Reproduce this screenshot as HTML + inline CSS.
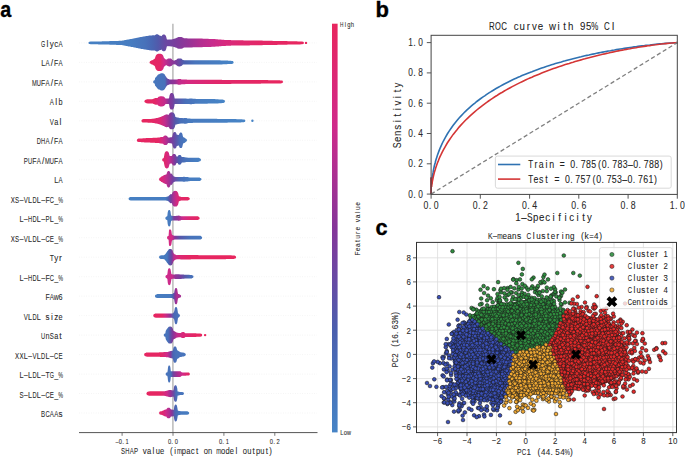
<!DOCTYPE html>
<html><head><meta charset="utf-8"><style>html,body{margin:0;padding:0;background:#fff;} svg{display:block;}</style></head>
<body><svg width="685" height="457" viewBox="0 0 685 457"><defs><linearGradient id="g0" gradientUnits="userSpaceOnUse" x1="88" y1="0" x2="306" y2="0"><stop offset="0.000" stop-color="#4680c3"/><stop offset="0.193" stop-color="#477dc1"/><stop offset="0.261" stop-color="#4872ba"/><stop offset="0.294" stop-color="#4966b3"/><stop offset="0.321" stop-color="#515aab"/><stop offset="0.353" stop-color="#6949a3"/><stop offset="0.399" stop-color="#793d9d"/><stop offset="0.459" stop-color="#943396"/><stop offset="0.514" stop-color="#b22e90"/><stop offset="0.569" stop-color="#c72b8c"/><stop offset="0.628" stop-color="#d7297e"/><stop offset="0.697" stop-color="#de2870"/><stop offset="0.789" stop-color="#e32767"/><stop offset="1.000" stop-color="#e8265e"/></linearGradient><linearGradient id="g1" gradientUnits="userSpaceOnUse" x1="149" y1="0" x2="234" y2="0"><stop offset="0.000" stop-color="#e62662"/><stop offset="0.129" stop-color="#e32767"/><stop offset="0.176" stop-color="#d02a8a"/><stop offset="0.247" stop-color="#9d3194"/><stop offset="0.318" stop-color="#793d9d"/><stop offset="0.412" stop-color="#4a5fae"/><stop offset="0.541" stop-color="#4875bc"/><stop offset="0.776" stop-color="#477dc1"/><stop offset="1.000" stop-color="#4684c6"/></linearGradient><linearGradient id="g2" gradientUnits="userSpaceOnUse" x1="153" y1="0" x2="283" y2="0"><stop offset="0.000" stop-color="#4778be"/><stop offset="0.092" stop-color="#4872ba"/><stop offset="0.108" stop-color="#624ea6"/><stop offset="0.138" stop-color="#853599"/><stop offset="0.169" stop-color="#943396"/><stop offset="0.200" stop-color="#c12c8d"/><stop offset="0.269" stop-color="#d52981"/><stop offset="0.477" stop-color="#e0276c"/><stop offset="1.000" stop-color="#e8265e"/></linearGradient><linearGradient id="g3" gradientUnits="userSpaceOnUse" x1="144" y1="0" x2="225" y2="0"><stop offset="0.000" stop-color="#e8265e"/><stop offset="0.136" stop-color="#e32767"/><stop offset="0.198" stop-color="#d52981"/><stop offset="0.259" stop-color="#c12c8d"/><stop offset="0.309" stop-color="#853599"/><stop offset="0.346" stop-color="#793d9d"/><stop offset="0.383" stop-color="#624ea6"/><stop offset="0.506" stop-color="#486eb8"/><stop offset="0.691" stop-color="#477dc1"/><stop offset="1.000" stop-color="#4684c6"/></linearGradient><linearGradient id="g4" gradientUnits="userSpaceOnUse" x1="141" y1="0" x2="245" y2="0"><stop offset="0.000" stop-color="#e8265e"/><stop offset="0.106" stop-color="#e52663"/><stop offset="0.183" stop-color="#dc2873"/><stop offset="0.231" stop-color="#c12c8d"/><stop offset="0.279" stop-color="#853599"/><stop offset="0.327" stop-color="#5657aa"/><stop offset="0.375" stop-color="#486eb8"/><stop offset="0.471" stop-color="#477abf"/><stop offset="1.000" stop-color="#4684c6"/></linearGradient><linearGradient id="g5" gradientUnits="userSpaceOnUse" x1="136" y1="0" x2="186" y2="0"><stop offset="0.000" stop-color="#e62662"/><stop offset="0.440" stop-color="#e52663"/><stop offset="0.520" stop-color="#d52981"/><stop offset="0.580" stop-color="#c12c8d"/><stop offset="0.680" stop-color="#853599"/><stop offset="0.780" stop-color="#624ea6"/><stop offset="0.880" stop-color="#486eb8"/><stop offset="1.000" stop-color="#477abf"/></linearGradient><linearGradient id="g6" gradientUnits="userSpaceOnUse" x1="162" y1="0" x2="201" y2="0"><stop offset="0.000" stop-color="#e32767"/><stop offset="0.103" stop-color="#dc2873"/><stop offset="0.179" stop-color="#d02a8a"/><stop offset="0.256" stop-color="#a33193"/><stop offset="0.333" stop-color="#793d9d"/><stop offset="0.436" stop-color="#4a5fae"/><stop offset="0.590" stop-color="#4872ba"/><stop offset="0.846" stop-color="#477dc1"/><stop offset="1.000" stop-color="#4680c3"/></linearGradient><linearGradient id="g7" gradientUnits="userSpaceOnUse" x1="159" y1="0" x2="201" y2="0"><stop offset="0.000" stop-color="#e0276c"/><stop offset="0.095" stop-color="#d7297e"/><stop offset="0.167" stop-color="#c12c8d"/><stop offset="0.238" stop-color="#a33193"/><stop offset="0.333" stop-color="#7242a0"/><stop offset="0.500" stop-color="#486eb8"/><stop offset="0.738" stop-color="#477dc1"/><stop offset="1.000" stop-color="#4680c3"/></linearGradient><linearGradient id="g8" gradientUnits="userSpaceOnUse" x1="128" y1="0" x2="190" y2="0"><stop offset="0.000" stop-color="#4680c3"/><stop offset="0.597" stop-color="#477dc1"/><stop offset="0.645" stop-color="#4966b3"/><stop offset="0.694" stop-color="#793d9d"/><stop offset="0.742" stop-color="#b22e90"/><stop offset="0.790" stop-color="#d52981"/><stop offset="0.855" stop-color="#e32767"/><stop offset="1.000" stop-color="#e62662"/></linearGradient><linearGradient id="g9" gradientUnits="userSpaceOnUse" x1="165" y1="0" x2="200" y2="0"><stop offset="0.000" stop-color="#477dc1"/><stop offset="0.171" stop-color="#477abf"/><stop offset="0.257" stop-color="#793d9d"/><stop offset="0.371" stop-color="#943396"/><stop offset="0.514" stop-color="#d02a8a"/><stop offset="0.714" stop-color="#de2870"/><stop offset="1.000" stop-color="#e62662"/></linearGradient><linearGradient id="g10" gradientUnits="userSpaceOnUse" x1="167" y1="0" x2="202" y2="0"><stop offset="0.000" stop-color="#d52981"/><stop offset="0.143" stop-color="#d32a85"/><stop offset="0.229" stop-color="#853599"/><stop offset="0.371" stop-color="#5657aa"/><stop offset="0.657" stop-color="#4872ba"/><stop offset="1.000" stop-color="#4778be"/></linearGradient><linearGradient id="g11" gradientUnits="userSpaceOnUse" x1="159" y1="0" x2="236" y2="0"><stop offset="0.000" stop-color="#477dc1"/><stop offset="0.104" stop-color="#477abf"/><stop offset="0.130" stop-color="#4a5fae"/><stop offset="0.169" stop-color="#793d9d"/><stop offset="0.195" stop-color="#c12c8d"/><stop offset="0.273" stop-color="#dc2873"/><stop offset="0.403" stop-color="#e52663"/><stop offset="1.000" stop-color="#e8265e"/></linearGradient><linearGradient id="g12" gradientUnits="userSpaceOnUse" x1="165" y1="0" x2="193" y2="0"><stop offset="0.000" stop-color="#d02a8a"/><stop offset="0.250" stop-color="#ca2b8b"/><stop offset="0.357" stop-color="#943396"/><stop offset="0.536" stop-color="#793d9d"/><stop offset="0.714" stop-color="#5657aa"/><stop offset="0.893" stop-color="#486eb8"/><stop offset="1.000" stop-color="#4872ba"/></linearGradient><linearGradient id="g13" gradientUnits="userSpaceOnUse" x1="155" y1="0" x2="181" y2="0"><stop offset="0.000" stop-color="#477dc1"/><stop offset="0.577" stop-color="#477abf"/><stop offset="0.692" stop-color="#4a5fae"/><stop offset="0.769" stop-color="#853599"/><stop offset="0.846" stop-color="#b22e90"/><stop offset="1.000" stop-color="#a33193"/></linearGradient><linearGradient id="g14" gradientUnits="userSpaceOnUse" x1="153" y1="0" x2="178" y2="0"><stop offset="0.000" stop-color="#e62662"/><stop offset="0.360" stop-color="#e52663"/><stop offset="0.480" stop-color="#d52981"/><stop offset="0.680" stop-color="#943396"/><stop offset="0.840" stop-color="#4969b5"/><stop offset="1.000" stop-color="#4871ba"/></linearGradient><linearGradient id="g15" gradientUnits="userSpaceOnUse" x1="163" y1="0" x2="205" y2="0"><stop offset="0.000" stop-color="#4875bc"/><stop offset="0.119" stop-color="#4872ba"/><stop offset="0.167" stop-color="#5657aa"/><stop offset="0.238" stop-color="#853599"/><stop offset="0.333" stop-color="#c12c8d"/><stop offset="0.476" stop-color="#da2878"/><stop offset="0.762" stop-color="#e52663"/><stop offset="1.000" stop-color="#e8265e"/></linearGradient><linearGradient id="g16" gradientUnits="userSpaceOnUse" x1="144" y1="0" x2="186" y2="0"><stop offset="0.000" stop-color="#e62662"/><stop offset="0.381" stop-color="#e52663"/><stop offset="0.452" stop-color="#de2870"/><stop offset="0.548" stop-color="#d02a8a"/><stop offset="0.619" stop-color="#943396"/><stop offset="0.690" stop-color="#4966b3"/><stop offset="0.762" stop-color="#4872ba"/><stop offset="1.000" stop-color="#4875bc"/></linearGradient><linearGradient id="g17" gradientUnits="userSpaceOnUse" x1="165" y1="0" x2="190" y2="0"><stop offset="0.000" stop-color="#4875bc"/><stop offset="0.240" stop-color="#4872ba"/><stop offset="0.320" stop-color="#6d46a1"/><stop offset="0.480" stop-color="#a33193"/><stop offset="0.680" stop-color="#d02a8a"/><stop offset="0.880" stop-color="#e0276c"/><stop offset="1.000" stop-color="#e52663"/></linearGradient><linearGradient id="g18" gradientUnits="userSpaceOnUse" x1="146" y1="0" x2="181" y2="0"><stop offset="0.000" stop-color="#e62662"/><stop offset="0.400" stop-color="#e52663"/><stop offset="0.486" stop-color="#de2870"/><stop offset="0.600" stop-color="#d02a8a"/><stop offset="0.714" stop-color="#943396"/><stop offset="0.800" stop-color="#624ea6"/><stop offset="0.857" stop-color="#486eb8"/><stop offset="1.000" stop-color="#4875bc"/></linearGradient><linearGradient id="g19" gradientUnits="userSpaceOnUse" x1="159" y1="0" x2="189" y2="0"><stop offset="0.000" stop-color="#e32767"/><stop offset="0.133" stop-color="#de2870"/><stop offset="0.233" stop-color="#d02a8a"/><stop offset="0.333" stop-color="#b22e90"/><stop offset="0.433" stop-color="#853599"/><stop offset="0.533" stop-color="#4966b3"/><stop offset="0.700" stop-color="#4778be"/><stop offset="1.000" stop-color="#477dc1"/></linearGradient><linearGradient id="cb" x1="0" y1="0" x2="0" y2="1"><stop offset="0.0" stop-color="#e8265e"/><stop offset="0.125" stop-color="#dc2874"/><stop offset="0.25" stop-color="#d02a8a"/><stop offset="0.375" stop-color="#aa3092"/><stop offset="0.5" stop-color="#853599"/><stop offset="0.625" stop-color="#684aa4"/><stop offset="0.75" stop-color="#4a5fae"/><stop offset="0.875" stop-color="#4872ba"/><stop offset="1.0" stop-color="#4684c6"/></linearGradient></defs><rect width="685" height="457" fill="#fff"/><text transform="translate(0.3,16.8) scale(0.88,1)" font-size="22.4" font-family="Liberation Sans, sans-serif" font-weight="bold" fill="#000" stroke="#000" stroke-width="0.35">a</text>
<text transform="translate(375.6,17.4) scale(1.0,1)" font-size="22" font-family="Liberation Sans, sans-serif" font-weight="bold" fill="#000" stroke="#000" stroke-width="0.35">b</text>
<text transform="translate(375.5,235.0) scale(1.0,1)" font-size="21.6" font-family="Liberation Sans, sans-serif" font-weight="bold" fill="#000" stroke="#000" stroke-width="0.35">c</text>
<line x1="79" y1="42.9" x2="317" y2="42.9" stroke="#ebebeb" stroke-width="0.6" stroke-dasharray="0.8,1.6"/>
<line x1="79" y1="62.4" x2="317" y2="62.4" stroke="#ebebeb" stroke-width="0.6" stroke-dasharray="0.8,1.6"/>
<line x1="79" y1="81.9" x2="317" y2="81.9" stroke="#ebebeb" stroke-width="0.6" stroke-dasharray="0.8,1.6"/>
<line x1="79" y1="101.3" x2="317" y2="101.3" stroke="#ebebeb" stroke-width="0.6" stroke-dasharray="0.8,1.6"/>
<line x1="79" y1="120.8" x2="317" y2="120.8" stroke="#ebebeb" stroke-width="0.6" stroke-dasharray="0.8,1.6"/>
<line x1="79" y1="140.3" x2="317" y2="140.3" stroke="#ebebeb" stroke-width="0.6" stroke-dasharray="0.8,1.6"/>
<line x1="79" y1="159.8" x2="317" y2="159.8" stroke="#ebebeb" stroke-width="0.6" stroke-dasharray="0.8,1.6"/>
<line x1="79" y1="179.3" x2="317" y2="179.3" stroke="#ebebeb" stroke-width="0.6" stroke-dasharray="0.8,1.6"/>
<line x1="79" y1="198.7" x2="317" y2="198.7" stroke="#ebebeb" stroke-width="0.6" stroke-dasharray="0.8,1.6"/>
<line x1="79" y1="218.2" x2="317" y2="218.2" stroke="#ebebeb" stroke-width="0.6" stroke-dasharray="0.8,1.6"/>
<line x1="79" y1="237.7" x2="317" y2="237.7" stroke="#ebebeb" stroke-width="0.6" stroke-dasharray="0.8,1.6"/>
<line x1="79" y1="257.2" x2="317" y2="257.2" stroke="#ebebeb" stroke-width="0.6" stroke-dasharray="0.8,1.6"/>
<line x1="79" y1="276.7" x2="317" y2="276.7" stroke="#ebebeb" stroke-width="0.6" stroke-dasharray="0.8,1.6"/>
<line x1="79" y1="296.1" x2="317" y2="296.1" stroke="#ebebeb" stroke-width="0.6" stroke-dasharray="0.8,1.6"/>
<line x1="79" y1="315.6" x2="317" y2="315.6" stroke="#ebebeb" stroke-width="0.6" stroke-dasharray="0.8,1.6"/>
<line x1="79" y1="335.1" x2="317" y2="335.1" stroke="#ebebeb" stroke-width="0.6" stroke-dasharray="0.8,1.6"/>
<line x1="79" y1="354.6" x2="317" y2="354.6" stroke="#ebebeb" stroke-width="0.6" stroke-dasharray="0.8,1.6"/>
<line x1="79" y1="374.1" x2="317" y2="374.1" stroke="#ebebeb" stroke-width="0.6" stroke-dasharray="0.8,1.6"/>
<line x1="79" y1="393.5" x2="317" y2="393.5" stroke="#ebebeb" stroke-width="0.6" stroke-dasharray="0.8,1.6"/>
<line x1="79" y1="413.0" x2="317" y2="413.0" stroke="#ebebeb" stroke-width="0.6" stroke-dasharray="0.8,1.6"/>
<line x1="172.9" y1="23.8" x2="172.9" y2="432.6" stroke="#b4b4b4" stroke-width="1.4"/>
<path d="M88.4,42.9 L88.8,42.0 L89.2,41.8 L89.6,41.7 L90.0,41.7 L90.4,41.6 L90.8,41.6 L91.2,41.6 L91.6,41.6 L92.0,41.6 L92.4,41.6 L92.8,41.6 L93.2,41.6 L93.6,41.6 L94.0,41.6 L94.4,41.5 L94.8,41.5 L95.2,41.5 L95.6,41.5 L96.0,41.5 L96.4,41.5 L96.8,41.5 L97.2,41.5 L97.6,41.5 L98.0,41.5 L98.4,41.4 L98.8,41.4 L99.2,41.4 L99.6,41.4 L100.0,41.4 L100.4,41.4 L100.8,41.4 L101.2,41.4 L101.6,41.4 L102.0,41.3 L102.4,41.3 L102.8,41.3 L103.2,41.3 L103.6,41.3 L104.0,41.3 L104.4,41.3 L104.8,41.3 L105.2,41.3 L105.6,41.3 L106.0,41.2 L106.4,41.2 L106.8,41.2 L107.2,41.2 L107.6,41.2 L108.0,41.2 L108.4,41.2 L108.8,41.2 L109.2,41.2 L109.6,41.1 L110.0,41.1 L110.4,41.1 L110.8,41.1 L111.2,41.1 L111.6,41.1 L112.0,41.1 L112.4,41.1 L112.8,41.1 L113.2,41.0 L113.6,41.0 L114.0,41.0 L114.4,41.0 L114.8,41.0 L115.2,41.0 L115.6,41.0 L116.0,41.0 L116.4,40.9 L116.8,40.9 L117.2,40.9 L117.6,40.9 L118.0,40.9 L118.4,40.9 L118.8,40.8 L119.2,40.8 L119.6,40.8 L120.0,40.8 L120.4,40.8 L120.8,40.8 L121.2,40.7 L121.6,40.7 L122.0,40.7 L122.4,40.6 L122.8,40.5 L123.2,40.5 L123.6,40.4 L124.0,40.3 L124.4,40.2 L124.8,40.1 L125.2,40.1 L125.6,40.0 L126.0,39.9 L126.4,39.8 L126.8,39.7 L127.2,39.7 L127.6,39.6 L128.0,39.5 L128.4,39.4 L128.8,39.4 L129.2,39.3 L129.6,39.2 L130.0,39.2 L130.4,39.1 L130.8,39.0 L131.2,38.9 L131.6,38.9 L132.0,38.8 L132.4,38.7 L132.8,38.7 L133.2,38.6 L133.6,38.5 L134.0,38.4 L134.4,38.3 L134.8,38.2 L135.2,38.2 L135.6,38.1 L136.0,38.0 L136.4,37.9 L136.8,37.8 L137.2,37.7 L137.6,37.7 L138.0,37.6 L138.4,37.5 L138.8,37.4 L139.2,37.3 L139.6,37.3 L140.0,37.2 L140.4,37.1 L140.8,37.0 L141.2,36.9 L141.6,36.9 L142.0,36.8 L142.4,36.7 L142.8,36.7 L143.2,36.6 L143.6,36.5 L144.0,36.5 L144.4,36.4 L144.8,36.3 L145.2,36.3 L145.6,36.2 L146.0,36.1 L146.4,36.1 L146.8,36.0 L147.2,36.0 L147.6,35.9 L148.0,35.8 L148.4,35.8 L148.8,35.7 L149.2,35.6 L149.6,35.6 L150.0,35.5 L150.4,35.5 L150.8,35.4 L151.2,35.4 L151.6,35.4 L152.0,35.4 L152.4,35.3 L152.8,35.3 L153.2,35.3 L153.6,35.3 L154.0,35.3 L154.4,35.3 L154.8,35.4 L155.2,35.0 L155.6,34.7 L156.0,34.5 L156.4,34.3 L156.8,34.3 L157.2,34.3 L157.6,34.3 L158.0,34.5 L158.4,34.7 L158.8,35.0 L159.2,35.5 L159.6,35.5 L160.0,35.5 L160.4,35.7 L160.8,35.9 L161.2,36.1 L161.6,36.2 L162.0,35.4 L162.4,35.0 L162.8,34.7 L163.2,34.5 L163.6,34.5 L164.0,34.5 L164.4,34.5 L164.8,34.7 L165.2,35.0 L165.6,35.4 L166.0,36.2 L166.4,37.5 L166.8,39.2 L167.2,39.5 L167.6,39.6 L168.0,39.7 L168.4,39.6 L168.8,39.6 L169.2,39.6 L169.6,39.5 L170.0,39.5 L170.4,39.5 L170.8,39.4 L171.2,39.4 L171.6,39.4 L172.0,39.3 L172.4,39.3 L172.8,39.2 L173.2,39.1 L173.6,38.9 L174.0,38.8 L174.4,38.7 L174.8,38.5 L175.2,38.4 L175.6,38.2 L176.0,38.2 L176.4,38.1 L176.8,37.8 L177.2,37.5 L177.6,37.4 L178.0,37.2 L178.4,37.1 L178.8,37.1 L179.2,37.0 L179.6,37.0 L180.0,37.0 L180.4,37.0 L180.8,37.0 L181.2,37.1 L181.6,37.1 L182.0,37.2 L182.4,37.4 L182.8,37.5 L183.2,37.8 L183.6,38.1 L184.0,38.3 L184.4,38.3 L184.8,38.3 L185.2,38.3 L185.6,38.3 L186.0,38.3 L186.4,38.3 L186.8,38.3 L187.2,38.3 L187.6,38.4 L188.0,38.4 L188.4,38.4 L188.8,38.4 L189.2,38.4 L189.6,38.4 L190.0,38.4 L190.4,38.4 L190.8,38.4 L191.2,38.4 L191.6,38.4 L192.0,38.4 L192.4,38.4 L192.8,38.5 L193.2,38.5 L193.6,38.5 L194.0,38.5 L194.4,38.5 L194.8,38.5 L195.2,38.5 L195.6,38.5 L196.0,38.5 L196.4,38.5 L196.8,38.5 L197.2,38.5 L197.6,38.6 L198.0,38.6 L198.4,38.6 L198.8,38.6 L199.2,38.6 L199.6,38.6 L200.0,38.6 L200.4,38.6 L200.8,38.6 L201.2,38.6 L201.6,38.6 L202.0,38.6 L202.4,38.6 L202.8,38.7 L203.2,38.7 L203.6,38.7 L204.0,38.7 L204.4,38.7 L204.8,38.7 L205.2,38.7 L205.6,38.7 L206.0,38.7 L206.4,38.8 L206.8,38.8 L207.2,38.8 L207.6,38.8 L208.0,38.8 L208.4,38.8 L208.8,38.9 L209.2,38.9 L209.6,38.9 L210.0,38.9 L210.4,38.9 L210.8,38.9 L211.2,38.9 L211.6,39.0 L212.0,39.0 L212.4,39.0 L212.8,39.0 L213.2,39.0 L213.6,39.0 L214.0,39.1 L214.4,39.1 L214.8,39.1 L215.2,39.1 L215.6,39.2 L216.0,39.2 L216.4,39.2 L216.8,39.3 L217.2,39.3 L217.6,39.3 L218.0,39.4 L218.4,39.4 L218.8,39.4 L219.2,39.5 L219.6,39.5 L220.0,39.5 L220.4,39.6 L220.8,39.6 L221.2,39.6 L221.6,39.7 L222.0,39.7 L222.4,39.7 L222.8,39.8 L223.2,39.8 L223.6,39.8 L224.0,39.8 L224.4,39.9 L224.8,39.9 L225.2,39.9 L225.6,39.9 L226.0,40.0 L226.4,40.0 L226.8,40.0 L227.2,40.0 L227.6,40.1 L228.0,40.1 L228.4,40.1 L228.8,40.1 L229.2,40.1 L229.6,40.1 L230.0,40.1 L230.4,40.1 L230.8,40.1 L231.2,40.2 L231.6,40.2 L232.0,40.2 L232.4,40.2 L232.8,40.2 L233.2,40.2 L233.6,40.2 L234.0,40.2 L234.4,40.2 L234.8,40.2 L235.2,40.2 L235.6,40.2 L236.0,40.2 L236.4,40.2 L236.8,40.2 L237.2,40.3 L237.6,40.3 L238.0,40.3 L238.4,40.3 L238.8,40.3 L239.2,40.3 L239.6,40.3 L240.0,40.3 L240.4,40.3 L240.8,40.3 L241.2,40.3 L241.6,40.3 L242.0,40.3 L242.4,40.3 L242.8,40.3 L243.2,40.3 L243.6,40.4 L244.0,40.4 L244.4,40.4 L244.8,40.4 L245.2,40.4 L245.6,40.4 L246.0,40.4 L246.4,40.4 L246.8,40.4 L247.2,40.4 L247.6,40.4 L248.0,40.4 L248.4,40.4 L248.8,40.4 L249.2,40.4 L249.6,40.4 L250.0,40.5 L250.4,40.5 L250.8,40.5 L251.2,40.5 L251.6,40.5 L252.0,40.5 L252.4,40.5 L252.8,40.5 L253.2,40.5 L253.6,40.5 L254.0,40.5 L254.4,40.5 L254.8,40.5 L255.2,40.5 L255.6,40.5 L256.0,40.5 L256.4,40.5 L256.8,40.6 L257.2,40.6 L257.6,40.6 L258.0,40.6 L258.4,40.6 L258.8,40.6 L259.2,40.6 L259.6,40.6 L260.0,40.6 L260.4,40.6 L260.8,40.6 L261.2,40.6 L261.6,40.6 L262.0,40.6 L262.4,40.6 L262.8,40.7 L263.2,40.7 L263.6,40.7 L264.0,40.7 L264.4,40.7 L264.8,40.7 L265.2,40.7 L265.6,40.7 L266.0,40.7 L266.4,40.7 L266.8,40.7 L267.2,40.7 L267.6,40.8 L268.0,40.8 L268.4,40.8 L268.8,40.8 L269.2,40.8 L269.6,40.8 L270.0,40.8 L270.4,40.8 L270.8,40.8 L271.2,40.8 L271.6,40.8 L272.0,40.8 L272.4,40.8 L272.8,40.9 L273.2,40.9 L273.6,40.9 L274.0,40.9 L274.4,40.9 L274.8,40.9 L275.2,40.9 L275.6,40.9 L276.0,40.9 L276.4,40.9 L276.8,40.9 L277.2,40.9 L277.6,41.0 L278.0,41.0 L278.4,41.0 L278.8,41.0 L279.2,41.0 L279.6,41.0 L280.0,41.0 L280.4,41.0 L280.8,41.0 L281.2,41.0 L281.6,41.0 L282.0,41.0 L282.4,41.0 L282.8,41.1 L283.2,41.1 L283.6,41.1 L284.0,41.1 L284.4,41.1 L284.8,41.1 L285.2,41.1 L285.6,41.1 L286.0,41.1 L286.4,41.1 L286.8,41.1 L287.2,41.1 L287.6,41.2 L288.0,41.2 L288.4,41.2 L288.8,41.2 L289.2,41.2 L289.6,41.2 L290.0,41.2 L290.4,41.2 L290.8,41.2 L291.2,41.2 L291.6,41.2 L292.0,41.2 L292.4,41.2 L292.8,41.3 L293.2,41.3 L293.6,41.3 L294.0,41.3 L294.4,41.3 L294.8,41.3 L295.2,41.3 L295.6,41.3 L296.0,41.3 L296.4,41.3 L296.8,41.3 L297.2,41.3 L297.6,41.4 L298.0,41.4 L298.4,41.4 L298.8,41.4 L299.2,41.4 L299.6,41.4 L300.0,41.4 L300.4,41.4 L300.8,41.5 L301.2,41.5 L301.6,41.5 L302.0,41.6 L302.4,41.6 L302.8,41.7 L303.2,41.8 L303.6,42.0 L304.0,42.9 L304.0,42.9 L303.6,43.8 L303.2,44.0 L302.8,44.1 L302.4,44.2 L302.0,44.2 L301.6,44.3 L301.2,44.3 L300.8,44.3 L300.4,44.4 L300.0,44.4 L299.6,44.4 L299.2,44.4 L298.8,44.4 L298.4,44.4 L298.0,44.4 L297.6,44.4 L297.2,44.5 L296.8,44.5 L296.4,44.5 L296.0,44.5 L295.6,44.5 L295.2,44.5 L294.8,44.5 L294.4,44.5 L294.0,44.5 L293.6,44.5 L293.2,44.5 L292.8,44.5 L292.4,44.6 L292.0,44.6 L291.6,44.6 L291.2,44.6 L290.8,44.6 L290.4,44.6 L290.0,44.6 L289.6,44.6 L289.2,44.6 L288.8,44.6 L288.4,44.6 L288.0,44.6 L287.6,44.6 L287.2,44.7 L286.8,44.7 L286.4,44.7 L286.0,44.7 L285.6,44.7 L285.2,44.7 L284.8,44.7 L284.4,44.7 L284.0,44.7 L283.6,44.7 L283.2,44.7 L282.8,44.7 L282.4,44.8 L282.0,44.8 L281.6,44.8 L281.2,44.8 L280.8,44.8 L280.4,44.8 L280.0,44.8 L279.6,44.8 L279.2,44.8 L278.8,44.8 L278.4,44.8 L278.0,44.8 L277.6,44.8 L277.2,44.9 L276.8,44.9 L276.4,44.9 L276.0,44.9 L275.6,44.9 L275.2,44.9 L274.8,44.9 L274.4,44.9 L274.0,44.9 L273.6,44.9 L273.2,44.9 L272.8,44.9 L272.4,45.0 L272.0,45.0 L271.6,45.0 L271.2,45.0 L270.8,45.0 L270.4,45.0 L270.0,45.0 L269.6,45.0 L269.2,45.0 L268.8,45.0 L268.4,45.0 L268.0,45.0 L267.6,45.0 L267.2,45.1 L266.8,45.1 L266.4,45.1 L266.0,45.1 L265.6,45.1 L265.2,45.1 L264.8,45.1 L264.4,45.1 L264.0,45.1 L263.6,45.1 L263.2,45.1 L262.8,45.1 L262.4,45.2 L262.0,45.2 L261.6,45.2 L261.2,45.2 L260.8,45.2 L260.4,45.2 L260.0,45.2 L259.6,45.2 L259.2,45.2 L258.8,45.2 L258.4,45.2 L258.0,45.2 L257.6,45.2 L257.2,45.2 L256.8,45.2 L256.4,45.3 L256.0,45.3 L255.6,45.3 L255.2,45.3 L254.8,45.3 L254.4,45.3 L254.0,45.3 L253.6,45.3 L253.2,45.3 L252.8,45.3 L252.4,45.3 L252.0,45.3 L251.6,45.3 L251.2,45.3 L250.8,45.3 L250.4,45.3 L250.0,45.3 L249.6,45.4 L249.2,45.4 L248.8,45.4 L248.4,45.4 L248.0,45.4 L247.6,45.4 L247.2,45.4 L246.8,45.4 L246.4,45.4 L246.0,45.4 L245.6,45.4 L245.2,45.4 L244.8,45.4 L244.4,45.4 L244.0,45.4 L243.6,45.4 L243.2,45.5 L242.8,45.5 L242.4,45.5 L242.0,45.5 L241.6,45.5 L241.2,45.5 L240.8,45.5 L240.4,45.5 L240.0,45.5 L239.6,45.5 L239.2,45.5 L238.8,45.5 L238.4,45.5 L238.0,45.5 L237.6,45.5 L237.2,45.5 L236.8,45.6 L236.4,45.6 L236.0,45.6 L235.6,45.6 L235.2,45.6 L234.8,45.6 L234.4,45.6 L234.0,45.6 L233.6,45.6 L233.2,45.6 L232.8,45.6 L232.4,45.6 L232.0,45.6 L231.6,45.6 L231.2,45.6 L230.8,45.7 L230.4,45.7 L230.0,45.7 L229.6,45.7 L229.2,45.7 L228.8,45.7 L228.4,45.7 L228.0,45.7 L227.6,45.7 L227.2,45.8 L226.8,45.8 L226.4,45.8 L226.0,45.8 L225.6,45.9 L225.2,45.9 L224.8,45.9 L224.4,45.9 L224.0,46.0 L223.6,46.0 L223.2,46.0 L222.8,46.0 L222.4,46.1 L222.0,46.1 L221.6,46.1 L221.2,46.2 L220.8,46.2 L220.4,46.2 L220.0,46.3 L219.6,46.3 L219.2,46.3 L218.8,46.4 L218.4,46.4 L218.0,46.4 L217.6,46.5 L217.2,46.5 L216.8,46.5 L216.4,46.6 L216.0,46.6 L215.6,46.6 L215.2,46.7 L214.8,46.7 L214.4,46.7 L214.0,46.7 L213.6,46.8 L213.2,46.8 L212.8,46.8 L212.4,46.8 L212.0,46.8 L211.6,46.8 L211.2,46.9 L210.8,46.9 L210.4,46.9 L210.0,46.9 L209.6,46.9 L209.2,46.9 L208.8,46.9 L208.4,47.0 L208.0,47.0 L207.6,47.0 L207.2,47.0 L206.8,47.0 L206.4,47.0 L206.0,47.1 L205.6,47.1 L205.2,47.1 L204.8,47.1 L204.4,47.1 L204.0,47.1 L203.6,47.1 L203.2,47.1 L202.8,47.1 L202.4,47.2 L202.0,47.2 L201.6,47.2 L201.2,47.2 L200.8,47.2 L200.4,47.2 L200.0,47.2 L199.6,47.2 L199.2,47.2 L198.8,47.2 L198.4,47.2 L198.0,47.2 L197.6,47.2 L197.2,47.3 L196.8,47.3 L196.4,47.3 L196.0,47.3 L195.6,47.3 L195.2,47.3 L194.8,47.3 L194.4,47.3 L194.0,47.3 L193.6,47.3 L193.2,47.3 L192.8,47.3 L192.4,47.4 L192.0,47.4 L191.6,47.4 L191.2,47.4 L190.8,47.4 L190.4,47.4 L190.0,47.4 L189.6,47.4 L189.2,47.4 L188.8,47.4 L188.4,47.4 L188.0,47.4 L187.6,47.4 L187.2,47.5 L186.8,47.5 L186.4,47.5 L186.0,47.5 L185.6,47.5 L185.2,47.5 L184.8,47.5 L184.4,47.5 L184.0,47.5 L183.6,47.7 L183.2,48.0 L182.8,48.3 L182.4,48.4 L182.0,48.6 L181.6,48.7 L181.2,48.7 L180.8,48.8 L180.4,48.8 L180.0,48.8 L179.6,48.8 L179.2,48.8 L178.8,48.7 L178.4,48.7 L178.0,48.6 L177.6,48.4 L177.2,48.3 L176.8,48.0 L176.4,47.7 L176.0,47.6 L175.6,47.6 L175.2,47.4 L174.8,47.3 L174.4,47.1 L174.0,47.0 L173.6,46.9 L173.2,46.7 L172.8,46.6 L172.4,46.5 L172.0,46.5 L171.6,46.4 L171.2,46.4 L170.8,46.4 L170.4,46.3 L170.0,46.3 L169.6,46.3 L169.2,46.2 L168.8,46.2 L168.4,46.2 L168.0,46.1 L167.6,46.2 L167.2,46.3 L166.8,46.6 L166.4,48.3 L166.0,49.6 L165.6,50.4 L165.2,50.8 L164.8,51.1 L164.4,51.3 L164.0,51.3 L163.6,51.3 L163.2,51.3 L162.8,51.1 L162.4,50.8 L162.0,50.4 L161.6,49.6 L161.2,49.7 L160.8,49.9 L160.4,50.1 L160.0,50.3 L159.6,50.3 L159.2,50.3 L158.8,50.8 L158.4,51.1 L158.0,51.3 L157.6,51.5 L157.2,51.5 L156.8,51.5 L156.4,51.5 L156.0,51.3 L155.6,51.1 L155.2,50.8 L154.8,50.4 L154.4,50.5 L154.0,50.5 L153.6,50.5 L153.2,50.5 L152.8,50.5 L152.4,50.5 L152.0,50.4 L151.6,50.4 L151.2,50.4 L150.8,50.4 L150.4,50.3 L150.0,50.3 L149.6,50.2 L149.2,50.2 L148.8,50.1 L148.4,50.0 L148.0,50.0 L147.6,49.9 L147.2,49.8 L146.8,49.8 L146.4,49.7 L146.0,49.7 L145.6,49.6 L145.2,49.5 L144.8,49.5 L144.4,49.4 L144.0,49.3 L143.6,49.3 L143.2,49.2 L142.8,49.1 L142.4,49.1 L142.0,49.0 L141.6,48.9 L141.2,48.9 L140.8,48.8 L140.4,48.7 L140.0,48.6 L139.6,48.5 L139.2,48.5 L138.8,48.4 L138.4,48.3 L138.0,48.2 L137.6,48.1 L137.2,48.1 L136.8,48.0 L136.4,47.9 L136.0,47.8 L135.6,47.7 L135.2,47.6 L134.8,47.6 L134.4,47.5 L134.0,47.4 L133.6,47.3 L133.2,47.2 L132.8,47.1 L132.4,47.1 L132.0,47.0 L131.6,46.9 L131.2,46.9 L130.8,46.8 L130.4,46.7 L130.0,46.6 L129.6,46.6 L129.2,46.5 L128.8,46.4 L128.4,46.4 L128.0,46.3 L127.6,46.2 L127.2,46.1 L126.8,46.1 L126.4,46.0 L126.0,45.9 L125.6,45.8 L125.2,45.7 L124.8,45.7 L124.4,45.6 L124.0,45.5 L123.6,45.4 L123.2,45.3 L122.8,45.3 L122.4,45.2 L122.0,45.1 L121.6,45.1 L121.2,45.1 L120.8,45.0 L120.4,45.0 L120.0,45.0 L119.6,45.0 L119.2,45.0 L118.8,45.0 L118.4,44.9 L118.0,44.9 L117.6,44.9 L117.2,44.9 L116.8,44.9 L116.4,44.9 L116.0,44.8 L115.6,44.8 L115.2,44.8 L114.8,44.8 L114.4,44.8 L114.0,44.8 L113.6,44.8 L113.2,44.8 L112.8,44.7 L112.4,44.7 L112.0,44.7 L111.6,44.7 L111.2,44.7 L110.8,44.7 L110.4,44.7 L110.0,44.7 L109.6,44.7 L109.2,44.6 L108.8,44.6 L108.4,44.6 L108.0,44.6 L107.6,44.6 L107.2,44.6 L106.8,44.6 L106.4,44.6 L106.0,44.6 L105.6,44.5 L105.2,44.5 L104.8,44.5 L104.4,44.5 L104.0,44.5 L103.6,44.5 L103.2,44.5 L102.8,44.5 L102.4,44.5 L102.0,44.5 L101.6,44.4 L101.2,44.4 L100.8,44.4 L100.4,44.4 L100.0,44.4 L99.6,44.4 L99.2,44.4 L98.8,44.4 L98.4,44.4 L98.0,44.3 L97.6,44.3 L97.2,44.3 L96.8,44.3 L96.4,44.3 L96.0,44.3 L95.6,44.3 L95.2,44.3 L94.8,44.3 L94.4,44.3 L94.0,44.2 L93.6,44.2 L93.2,44.2 L92.8,44.2 L92.4,44.2 L92.0,44.2 L91.6,44.2 L91.2,44.2 L90.8,44.2 L90.4,44.2 L90.0,44.1 L89.6,44.1 L89.2,44.0 L88.8,43.8 L88.4,42.9Z" fill="url(#g0)"/>
<circle cx="306" cy="42.9" r="1.2" fill="#e8265e"/>
<path d="M149.5,62.4 L149.9,61.4 L150.3,61.1 L150.7,61.0 L151.1,60.6 L151.5,60.4 L151.9,60.3 L152.3,60.2 L152.7,60.0 L153.1,59.8 L153.5,59.5 L153.9,59.2 L154.3,58.9 L154.7,58.7 L155.1,57.7 L155.5,56.4 L155.9,55.6 L156.3,55.0 L156.7,54.6 L157.1,54.3 L157.5,54.0 L157.9,53.9 L158.3,53.8 L158.7,53.7 L159.1,53.7 L159.5,53.7 L159.9,53.7 L160.3,53.7 L160.7,53.8 L161.1,53.9 L161.5,54.0 L161.9,54.3 L162.3,54.6 L162.7,55.0 L163.1,55.6 L163.5,56.4 L163.9,57.7 L164.3,58.2 L164.7,58.5 L165.1,58.9 L165.5,59.2 L165.9,59.4 L166.3,59.5 L166.7,59.6 L167.1,59.3 L167.5,58.9 L167.9,58.6 L168.3,58.5 L168.7,58.4 L169.1,58.4 L169.5,58.4 L169.9,58.4 L170.3,58.4 L170.7,58.5 L171.1,58.6 L171.5,58.9 L171.9,59.3 L172.3,59.9 L172.7,60.1 L173.1,60.2 L173.5,60.4 L173.9,60.5 L174.3,60.5 L174.7,60.4 L175.1,60.2 L175.5,60.1 L175.9,60.0 L176.3,59.9 L176.7,59.3 L177.1,59.0 L177.5,58.7 L177.9,58.6 L178.3,58.5 L178.7,58.4 L179.1,58.4 L179.5,58.4 L179.9,58.4 L180.3,58.4 L180.7,58.5 L181.1,58.6 L181.5,58.8 L181.9,59.1 L182.3,59.6 L182.7,60.1 L183.1,60.1 L183.5,60.1 L183.9,60.2 L184.3,60.2 L184.7,60.2 L185.1,60.2 L185.5,60.2 L185.9,60.2 L186.3,60.2 L186.7,60.2 L187.1,60.2 L187.5,60.2 L187.9,60.2 L188.3,60.2 L188.7,60.2 L189.1,60.2 L189.5,60.2 L189.9,60.2 L190.3,60.2 L190.7,60.2 L191.1,60.2 L191.5,60.2 L191.9,60.2 L192.3,60.2 L192.7,60.2 L193.1,60.2 L193.5,60.2 L193.9,60.2 L194.3,60.2 L194.7,60.2 L195.1,60.2 L195.5,60.2 L195.9,60.2 L196.3,60.2 L196.7,60.2 L197.1,60.2 L197.5,60.2 L197.9,60.2 L198.3,60.2 L198.7,60.2 L199.1,60.2 L199.5,60.2 L199.9,60.2 L200.3,60.2 L200.7,60.2 L201.1,60.2 L201.5,60.2 L201.9,60.2 L202.3,60.2 L202.7,60.2 L203.1,60.2 L203.5,60.2 L203.9,60.2 L204.3,60.2 L204.7,60.2 L205.1,60.2 L205.5,60.2 L205.9,60.2 L206.3,60.2 L206.7,60.2 L207.1,60.2 L207.5,60.2 L207.9,60.2 L208.3,60.2 L208.7,60.2 L209.1,60.2 L209.5,60.2 L209.9,60.2 L210.3,60.2 L210.7,60.2 L211.1,60.2 L211.5,60.2 L211.9,60.2 L212.3,60.2 L212.7,60.2 L213.1,60.2 L213.5,60.2 L213.9,60.2 L214.3,60.2 L214.7,60.2 L215.1,60.2 L215.5,60.2 L215.9,60.2 L216.3,60.2 L216.7,60.2 L217.1,60.2 L217.5,60.3 L217.9,60.3 L218.3,60.3 L218.7,60.3 L219.1,60.3 L219.5,60.3 L219.9,60.3 L220.3,60.3 L220.7,60.4 L221.1,60.4 L221.5,60.4 L221.9,60.4 L222.3,60.4 L222.7,60.4 L223.1,60.4 L223.5,60.4 L223.9,60.4 L224.3,60.5 L224.7,60.5 L225.1,60.5 L225.5,60.5 L225.9,60.5 L226.3,60.6 L226.7,60.6 L227.1,60.6 L227.5,60.6 L227.9,60.6 L228.3,60.7 L228.7,60.7 L229.1,60.7 L229.5,60.7 L229.9,60.8 L230.3,60.8 L230.7,60.8 L231.1,60.8 L231.5,60.9 L231.9,60.9 L232.3,61.0 L232.7,61.1 L233.1,61.3 L233.5,61.9 L233.6,62.4 L233.6,62.4 L233.5,62.9 L233.1,63.5 L232.7,63.7 L232.3,63.8 L231.9,63.9 L231.5,63.9 L231.1,63.9 L230.7,63.9 L230.3,64.0 L229.9,64.0 L229.5,64.0 L229.1,64.0 L228.7,64.1 L228.3,64.1 L227.9,64.1 L227.5,64.1 L227.1,64.2 L226.7,64.2 L226.3,64.2 L225.9,64.2 L225.5,64.3 L225.1,64.3 L224.7,64.3 L224.3,64.3 L223.9,64.3 L223.5,64.3 L223.1,64.3 L222.7,64.3 L222.3,64.4 L221.9,64.4 L221.5,64.4 L221.1,64.4 L220.7,64.4 L220.3,64.4 L219.9,64.4 L219.5,64.4 L219.1,64.5 L218.7,64.5 L218.3,64.5 L217.9,64.5 L217.5,64.5 L217.1,64.5 L216.7,64.5 L216.3,64.5 L215.9,64.6 L215.5,64.6 L215.1,64.6 L214.7,64.6 L214.3,64.6 L213.9,64.6 L213.5,64.6 L213.1,64.6 L212.7,64.6 L212.3,64.6 L211.9,64.6 L211.5,64.6 L211.1,64.6 L210.7,64.6 L210.3,64.6 L209.9,64.6 L209.5,64.6 L209.1,64.6 L208.7,64.6 L208.3,64.6 L207.9,64.6 L207.5,64.6 L207.1,64.6 L206.7,64.6 L206.3,64.6 L205.9,64.6 L205.5,64.6 L205.1,64.6 L204.7,64.6 L204.3,64.6 L203.9,64.6 L203.5,64.6 L203.1,64.6 L202.7,64.6 L202.3,64.6 L201.9,64.6 L201.5,64.6 L201.1,64.6 L200.7,64.6 L200.3,64.6 L199.9,64.6 L199.5,64.6 L199.1,64.6 L198.7,64.6 L198.3,64.6 L197.9,64.6 L197.5,64.6 L197.1,64.6 L196.7,64.6 L196.3,64.6 L195.9,64.6 L195.5,64.6 L195.1,64.6 L194.7,64.6 L194.3,64.6 L193.9,64.6 L193.5,64.6 L193.1,64.6 L192.7,64.6 L192.3,64.6 L191.9,64.6 L191.5,64.6 L191.1,64.6 L190.7,64.6 L190.3,64.6 L189.9,64.6 L189.5,64.6 L189.1,64.6 L188.7,64.6 L188.3,64.6 L187.9,64.6 L187.5,64.6 L187.1,64.6 L186.7,64.6 L186.3,64.6 L185.9,64.6 L185.5,64.6 L185.1,64.6 L184.7,64.6 L184.3,64.6 L183.9,64.6 L183.5,64.6 L183.1,64.6 L182.7,64.7 L182.3,65.2 L181.9,65.6 L181.5,65.9 L181.1,66.1 L180.7,66.3 L180.3,66.3 L179.9,66.4 L179.5,66.4 L179.1,66.4 L178.7,66.4 L178.3,66.3 L177.9,66.2 L177.5,66.0 L177.1,65.8 L176.7,65.4 L176.3,64.9 L175.9,64.8 L175.5,64.6 L175.1,64.5 L174.7,64.4 L174.3,64.3 L173.9,64.3 L173.5,64.4 L173.1,64.5 L172.7,64.7 L172.3,64.9 L171.9,65.5 L171.5,65.9 L171.1,66.1 L170.7,66.3 L170.3,66.3 L169.9,66.4 L169.5,66.4 L169.1,66.4 L168.7,66.3 L168.3,66.3 L167.9,66.1 L167.5,65.9 L167.1,65.5 L166.7,65.2 L166.3,65.2 L165.9,65.3 L165.5,65.6 L165.1,65.9 L164.7,66.2 L164.3,66.5 L163.9,67.1 L163.5,68.4 L163.1,69.2 L162.7,69.8 L162.3,70.2 L161.9,70.5 L161.5,70.7 L161.1,70.9 L160.7,71.0 L160.3,71.0 L159.9,71.1 L159.5,71.1 L159.1,71.1 L158.7,71.0 L158.3,71.0 L157.9,70.9 L157.5,70.7 L157.1,70.5 L156.7,70.2 L156.3,69.8 L155.9,69.2 L155.5,68.4 L155.1,67.1 L154.7,66.1 L154.3,65.8 L153.9,65.5 L153.5,65.3 L153.1,65.0 L152.7,64.7 L152.3,64.6 L151.9,64.4 L151.5,64.3 L151.1,64.2 L150.7,63.8 L150.3,63.6 L149.9,63.4 L149.5,62.4Z" fill="url(#g1)"/>
<path d="M153.1,81.9 L153.5,80.8 L153.9,80.4 L154.3,80.2 L154.7,80.2 L155.1,78.1 L155.5,77.6 L155.9,77.2 L156.3,76.7 L156.7,76.2 L157.1,75.8 L157.5,75.3 L157.9,74.8 L158.3,74.5 L158.7,74.3 L159.1,74.3 L159.5,74.1 L159.9,73.8 L160.3,73.5 L160.7,73.4 L161.1,73.3 L161.5,73.3 L161.9,73.3 L162.3,73.3 L162.7,73.3 L163.1,73.4 L163.5,73.5 L163.9,73.8 L164.3,74.1 L164.7,74.6 L165.1,75.2 L165.5,75.9 L165.9,76.5 L166.3,77.1 L166.7,77.8 L167.1,78.2 L167.5,78.5 L167.9,78.7 L168.3,78.9 L168.7,79.0 L169.1,79.2 L169.5,79.4 L169.9,79.5 L170.3,79.5 L170.7,79.6 L171.1,79.6 L171.5,79.6 L171.9,79.6 L172.3,79.6 L172.7,79.6 L173.1,79.6 L173.5,79.6 L173.9,79.6 L174.3,79.6 L174.7,79.6 L175.1,79.6 L175.5,79.6 L175.9,79.6 L176.3,79.6 L176.7,79.5 L177.1,79.5 L177.5,79.3 L177.9,79.2 L178.3,79.0 L178.7,79.0 L179.1,79.0 L179.5,79.0 L179.9,79.0 L180.3,79.0 L180.7,79.1 L181.1,79.2 L181.5,79.5 L181.9,79.5 L182.3,79.5 L182.7,79.5 L183.1,79.5 L183.5,79.5 L183.9,79.5 L184.3,79.5 L184.7,79.5 L185.1,79.6 L185.5,79.6 L185.9,79.6 L186.3,79.6 L186.7,79.6 L187.1,79.7 L187.5,79.7 L187.9,79.7 L188.3,79.7 L188.7,79.7 L189.1,79.8 L189.5,79.8 L189.9,79.8 L190.3,79.8 L190.7,79.8 L191.1,79.8 L191.5,79.8 L191.9,79.8 L192.3,79.8 L192.7,79.8 L193.1,79.8 L193.5,79.8 L193.9,79.8 L194.3,79.8 L194.7,79.8 L195.1,79.8 L195.5,79.8 L195.9,79.8 L196.3,79.8 L196.7,79.8 L197.1,79.8 L197.5,79.8 L197.9,79.8 L198.3,79.8 L198.7,79.8 L199.1,79.8 L199.5,79.8 L199.9,79.8 L200.3,79.8 L200.7,79.8 L201.1,79.8 L201.5,79.8 L201.9,79.8 L202.3,79.8 L202.7,79.8 L203.1,79.8 L203.5,79.8 L203.9,79.8 L204.3,79.8 L204.7,79.8 L205.1,79.8 L205.5,79.8 L205.9,79.8 L206.3,79.8 L206.7,79.8 L207.1,79.8 L207.5,79.8 L207.9,79.8 L208.3,79.8 L208.7,79.8 L209.1,79.8 L209.5,79.8 L209.9,79.8 L210.3,79.8 L210.7,79.8 L211.1,79.8 L211.5,79.8 L211.9,79.8 L212.3,79.8 L212.7,79.8 L213.1,79.8 L213.5,79.8 L213.9,79.8 L214.3,79.8 L214.7,79.8 L215.1,79.8 L215.5,79.8 L215.9,79.8 L216.3,79.8 L216.7,79.8 L217.1,79.8 L217.5,79.8 L217.9,79.8 L218.3,79.8 L218.7,79.8 L219.1,79.8 L219.5,79.8 L219.9,79.8 L220.3,79.8 L220.7,79.8 L221.1,79.8 L221.5,79.8 L221.9,79.8 L222.3,79.9 L222.7,79.9 L223.1,79.9 L223.5,79.9 L223.9,79.9 L224.3,79.9 L224.7,79.9 L225.1,79.9 L225.5,79.9 L225.9,79.9 L226.3,79.9 L226.7,79.9 L227.1,79.9 L227.5,79.9 L227.9,79.9 L228.3,79.9 L228.7,79.9 L229.1,79.9 L229.5,79.9 L229.9,79.9 L230.3,79.9 L230.7,79.9 L231.1,79.9 L231.5,79.9 L231.9,79.9 L232.3,79.9 L232.7,79.9 L233.1,79.9 L233.5,79.9 L233.9,79.9 L234.3,79.9 L234.7,79.9 L235.1,79.9 L235.5,79.9 L235.9,79.9 L236.3,79.9 L236.7,79.9 L237.1,79.9 L237.5,79.9 L237.9,79.9 L238.3,79.9 L238.7,79.9 L239.1,79.9 L239.5,79.9 L239.9,79.9 L240.3,79.9 L240.7,79.9 L241.1,79.9 L241.5,79.9 L241.9,79.9 L242.3,79.9 L242.7,79.9 L243.1,79.9 L243.5,80.0 L243.9,80.0 L244.3,80.0 L244.7,80.0 L245.1,80.0 L245.5,80.0 L245.9,80.0 L246.3,80.0 L246.7,80.0 L247.1,80.0 L247.5,80.0 L247.9,80.0 L248.3,80.0 L248.7,80.0 L249.1,80.0 L249.5,80.0 L249.9,80.0 L250.3,80.0 L250.7,80.0 L251.1,80.0 L251.5,80.0 L251.9,80.0 L252.3,80.0 L252.7,80.0 L253.1,80.0 L253.5,80.0 L253.9,80.0 L254.3,80.0 L254.7,80.0 L255.1,80.0 L255.5,80.0 L255.9,80.0 L256.3,80.0 L256.7,80.0 L257.1,80.0 L257.5,80.0 L257.9,80.0 L258.3,80.0 L258.7,80.1 L259.1,80.1 L259.5,80.1 L259.9,80.1 L260.3,80.1 L260.7,80.1 L261.1,80.1 L261.5,80.1 L261.9,80.1 L262.3,80.1 L262.7,80.1 L263.1,80.1 L263.5,80.1 L263.9,80.1 L264.3,80.1 L264.7,80.1 L265.1,80.1 L265.5,80.1 L265.9,80.1 L266.3,80.1 L266.7,80.1 L267.1,80.1 L267.5,80.1 L267.9,80.1 L268.3,80.2 L268.7,80.2 L269.1,80.2 L269.5,80.2 L269.9,80.2 L270.3,80.2 L270.7,80.2 L271.1,80.2 L271.5,80.2 L271.9,80.2 L272.3,80.2 L272.7,80.2 L273.1,80.2 L273.5,80.2 L273.9,80.2 L274.3,80.2 L274.7,80.2 L275.1,80.2 L275.5,80.2 L275.9,80.2 L276.3,80.2 L276.7,80.2 L277.1,80.3 L277.5,80.3 L277.9,80.3 L278.3,80.3 L278.7,80.3 L279.1,80.3 L279.5,80.3 L279.9,80.3 L280.3,80.4 L280.7,80.4 L281.1,80.4 L281.5,80.4 L281.9,80.5 L282.3,80.6 L282.7,81.0 L283.0,81.9 L283.0,81.9 L282.7,82.7 L282.3,83.1 L281.9,83.2 L281.5,83.3 L281.1,83.3 L280.7,83.4 L280.3,83.4 L279.9,83.4 L279.5,83.4 L279.1,83.4 L278.7,83.4 L278.3,83.4 L277.9,83.5 L277.5,83.5 L277.1,83.5 L276.7,83.5 L276.3,83.5 L275.9,83.5 L275.5,83.5 L275.1,83.5 L274.7,83.5 L274.3,83.5 L273.9,83.5 L273.5,83.5 L273.1,83.5 L272.7,83.5 L272.3,83.5 L271.9,83.5 L271.5,83.5 L271.1,83.5 L270.7,83.5 L270.3,83.5 L269.9,83.5 L269.5,83.6 L269.1,83.6 L268.7,83.6 L268.3,83.6 L267.9,83.6 L267.5,83.6 L267.1,83.6 L266.7,83.6 L266.3,83.6 L265.9,83.6 L265.5,83.6 L265.1,83.6 L264.7,83.6 L264.3,83.6 L263.9,83.6 L263.5,83.6 L263.1,83.6 L262.7,83.6 L262.3,83.6 L261.9,83.6 L261.5,83.6 L261.1,83.6 L260.7,83.7 L260.3,83.7 L259.9,83.7 L259.5,83.7 L259.1,83.7 L258.7,83.7 L258.3,83.7 L257.9,83.7 L257.5,83.7 L257.1,83.7 L256.7,83.7 L256.3,83.7 L255.9,83.7 L255.5,83.7 L255.1,83.7 L254.7,83.7 L254.3,83.7 L253.9,83.7 L253.5,83.7 L253.1,83.7 L252.7,83.7 L252.3,83.7 L251.9,83.7 L251.5,83.7 L251.1,83.7 L250.7,83.7 L250.3,83.7 L249.9,83.7 L249.5,83.7 L249.1,83.7 L248.7,83.7 L248.3,83.7 L247.9,83.7 L247.5,83.7 L247.1,83.7 L246.7,83.7 L246.3,83.8 L245.9,83.8 L245.5,83.8 L245.1,83.8 L244.7,83.8 L244.3,83.8 L243.9,83.8 L243.5,83.8 L243.1,83.8 L242.7,83.8 L242.3,83.8 L241.9,83.8 L241.5,83.8 L241.1,83.8 L240.7,83.8 L240.3,83.8 L239.9,83.8 L239.5,83.8 L239.1,83.8 L238.7,83.8 L238.3,83.8 L237.9,83.8 L237.5,83.8 L237.1,83.8 L236.7,83.8 L236.3,83.8 L235.9,83.8 L235.5,83.8 L235.1,83.8 L234.7,83.8 L234.3,83.8 L233.9,83.8 L233.5,83.8 L233.1,83.8 L232.7,83.8 L232.3,83.8 L231.9,83.8 L231.5,83.8 L231.1,83.9 L230.7,83.9 L230.3,83.9 L229.9,83.9 L229.5,83.9 L229.1,83.9 L228.7,83.9 L228.3,83.9 L227.9,83.9 L227.5,83.9 L227.1,83.9 L226.7,83.9 L226.3,83.9 L225.9,83.9 L225.5,83.9 L225.1,83.9 L224.7,83.9 L224.3,83.9 L223.9,83.9 L223.5,83.9 L223.1,83.9 L222.7,83.9 L222.3,83.9 L221.9,83.9 L221.5,83.9 L221.1,83.9 L220.7,83.9 L220.3,83.9 L219.9,83.9 L219.5,83.9 L219.1,83.9 L218.7,83.9 L218.3,83.9 L217.9,83.9 L217.5,83.9 L217.1,83.9 L216.7,83.9 L216.3,83.9 L215.9,83.9 L215.5,83.9 L215.1,83.9 L214.7,83.9 L214.3,83.9 L213.9,83.9 L213.5,83.9 L213.1,83.9 L212.7,83.9 L212.3,83.9 L211.9,83.9 L211.5,83.9 L211.1,83.9 L210.7,83.9 L210.3,83.9 L209.9,83.9 L209.5,83.9 L209.1,83.9 L208.7,83.9 L208.3,83.9 L207.9,83.9 L207.5,83.9 L207.1,83.9 L206.7,83.9 L206.3,83.9 L205.9,83.9 L205.5,83.9 L205.1,83.9 L204.7,83.9 L204.3,83.9 L203.9,83.9 L203.5,83.9 L203.1,83.9 L202.7,83.9 L202.3,83.9 L201.9,83.9 L201.5,83.9 L201.1,83.9 L200.7,83.9 L200.3,83.9 L199.9,83.9 L199.5,83.9 L199.1,83.9 L198.7,83.9 L198.3,83.9 L197.9,83.9 L197.5,83.9 L197.1,83.9 L196.7,83.9 L196.3,83.9 L195.9,83.9 L195.5,83.9 L195.1,83.9 L194.7,83.9 L194.3,83.9 L193.9,83.9 L193.5,83.9 L193.1,83.9 L192.7,83.9 L192.3,83.9 L191.9,83.9 L191.5,83.9 L191.1,83.9 L190.7,83.9 L190.3,83.9 L189.9,83.9 L189.5,83.9 L189.1,84.0 L188.7,84.0 L188.3,84.0 L187.9,84.0 L187.5,84.0 L187.1,84.1 L186.7,84.1 L186.3,84.1 L185.9,84.1 L185.5,84.1 L185.1,84.2 L184.7,84.2 L184.3,84.2 L183.9,84.2 L183.5,84.2 L183.1,84.2 L182.7,84.3 L182.3,84.2 L181.9,84.2 L181.5,84.2 L181.1,84.5 L180.7,84.6 L180.3,84.7 L179.9,84.7 L179.5,84.8 L179.1,84.8 L178.7,84.7 L178.3,84.7 L177.9,84.6 L177.5,84.4 L177.1,84.2 L176.7,84.2 L176.3,84.2 L175.9,84.2 L175.5,84.2 L175.1,84.2 L174.7,84.2 L174.3,84.2 L173.9,84.2 L173.5,84.2 L173.1,84.2 L172.7,84.2 L172.3,84.2 L171.9,84.2 L171.5,84.2 L171.1,84.2 L170.7,84.2 L170.3,84.2 L169.9,84.2 L169.5,84.4 L169.1,84.5 L168.7,84.7 L168.3,84.9 L167.9,85.0 L167.5,85.2 L167.1,85.5 L166.7,86.0 L166.3,86.6 L165.9,87.2 L165.5,87.8 L165.1,88.5 L164.7,89.2 L164.3,89.6 L163.9,90.0 L163.5,90.2 L163.1,90.3 L162.7,90.4 L162.3,90.5 L161.9,90.5 L161.5,90.5 L161.1,90.4 L160.7,90.3 L160.3,90.2 L159.9,90.0 L159.5,89.6 L159.1,89.4 L158.7,89.4 L158.3,89.2 L157.9,88.9 L157.5,88.4 L157.1,87.9 L156.7,87.5 L156.3,87.0 L155.9,86.5 L155.5,86.1 L155.1,85.7 L154.7,83.6 L154.3,83.5 L153.9,83.3 L153.5,83.0 L153.1,81.9Z" fill="url(#g2)"/>
<path d="M144.3,101.3 L144.7,100.4 L145.1,100.1 L145.5,100.0 L145.9,99.5 L146.3,99.4 L146.7,99.4 L147.1,99.3 L147.5,99.3 L147.9,99.3 L148.3,99.3 L148.7,99.3 L149.1,99.3 L149.5,99.3 L149.9,99.3 L150.3,99.3 L150.7,99.3 L151.1,99.3 L151.5,99.3 L151.9,99.3 L152.3,99.2 L152.7,99.1 L153.1,99.0 L153.5,98.8 L153.9,98.6 L154.3,98.4 L154.7,98.3 L155.1,98.1 L155.5,98.0 L155.9,98.0 L156.3,98.0 L156.7,98.0 L157.1,98.0 L157.5,97.9 L157.9,97.4 L158.3,97.1 L158.7,96.8 L159.1,96.6 L159.5,96.5 L159.9,96.4 L160.3,96.3 L160.7,96.3 L161.1,96.3 L161.5,96.3 L161.9,96.3 L162.3,96.3 L162.7,96.4 L163.1,96.5 L163.5,96.6 L163.9,96.8 L164.3,97.1 L164.7,97.4 L165.1,97.9 L165.5,98.5 L165.9,98.5 L166.3,98.5 L166.7,98.5 L167.1,98.5 L167.5,98.5 L167.9,98.5 L168.3,98.5 L168.7,98.5 L169.1,98.0 L169.5,95.5 L169.9,94.4 L170.3,93.7 L170.7,93.3 L171.1,93.1 L171.5,93.0 L171.9,93.0 L172.3,93.1 L172.7,93.2 L173.1,93.5 L173.5,94.0 L173.9,94.9 L174.3,96.4 L174.7,98.5 L175.1,98.5 L175.5,98.5 L175.9,98.5 L176.3,98.5 L176.7,98.5 L177.1,98.5 L177.5,98.5 L177.9,98.5 L178.3,98.5 L178.7,98.5 L179.1,98.5 L179.5,98.5 L179.9,98.5 L180.3,98.5 L180.7,98.5 L181.1,98.5 L181.5,98.5 L181.9,98.5 L182.3,98.6 L182.7,98.6 L183.1,98.6 L183.5,98.6 L183.9,98.6 L184.3,98.6 L184.7,98.6 L185.1,98.6 L185.5,98.6 L185.9,98.6 L186.3,98.6 L186.7,98.7 L187.1,98.7 L187.5,98.7 L187.9,98.7 L188.3,98.7 L188.7,98.7 L189.1,98.7 L189.5,98.6 L189.9,98.5 L190.3,98.5 L190.7,98.4 L191.1,98.4 L191.5,98.5 L191.9,98.5 L192.3,98.6 L192.7,98.7 L193.1,98.8 L193.5,98.8 L193.9,98.8 L194.3,98.8 L194.7,98.8 L195.1,98.8 L195.5,98.8 L195.9,98.9 L196.3,98.9 L196.7,98.9 L197.1,98.9 L197.5,98.9 L197.9,98.9 L198.3,98.9 L198.7,98.9 L199.1,98.9 L199.5,98.9 L199.9,98.9 L200.3,98.9 L200.7,98.9 L201.1,98.9 L201.5,98.9 L201.9,98.9 L202.3,98.9 L202.7,99.0 L203.1,99.0 L203.5,99.0 L203.9,99.0 L204.3,99.0 L204.7,99.0 L205.1,99.0 L205.5,99.0 L205.9,99.0 L206.3,99.0 L206.7,99.0 L207.1,99.0 L207.5,99.0 L207.9,99.0 L208.3,99.0 L208.7,99.0 L209.1,99.1 L209.5,99.1 L209.9,99.1 L210.3,99.1 L210.7,99.1 L211.1,99.1 L211.5,99.1 L211.9,99.1 L212.3,99.1 L212.7,99.1 L213.1,99.1 L213.5,99.1 L213.9,99.1 L214.3,99.1 L214.7,99.1 L215.1,99.1 L215.5,99.2 L215.9,99.2 L216.3,99.2 L216.7,99.2 L217.1,99.3 L217.5,99.3 L217.9,99.3 L218.3,99.3 L218.7,99.4 L219.1,99.4 L219.5,99.4 L219.9,99.4 L220.3,99.4 L220.7,99.5 L221.1,99.5 L221.5,99.5 L221.9,99.5 L222.3,99.6 L222.7,99.6 L223.1,99.7 L223.5,99.7 L223.9,100.0 L224.3,100.1 L224.7,100.5 L225.0,101.3 L225.0,101.3 L224.7,102.2 L224.3,102.6 L223.9,102.7 L223.5,102.9 L223.1,103.0 L222.7,103.0 L222.3,103.1 L221.9,103.1 L221.5,103.2 L221.1,103.2 L220.7,103.2 L220.3,103.2 L219.9,103.3 L219.5,103.3 L219.1,103.3 L218.7,103.3 L218.3,103.4 L217.9,103.4 L217.5,103.4 L217.1,103.4 L216.7,103.4 L216.3,103.5 L215.9,103.5 L215.5,103.5 L215.1,103.5 L214.7,103.5 L214.3,103.6 L213.9,103.6 L213.5,103.6 L213.1,103.6 L212.7,103.6 L212.3,103.6 L211.9,103.6 L211.5,103.6 L211.1,103.6 L210.7,103.6 L210.3,103.6 L209.9,103.6 L209.5,103.6 L209.1,103.6 L208.7,103.6 L208.3,103.6 L207.9,103.6 L207.5,103.7 L207.1,103.7 L206.7,103.7 L206.3,103.7 L205.9,103.7 L205.5,103.7 L205.1,103.7 L204.7,103.7 L204.3,103.7 L203.9,103.7 L203.5,103.7 L203.1,103.7 L202.7,103.7 L202.3,103.7 L201.9,103.7 L201.5,103.7 L201.1,103.7 L200.7,103.8 L200.3,103.8 L199.9,103.8 L199.5,103.8 L199.1,103.8 L198.7,103.8 L198.3,103.8 L197.9,103.8 L197.5,103.8 L197.1,103.8 L196.7,103.8 L196.3,103.8 L195.9,103.8 L195.5,103.8 L195.1,103.8 L194.7,103.8 L194.3,103.9 L193.9,103.9 L193.5,103.9 L193.1,103.9 L192.7,104.0 L192.3,104.1 L191.9,104.2 L191.5,104.2 L191.1,104.2 L190.7,104.2 L190.3,104.2 L189.9,104.2 L189.5,104.0 L189.1,104.0 L188.7,104.0 L188.3,104.0 L187.9,104.0 L187.5,104.0 L187.1,104.0 L186.7,104.0 L186.3,104.0 L185.9,104.0 L185.5,104.1 L185.1,104.1 L184.7,104.1 L184.3,104.1 L183.9,104.1 L183.5,104.1 L183.1,104.1 L182.7,104.1 L182.3,104.1 L181.9,104.1 L181.5,104.1 L181.1,104.1 L180.7,104.1 L180.3,104.1 L179.9,104.1 L179.5,104.1 L179.1,104.1 L178.7,104.1 L178.3,104.1 L177.9,104.1 L177.5,104.1 L177.1,104.1 L176.7,104.1 L176.3,104.1 L175.9,104.1 L175.5,104.1 L175.1,104.1 L174.7,104.1 L174.3,106.2 L173.9,107.8 L173.5,108.7 L173.1,109.2 L172.7,109.5 L172.3,109.6 L171.9,109.6 L171.5,109.6 L171.1,109.6 L170.7,109.4 L170.3,109.0 L169.9,108.3 L169.5,107.2 L169.1,104.6 L168.7,104.1 L168.3,104.1 L167.9,104.1 L167.5,104.1 L167.1,104.1 L166.7,104.1 L166.3,104.1 L165.9,104.1 L165.5,104.1 L165.1,104.7 L164.7,105.3 L164.3,105.6 L163.9,105.9 L163.5,106.1 L163.1,106.2 L162.7,106.3 L162.3,106.4 L161.9,106.4 L161.5,106.4 L161.1,106.4 L160.7,106.4 L160.3,106.4 L159.9,106.3 L159.5,106.2 L159.1,106.1 L158.7,105.9 L158.3,105.6 L157.9,105.3 L157.5,104.7 L157.1,104.6 L156.7,104.7 L156.3,104.7 L155.9,104.7 L155.5,104.7 L155.1,104.6 L154.7,104.4 L154.3,104.2 L153.9,104.1 L153.5,103.9 L153.1,103.7 L152.7,103.6 L152.3,103.5 L151.9,103.4 L151.5,103.4 L151.1,103.4 L150.7,103.4 L150.3,103.4 L149.9,103.4 L149.5,103.4 L149.1,103.4 L148.7,103.4 L148.3,103.4 L147.9,103.4 L147.5,103.4 L147.1,103.3 L146.7,103.3 L146.3,103.2 L145.9,103.1 L145.5,102.7 L145.1,102.6 L144.7,102.3 L144.3,101.3Z" fill="url(#g3)"/>
<path d="M141.4,120.8 L141.8,119.8 L142.2,119.4 L142.6,119.3 L143.0,119.2 L143.4,119.1 L143.8,119.1 L144.2,119.1 L144.6,119.1 L145.0,119.1 L145.4,119.1 L145.8,119.1 L146.2,119.0 L146.6,119.0 L147.0,119.0 L147.4,119.0 L147.8,119.0 L148.2,119.0 L148.6,119.0 L149.0,118.9 L149.4,118.9 L149.8,118.9 L150.2,118.9 L150.6,118.9 L151.0,118.9 L151.4,118.9 L151.8,118.8 L152.2,118.8 L152.6,118.8 L153.0,118.7 L153.4,118.7 L153.8,118.6 L154.2,118.5 L154.6,118.4 L155.0,118.4 L155.4,118.3 L155.8,118.2 L156.2,118.1 L156.6,118.1 L157.0,118.0 L157.4,117.9 L157.8,117.8 L158.2,117.7 L158.6,117.6 L159.0,117.5 L159.4,117.3 L159.8,117.2 L160.2,117.0 L160.6,116.9 L161.0,116.7 L161.4,116.5 L161.8,116.4 L162.2,116.2 L162.6,116.1 L163.0,115.9 L163.4,115.7 L163.8,115.5 L164.2,115.3 L164.6,115.1 L165.0,114.9 L165.4,114.8 L165.8,114.6 L166.2,114.4 L166.6,114.3 L167.0,114.4 L167.4,114.5 L167.8,114.6 L168.2,114.7 L168.6,114.9 L169.0,114.1 L169.4,113.4 L169.8,113.0 L170.2,112.7 L170.6,112.5 L171.0,112.4 L171.4,112.3 L171.8,112.3 L172.2,112.3 L172.6,112.4 L173.0,112.5 L173.4,112.7 L173.8,113.0 L174.2,113.4 L174.6,114.1 L175.0,115.1 L175.4,116.9 L175.8,117.1 L176.2,117.2 L176.6,117.3 L177.0,117.4 L177.4,117.5 L177.8,117.6 L178.2,117.6 L178.6,117.7 L179.0,117.8 L179.4,117.9 L179.8,117.9 L180.2,118.0 L180.6,118.0 L181.0,118.0 L181.4,118.1 L181.8,118.1 L182.2,118.1 L182.6,118.1 L183.0,118.2 L183.4,118.2 L183.8,118.1 L184.2,118.0 L184.6,117.9 L185.0,117.9 L185.4,117.9 L185.8,117.9 L186.2,118.0 L186.6,118.1 L187.0,118.2 L187.4,118.4 L187.8,118.5 L188.2,118.5 L188.6,118.5 L189.0,118.6 L189.4,118.6 L189.8,118.6 L190.2,118.6 L190.6,118.7 L191.0,118.7 L191.4,118.7 L191.8,118.7 L192.2,118.7 L192.6,118.8 L193.0,118.8 L193.4,118.8 L193.8,118.8 L194.2,118.8 L194.6,118.8 L195.0,118.8 L195.4,118.8 L195.8,118.8 L196.2,118.8 L196.6,118.8 L197.0,118.8 L197.4,118.8 L197.8,118.8 L198.2,118.8 L198.6,118.8 L199.0,118.8 L199.4,118.8 L199.8,118.8 L200.2,118.8 L200.6,118.8 L201.0,118.8 L201.4,118.8 L201.8,118.8 L202.2,118.8 L202.6,118.8 L203.0,118.8 L203.4,118.8 L203.8,118.8 L204.2,118.8 L204.6,118.8 L205.0,118.8 L205.4,118.8 L205.8,118.8 L206.2,118.8 L206.6,118.8 L207.0,118.8 L207.4,118.8 L207.8,118.8 L208.2,118.8 L208.6,118.8 L209.0,118.8 L209.4,118.8 L209.8,118.8 L210.2,118.8 L210.6,118.8 L211.0,118.8 L211.4,118.8 L211.8,118.8 L212.2,118.8 L212.6,118.8 L213.0,118.8 L213.4,118.8 L213.8,118.8 L214.2,118.8 L214.6,118.8 L215.0,118.8 L215.4,118.8 L215.8,118.8 L216.2,118.8 L216.6,118.8 L217.0,118.8 L217.4,118.9 L217.8,118.9 L218.2,118.9 L218.6,118.9 L219.0,118.9 L219.4,118.9 L219.8,118.9 L220.2,118.9 L220.6,118.9 L221.0,118.9 L221.4,118.9 L221.8,118.9 L222.2,118.9 L222.6,118.9 L223.0,118.9 L223.4,118.9 L223.8,118.9 L224.2,118.9 L224.6,118.9 L225.0,119.0 L225.4,119.0 L225.8,119.0 L226.2,119.0 L226.6,119.0 L227.0,119.0 L227.4,119.0 L227.8,119.0 L228.2,119.0 L228.6,119.0 L229.0,119.0 L229.4,119.0 L229.8,119.0 L230.2,119.0 L230.6,119.0 L231.0,119.0 L231.4,119.0 L231.8,119.1 L232.2,119.1 L232.6,119.1 L233.0,119.1 L233.4,119.1 L233.8,119.1 L234.2,119.1 L234.6,119.1 L235.0,119.1 L235.4,119.1 L235.8,119.1 L236.2,119.1 L236.6,119.2 L237.0,119.2 L237.4,119.2 L237.8,119.2 L238.2,119.2 L238.6,119.2 L239.0,119.2 L239.4,119.2 L239.8,119.2 L240.2,119.2 L240.6,119.3 L241.0,119.3 L241.4,119.3 L241.8,119.3 L242.2,119.3 L242.6,119.4 L243.0,119.4 L243.4,119.4 L243.8,119.4 L244.2,119.5 L244.6,119.6 L245.0,119.9 L245.4,120.8 L245.4,120.8 L245.0,121.8 L244.6,122.0 L244.2,122.1 L243.8,122.2 L243.4,122.2 L243.0,122.3 L242.6,122.3 L242.2,122.3 L241.8,122.3 L241.4,122.3 L241.0,122.4 L240.6,122.4 L240.2,122.4 L239.8,122.4 L239.4,122.4 L239.0,122.4 L238.6,122.4 L238.2,122.5 L237.8,122.5 L237.4,122.5 L237.0,122.5 L236.6,122.5 L236.2,122.5 L235.8,122.5 L235.4,122.5 L235.0,122.5 L234.6,122.5 L234.2,122.5 L233.8,122.5 L233.4,122.6 L233.0,122.6 L232.6,122.6 L232.2,122.6 L231.8,122.6 L231.4,122.6 L231.0,122.6 L230.6,122.6 L230.2,122.6 L229.8,122.6 L229.4,122.6 L229.0,122.6 L228.6,122.6 L228.2,122.6 L227.8,122.6 L227.4,122.7 L227.0,122.7 L226.6,122.7 L226.2,122.7 L225.8,122.7 L225.4,122.7 L225.0,122.7 L224.6,122.7 L224.2,122.7 L223.8,122.7 L223.4,122.7 L223.0,122.7 L222.6,122.7 L222.2,122.7 L221.8,122.7 L221.4,122.7 L221.0,122.7 L220.6,122.7 L220.2,122.8 L219.8,122.8 L219.4,122.8 L219.0,122.8 L218.6,122.8 L218.2,122.8 L217.8,122.8 L217.4,122.8 L217.0,122.8 L216.6,122.8 L216.2,122.8 L215.8,122.8 L215.4,122.8 L215.0,122.8 L214.6,122.8 L214.2,122.8 L213.8,122.8 L213.4,122.8 L213.0,122.8 L212.6,122.8 L212.2,122.8 L211.8,122.8 L211.4,122.8 L211.0,122.8 L210.6,122.8 L210.2,122.8 L209.8,122.8 L209.4,122.8 L209.0,122.8 L208.6,122.8 L208.2,122.8 L207.8,122.8 L207.4,122.8 L207.0,122.8 L206.6,122.8 L206.2,122.8 L205.8,122.8 L205.4,122.8 L205.0,122.8 L204.6,122.8 L204.2,122.8 L203.8,122.8 L203.4,122.8 L203.0,122.8 L202.6,122.8 L202.2,122.8 L201.8,122.8 L201.4,122.8 L201.0,122.8 L200.6,122.8 L200.2,122.8 L199.8,122.8 L199.4,122.8 L199.0,122.8 L198.6,122.8 L198.2,122.8 L197.8,122.8 L197.4,122.8 L197.0,122.8 L196.6,122.8 L196.2,122.8 L195.8,122.8 L195.4,122.8 L195.0,122.8 L194.6,122.8 L194.2,122.8 L193.8,122.8 L193.4,122.8 L193.0,122.8 L192.6,122.9 L192.2,122.9 L191.8,122.9 L191.4,122.9 L191.0,123.0 L190.6,123.0 L190.2,123.0 L189.8,123.0 L189.4,123.1 L189.0,123.1 L188.6,123.1 L188.2,123.1 L187.8,123.2 L187.4,123.2 L187.0,123.4 L186.6,123.6 L186.2,123.7 L185.8,123.7 L185.4,123.7 L185.0,123.7 L184.6,123.7 L184.2,123.7 L183.8,123.6 L183.4,123.5 L183.0,123.5 L182.6,123.5 L182.2,123.5 L181.8,123.6 L181.4,123.6 L181.0,123.6 L180.6,123.6 L180.2,123.7 L179.8,123.7 L179.4,123.7 L179.0,123.8 L178.6,123.9 L178.2,124.0 L177.8,124.1 L177.4,124.2 L177.0,124.3 L176.6,124.4 L176.2,124.5 L175.8,124.6 L175.4,124.7 L175.0,126.6 L174.6,127.6 L174.2,128.2 L173.8,128.7 L173.4,129.0 L173.0,129.2 L172.6,129.3 L172.2,129.3 L171.8,129.3 L171.4,129.3 L171.0,129.3 L170.6,129.2 L170.2,129.0 L169.8,128.7 L169.4,128.2 L169.0,127.6 L168.6,126.8 L168.2,126.9 L167.8,127.0 L167.4,127.1 L167.0,127.3 L166.6,127.3 L166.2,127.2 L165.8,127.1 L165.4,126.9 L165.0,126.7 L164.6,126.5 L164.2,126.3 L163.8,126.1 L163.4,125.9 L163.0,125.7 L162.6,125.6 L162.2,125.4 L161.8,125.3 L161.4,125.1 L161.0,124.9 L160.6,124.8 L160.2,124.6 L159.8,124.5 L159.4,124.3 L159.0,124.2 L158.6,124.0 L158.2,123.9 L157.8,123.8 L157.4,123.7 L157.0,123.7 L156.6,123.6 L156.2,123.5 L155.8,123.4 L155.4,123.4 L155.0,123.3 L154.6,123.2 L154.2,123.1 L153.8,123.1 L153.4,123.0 L153.0,122.9 L152.6,122.9 L152.2,122.8 L151.8,122.8 L151.4,122.8 L151.0,122.8 L150.6,122.8 L150.2,122.7 L149.8,122.7 L149.4,122.7 L149.0,122.7 L148.6,122.7 L148.2,122.7 L147.8,122.7 L147.4,122.6 L147.0,122.6 L146.6,122.6 L146.2,122.6 L145.8,122.6 L145.4,122.6 L145.0,122.5 L144.6,122.5 L144.2,122.5 L143.8,122.5 L143.4,122.5 L143.0,122.5 L142.6,122.4 L142.2,122.2 L141.8,121.9 L141.4,120.8Z" fill="url(#g4)"/>
<circle cx="252.4" cy="120.8" r="1.2" fill="#4684c6"/>
<path d="M136.8,140.3 L137.2,139.2 L137.6,138.9 L138.0,138.8 L138.4,138.6 L138.8,138.6 L139.2,138.6 L139.6,138.5 L140.0,138.5 L140.4,138.5 L140.8,138.5 L141.2,138.4 L141.6,138.4 L142.0,138.4 L142.4,138.4 L142.8,138.3 L143.2,138.3 L143.6,138.3 L144.0,138.3 L144.4,138.2 L144.8,138.2 L145.2,138.2 L145.6,138.2 L146.0,138.1 L146.4,138.1 L146.8,138.1 L147.2,138.1 L147.6,138.1 L148.0,138.0 L148.4,138.0 L148.8,138.0 L149.2,138.0 L149.6,138.0 L150.0,138.0 L150.4,137.9 L150.8,137.9 L151.2,137.9 L151.6,137.9 L152.0,137.9 L152.4,137.9 L152.8,137.8 L153.2,137.8 L153.6,137.8 L154.0,137.8 L154.4,137.8 L154.8,137.8 L155.2,137.7 L155.6,137.7 L156.0,137.7 L156.4,137.7 L156.8,137.7 L157.2,137.7 L157.6,137.6 L158.0,137.6 L158.4,137.6 L158.8,137.5 L159.2,137.4 L159.6,137.4 L160.0,137.3 L160.4,137.2 L160.8,137.1 L161.2,137.0 L161.6,137.0 L162.0,136.9 L162.4,136.9 L162.8,137.0 L163.2,136.8 L163.6,136.2 L164.0,135.9 L164.4,135.7 L164.8,135.6 L165.2,135.6 L165.6,135.6 L166.0,135.6 L166.4,135.7 L166.8,135.9 L167.2,136.2 L167.6,136.8 L168.0,137.4 L168.4,137.5 L168.8,137.5 L169.2,137.5 L169.6,137.4 L170.0,137.4 L170.4,137.3 L170.8,137.3 L171.2,137.2 L171.6,137.2 L172.0,137.1 L172.4,135.9 L172.8,134.0 L173.2,133.0 L173.6,132.5 L174.0,132.2 L174.4,132.1 L174.8,132.1 L175.2,132.1 L175.6,132.3 L176.0,132.7 L176.4,133.4 L176.8,134.7 L177.2,134.8 L177.6,134.7 L178.0,134.8 L178.4,135.0 L178.8,135.1 L179.2,134.0 L179.6,133.2 L180.0,132.7 L180.4,132.5 L180.8,132.5 L181.2,132.5 L181.6,132.7 L182.0,133.2 L182.4,134.0 L182.8,135.9 L183.2,137.1 L183.6,137.3 L184.0,137.5 L184.4,137.7 L184.8,137.8 L185.2,138.0 L185.6,138.7 L186.0,138.8 L186.4,139.1 L186.8,139.5 L187.0,140.3 L187.0,140.3 L186.8,141.1 L186.4,141.5 L186.0,141.8 L185.6,141.9 L185.2,142.6 L184.8,142.8 L184.4,142.9 L184.0,143.1 L183.6,143.3 L183.2,143.5 L182.8,144.7 L182.4,146.6 L182.0,147.4 L181.6,147.9 L181.2,148.1 L180.8,148.1 L180.4,148.1 L180.0,147.9 L179.6,147.4 L179.2,146.6 L178.8,145.5 L178.4,145.6 L178.0,145.8 L177.6,145.9 L177.2,145.8 L176.8,145.9 L176.4,147.2 L176.0,147.9 L175.6,148.3 L175.2,148.5 L174.8,148.5 L174.4,148.5 L174.0,148.4 L173.6,148.1 L173.2,147.6 L172.8,146.6 L172.4,144.7 L172.0,143.5 L171.6,143.4 L171.2,143.4 L170.8,143.3 L170.4,143.3 L170.0,143.2 L169.6,143.2 L169.2,143.1 L168.8,143.1 L168.4,143.1 L168.0,143.2 L167.6,143.8 L167.2,144.4 L166.8,144.7 L166.4,144.9 L166.0,145.0 L165.6,145.0 L165.2,145.0 L164.8,145.0 L164.4,144.9 L164.0,144.7 L163.6,144.4 L163.2,143.8 L162.8,143.6 L162.4,143.7 L162.0,143.7 L161.6,143.6 L161.2,143.6 L160.8,143.5 L160.4,143.4 L160.0,143.3 L159.6,143.2 L159.2,143.2 L158.8,143.1 L158.4,143.0 L158.0,143.0 L157.6,143.0 L157.2,142.9 L156.8,142.9 L156.4,142.9 L156.0,142.9 L155.6,142.9 L155.2,142.9 L154.8,142.8 L154.4,142.8 L154.0,142.8 L153.6,142.8 L153.2,142.8 L152.8,142.8 L152.4,142.7 L152.0,142.7 L151.6,142.7 L151.2,142.7 L150.8,142.7 L150.4,142.7 L150.0,142.6 L149.6,142.6 L149.2,142.6 L148.8,142.6 L148.4,142.6 L148.0,142.6 L147.6,142.5 L147.2,142.5 L146.8,142.5 L146.4,142.5 L146.0,142.5 L145.6,142.4 L145.2,142.4 L144.8,142.4 L144.4,142.4 L144.0,142.3 L143.6,142.3 L143.2,142.3 L142.8,142.3 L142.4,142.2 L142.0,142.2 L141.6,142.2 L141.2,142.2 L140.8,142.1 L140.4,142.1 L140.0,142.1 L139.6,142.1 L139.2,142.0 L138.8,142.0 L138.4,142.0 L138.0,141.8 L137.6,141.7 L137.2,141.4 L136.8,140.3Z" fill="url(#g5)"/>
<path d="M162.1,159.8 L162.5,158.7 L162.9,158.3 L163.3,158.2 L163.7,158.1 L164.1,155.9 L164.5,153.7 L164.9,152.6 L165.3,151.9 L165.7,151.5 L166.1,151.3 L166.5,151.2 L166.9,151.2 L167.3,151.2 L167.7,151.4 L168.1,151.7 L168.5,152.2 L168.9,153.1 L169.3,154.7 L169.7,155.9 L170.1,155.9 L170.5,155.9 L170.9,156.0 L171.3,156.0 L171.7,156.0 L172.1,155.5 L172.5,154.8 L172.9,154.3 L173.3,154.1 L173.7,154.0 L174.1,154.0 L174.5,154.0 L174.9,154.1 L175.3,154.3 L175.7,154.8 L176.1,155.5 L176.5,156.4 L176.9,156.5 L177.3,156.5 L177.7,156.5 L178.1,155.7 L178.5,155.2 L178.9,155.0 L179.3,154.9 L179.7,154.9 L180.1,154.9 L180.5,155.1 L180.9,155.4 L181.3,156.1 L181.7,156.9 L182.1,156.9 L182.5,157.0 L182.9,157.0 L183.3,157.0 L183.7,157.1 L184.1,157.1 L184.5,157.2 L184.9,157.2 L185.3,157.3 L185.7,157.4 L186.1,157.4 L186.5,157.5 L186.9,157.6 L187.3,157.6 L187.7,157.7 L188.1,157.7 L188.5,157.7 L188.9,157.7 L189.3,157.7 L189.7,157.7 L190.1,157.7 L190.5,157.7 L190.9,157.7 L191.3,157.7 L191.7,157.7 L192.1,157.7 L192.5,157.7 L192.9,157.7 L193.3,157.7 L193.7,157.7 L194.1,157.7 L194.5,157.7 L194.9,157.7 L195.3,157.7 L195.7,157.7 L196.1,157.7 L196.5,157.7 L196.9,157.7 L197.3,157.7 L197.7,157.7 L198.1,157.7 L198.5,157.8 L198.9,157.8 L199.3,157.9 L199.7,158.3 L200.1,158.4 L200.5,158.7 L200.9,159.2 L201.0,159.8 L201.0,159.8 L200.9,160.3 L200.5,160.9 L200.1,161.2 L199.7,161.3 L199.3,161.6 L198.9,161.7 L198.5,161.8 L198.1,161.9 L197.7,161.9 L197.3,161.9 L196.9,161.9 L196.5,161.9 L196.1,161.9 L195.7,161.9 L195.3,161.9 L194.9,161.9 L194.5,161.9 L194.1,161.9 L193.7,161.9 L193.3,161.9 L192.9,161.9 L192.5,161.9 L192.1,161.9 L191.7,161.9 L191.3,161.9 L190.9,161.9 L190.5,161.9 L190.1,161.9 L189.7,161.9 L189.3,161.9 L188.9,161.9 L188.5,161.9 L188.1,161.9 L187.7,161.9 L187.3,161.9 L186.9,162.0 L186.5,162.1 L186.1,162.1 L185.7,162.2 L185.3,162.3 L184.9,162.3 L184.5,162.4 L184.1,162.5 L183.7,162.5 L183.3,162.5 L182.9,162.6 L182.5,162.6 L182.1,162.6 L181.7,162.7 L181.3,163.5 L180.9,164.2 L180.5,164.5 L180.1,164.6 L179.7,164.7 L179.3,164.7 L178.9,164.6 L178.5,164.4 L178.1,163.9 L177.7,163.0 L177.3,163.1 L176.9,163.1 L176.5,163.1 L176.1,164.0 L175.7,164.8 L175.3,165.2 L174.9,165.5 L174.5,165.6 L174.1,165.6 L173.7,165.6 L173.3,165.5 L172.9,165.2 L172.5,164.8 L172.1,164.0 L171.7,163.5 L171.3,163.6 L170.9,163.6 L170.5,163.6 L170.1,163.7 L169.7,163.7 L169.3,164.9 L168.9,166.5 L168.5,167.4 L168.1,167.9 L167.7,168.2 L167.3,168.3 L166.9,168.4 L166.5,168.4 L166.1,168.3 L165.7,168.1 L165.3,167.7 L164.9,167.0 L164.5,165.8 L164.1,163.7 L163.7,161.5 L163.3,161.4 L162.9,161.2 L162.5,160.9 L162.1,159.8Z" fill="url(#g6)"/>
<path d="M159.0,179.3 L159.4,178.2 L159.8,177.8 L160.2,177.6 L160.6,177.6 L161.0,176.8 L161.4,176.6 L161.8,176.5 L162.2,176.3 L162.6,176.0 L163.0,175.8 L163.4,175.6 L163.8,175.3 L164.2,175.1 L164.6,174.9 L165.0,174.8 L165.4,174.7 L165.8,174.6 L166.2,174.5 L166.6,174.1 L167.0,172.5 L167.4,171.7 L167.8,171.3 L168.2,171.1 L168.6,171.1 L169.0,171.1 L169.4,171.3 L169.8,171.7 L170.2,172.5 L170.6,173.8 L171.0,173.7 L171.4,173.6 L171.8,173.8 L172.2,174.2 L172.6,174.9 L173.0,175.6 L173.4,176.1 L173.8,176.5 L174.2,176.6 L174.6,176.7 L175.0,176.8 L175.4,176.9 L175.8,177.0 L176.2,177.0 L176.6,177.1 L177.0,177.1 L177.4,177.1 L177.8,177.1 L178.2,177.1 L178.6,177.1 L179.0,177.1 L179.4,177.1 L179.8,177.1 L180.2,177.1 L180.6,177.1 L181.0,177.1 L181.4,177.1 L181.8,177.1 L182.2,177.1 L182.6,177.0 L183.0,176.9 L183.4,176.8 L183.8,176.8 L184.2,176.8 L184.6,176.8 L185.0,176.9 L185.4,177.0 L185.8,177.1 L186.2,177.1 L186.6,177.1 L187.0,177.1 L187.4,177.1 L187.8,177.1 L188.2,177.2 L188.6,177.2 L189.0,177.3 L189.4,177.4 L189.8,177.4 L190.2,177.4 L190.6,177.5 L191.0,177.5 L191.4,177.5 L191.8,177.5 L192.2,177.5 L192.6,177.5 L193.0,177.5 L193.4,177.5 L193.8,177.5 L194.2,177.5 L194.6,177.5 L195.0,177.5 L195.4,177.5 L195.8,177.5 L196.2,177.5 L196.6,177.5 L197.0,177.5 L197.4,177.5 L197.8,177.5 L198.2,177.5 L198.6,177.5 L199.0,177.5 L199.4,177.5 L199.8,177.5 L200.2,177.9 L200.6,178.0 L201.0,178.2 L201.4,178.7 L201.5,179.3 L201.5,179.3 L201.4,179.8 L201.0,180.3 L200.6,180.6 L200.2,180.7 L199.8,181.1 L199.4,181.1 L199.0,181.1 L198.6,181.1 L198.2,181.1 L197.8,181.1 L197.4,181.1 L197.0,181.1 L196.6,181.1 L196.2,181.1 L195.8,181.1 L195.4,181.1 L195.0,181.1 L194.6,181.1 L194.2,181.1 L193.8,181.1 L193.4,181.1 L193.0,181.1 L192.6,181.1 L192.2,181.1 L191.8,181.1 L191.4,181.1 L191.0,181.1 L190.6,181.1 L190.2,181.1 L189.8,181.1 L189.4,181.2 L189.0,181.2 L188.6,181.3 L188.2,181.3 L187.8,181.4 L187.4,181.4 L187.0,181.5 L186.6,181.5 L186.2,181.5 L185.8,181.5 L185.4,181.5 L185.0,181.7 L184.6,181.7 L184.2,181.8 L183.8,181.8 L183.4,181.7 L183.0,181.7 L182.6,181.5 L182.2,181.5 L181.8,181.5 L181.4,181.5 L181.0,181.5 L180.6,181.5 L180.2,181.5 L179.8,181.5 L179.4,181.5 L179.0,181.5 L178.6,181.5 L178.2,181.5 L177.8,181.5 L177.4,181.5 L177.0,181.5 L176.6,181.5 L176.2,181.5 L175.8,181.5 L175.4,181.6 L175.0,181.7 L174.6,181.8 L174.2,181.9 L173.8,182.0 L173.4,182.4 L173.0,182.9 L172.6,183.6 L172.2,184.3 L171.8,184.7 L171.4,184.9 L171.0,184.8 L170.6,184.8 L170.2,186.0 L169.8,186.8 L169.4,187.3 L169.0,187.4 L168.6,187.5 L168.2,187.4 L167.8,187.3 L167.4,186.8 L167.0,186.0 L166.6,184.5 L166.2,184.0 L165.8,183.9 L165.4,183.9 L165.0,183.8 L164.6,183.6 L164.2,183.4 L163.8,183.2 L163.4,182.9 L163.0,182.7 L162.6,182.5 L162.2,182.2 L161.8,182.0 L161.4,181.9 L161.0,181.7 L160.6,181.0 L160.2,180.9 L159.8,180.7 L159.4,180.4 L159.0,179.3Z" fill="url(#g7)"/>
<path d="M128.5,198.7 L128.9,197.7 L129.3,197.4 L129.7,197.3 L130.1,197.1 L130.5,197.1 L130.9,197.1 L131.3,197.1 L131.7,197.1 L132.1,197.0 L132.5,197.0 L132.9,197.0 L133.3,197.0 L133.7,197.0 L134.1,197.0 L134.5,197.0 L134.9,197.0 L135.3,197.0 L135.7,197.0 L136.1,197.0 L136.5,197.0 L136.9,197.0 L137.3,197.0 L137.7,197.0 L138.1,197.0 L138.5,197.0 L138.9,197.0 L139.3,197.0 L139.7,197.0 L140.1,197.0 L140.5,197.0 L140.9,197.0 L141.3,197.0 L141.7,197.0 L142.1,197.0 L142.5,197.0 L142.9,197.0 L143.3,197.0 L143.7,197.0 L144.1,197.0 L144.5,197.0 L144.9,197.0 L145.3,197.0 L145.7,197.0 L146.1,197.0 L146.5,197.0 L146.9,197.0 L147.3,197.0 L147.7,197.0 L148.1,197.0 L148.5,197.0 L148.9,197.0 L149.3,197.0 L149.7,197.0 L150.1,197.0 L150.5,197.0 L150.9,197.0 L151.3,197.0 L151.7,197.0 L152.1,197.0 L152.5,197.0 L152.9,197.0 L153.3,197.0 L153.7,197.0 L154.1,197.0 L154.5,197.0 L154.9,197.0 L155.3,197.0 L155.7,197.0 L156.1,197.0 L156.5,197.0 L156.9,197.0 L157.3,197.0 L157.7,197.0 L158.1,197.0 L158.5,197.0 L158.9,197.0 L159.3,197.0 L159.7,197.0 L160.1,197.0 L160.5,197.0 L160.9,197.0 L161.3,197.0 L161.7,197.0 L162.1,197.0 L162.5,197.0 L162.9,196.9 L163.3,196.9 L163.7,196.9 L164.1,196.9 L164.5,196.9 L164.9,196.9 L165.3,196.9 L165.7,196.9 L166.1,196.9 L166.5,196.8 L166.9,196.7 L167.3,196.6 L167.7,196.5 L168.1,196.4 L168.5,196.1 L168.9,195.7 L169.3,195.3 L169.7,194.9 L170.1,194.5 L170.5,194.2 L170.9,194.1 L171.3,194.2 L171.7,194.3 L172.1,193.6 L172.5,192.6 L172.9,191.9 L173.3,191.5 L173.7,191.2 L174.1,191.0 L174.5,190.9 L174.9,190.8 L175.3,190.8 L175.7,190.9 L176.1,190.9 L176.5,191.1 L176.9,191.3 L177.3,191.7 L177.7,192.2 L178.1,193.0 L178.5,194.5 L178.9,196.2 L179.3,196.3 L179.7,196.4 L180.1,196.5 L180.5,196.7 L180.9,196.8 L181.3,196.9 L181.7,196.9 L182.1,196.9 L182.5,196.9 L182.9,196.9 L183.3,196.9 L183.7,196.9 L184.1,196.9 L184.5,196.9 L184.9,196.9 L185.3,196.9 L185.7,196.9 L186.1,196.9 L186.5,196.9 L186.9,196.9 L187.3,196.9 L187.7,196.9 L188.1,196.9 L188.5,197.3 L188.9,197.4 L189.3,197.7 L189.7,198.2 L189.8,198.7 L189.8,198.7 L189.7,199.3 L189.3,199.8 L188.9,200.0 L188.5,200.1 L188.1,200.5 L187.7,200.5 L187.3,200.5 L186.9,200.5 L186.5,200.5 L186.1,200.5 L185.7,200.5 L185.3,200.5 L184.9,200.5 L184.5,200.5 L184.1,200.5 L183.7,200.5 L183.3,200.5 L182.9,200.5 L182.5,200.5 L182.1,200.5 L181.7,200.5 L181.3,200.6 L180.9,200.6 L180.5,200.8 L180.1,200.9 L179.7,201.1 L179.3,201.2 L178.9,201.3 L178.5,203.0 L178.1,204.5 L177.7,205.3 L177.3,205.8 L176.9,206.2 L176.5,206.4 L176.1,206.6 L175.7,206.6 L175.3,206.6 L174.9,206.6 L174.5,206.6 L174.1,206.5 L173.7,206.3 L173.3,206.0 L172.9,205.6 L172.5,204.9 L172.1,203.8 L171.7,203.1 L171.3,203.2 L170.9,203.3 L170.5,203.3 L170.1,203.0 L169.7,202.6 L169.3,202.2 L168.9,201.8 L168.5,201.4 L168.1,201.1 L167.7,200.9 L167.3,200.8 L166.9,200.8 L166.5,200.7 L166.1,200.6 L165.7,200.6 L165.3,200.5 L164.9,200.5 L164.5,200.5 L164.1,200.5 L163.7,200.5 L163.3,200.5 L162.9,200.5 L162.5,200.5 L162.1,200.5 L161.7,200.5 L161.3,200.5 L160.9,200.5 L160.5,200.5 L160.1,200.5 L159.7,200.5 L159.3,200.5 L158.9,200.5 L158.5,200.5 L158.1,200.5 L157.7,200.5 L157.3,200.5 L156.9,200.5 L156.5,200.5 L156.1,200.5 L155.7,200.5 L155.3,200.5 L154.9,200.5 L154.5,200.5 L154.1,200.5 L153.7,200.5 L153.3,200.5 L152.9,200.5 L152.5,200.5 L152.1,200.5 L151.7,200.5 L151.3,200.5 L150.9,200.5 L150.5,200.5 L150.1,200.5 L149.7,200.5 L149.3,200.5 L148.9,200.5 L148.5,200.5 L148.1,200.5 L147.7,200.5 L147.3,200.5 L146.9,200.5 L146.5,200.5 L146.1,200.5 L145.7,200.5 L145.3,200.5 L144.9,200.5 L144.5,200.5 L144.1,200.5 L143.7,200.5 L143.3,200.5 L142.9,200.5 L142.5,200.5 L142.1,200.5 L141.7,200.5 L141.3,200.5 L140.9,200.5 L140.5,200.5 L140.1,200.5 L139.7,200.5 L139.3,200.5 L138.9,200.5 L138.5,200.5 L138.1,200.5 L137.7,200.5 L137.3,200.5 L136.9,200.5 L136.5,200.5 L136.1,200.5 L135.7,200.5 L135.3,200.4 L134.9,200.4 L134.5,200.4 L134.1,200.4 L133.7,200.4 L133.3,200.4 L132.9,200.4 L132.5,200.4 L132.1,200.4 L131.7,200.4 L131.3,200.4 L130.9,200.4 L130.5,200.4 L130.1,200.3 L129.7,200.2 L129.3,200.1 L128.9,199.8 L128.5,198.7Z" fill="url(#g8)"/>
<path d="M165.3,218.2 L165.7,217.1 L166.1,216.8 L166.5,216.6 L166.9,216.5 L167.3,216.1 L167.7,212.6 L168.1,211.0 L168.5,210.3 L168.9,210.0 L169.3,210.0 L169.7,210.1 L170.1,210.6 L170.5,211.6 L170.9,214.4 L171.3,215.7 L171.7,215.7 L172.1,215.8 L172.5,215.9 L172.9,216.0 L173.3,216.0 L173.7,216.0 L174.1,216.0 L174.5,215.9 L174.9,215.9 L175.3,215.9 L175.7,215.9 L176.1,215.9 L176.5,215.8 L176.9,215.8 L177.3,215.8 L177.7,215.8 L178.1,215.7 L178.5,215.6 L178.9,215.6 L179.3,215.7 L179.7,215.8 L180.1,215.9 L180.5,216.1 L180.9,216.2 L181.3,216.3 L181.7,216.3 L182.1,216.3 L182.5,216.3 L182.9,216.3 L183.3,216.3 L183.7,216.3 L184.1,216.3 L184.5,216.3 L184.9,216.3 L185.3,216.3 L185.7,216.3 L186.1,216.3 L186.5,216.3 L186.9,216.3 L187.3,216.3 L187.7,216.3 L188.1,216.3 L188.5,216.3 L188.9,216.3 L189.3,216.3 L189.7,216.3 L190.1,216.3 L190.5,216.3 L190.9,216.3 L191.3,216.3 L191.7,216.3 L192.1,216.3 L192.5,216.3 L192.9,216.3 L193.3,216.3 L193.7,216.3 L194.1,216.3 L194.5,216.3 L194.9,216.3 L195.3,216.3 L195.7,216.3 L196.1,216.3 L196.5,216.3 L196.9,216.3 L197.3,216.3 L197.7,216.3 L198.1,216.3 L198.5,216.8 L198.9,217.0 L199.3,217.2 L199.7,218.2 L199.7,218.2 L199.3,219.2 L198.9,219.5 L198.5,219.6 L198.1,220.1 L197.7,220.1 L197.3,220.1 L196.9,220.1 L196.5,220.1 L196.1,220.1 L195.7,220.1 L195.3,220.1 L194.9,220.1 L194.5,220.1 L194.1,220.1 L193.7,220.1 L193.3,220.1 L192.9,220.1 L192.5,220.1 L192.1,220.1 L191.7,220.1 L191.3,220.1 L190.9,220.1 L190.5,220.1 L190.1,220.1 L189.7,220.1 L189.3,220.1 L188.9,220.1 L188.5,220.1 L188.1,220.1 L187.7,220.1 L187.3,220.1 L186.9,220.1 L186.5,220.1 L186.1,220.1 L185.7,220.1 L185.3,220.1 L184.9,220.1 L184.5,220.1 L184.1,220.1 L183.7,220.1 L183.3,220.1 L182.9,220.1 L182.5,220.1 L182.1,220.1 L181.7,220.1 L181.3,220.1 L180.9,220.2 L180.5,220.4 L180.1,220.5 L179.7,220.6 L179.3,220.7 L178.9,220.8 L178.5,220.8 L178.1,220.7 L177.7,220.6 L177.3,220.6 L176.9,220.6 L176.5,220.6 L176.1,220.6 L175.7,220.6 L175.3,220.5 L174.9,220.5 L174.5,220.5 L174.1,220.5 L173.7,220.5 L173.3,220.4 L172.9,220.5 L172.5,220.5 L172.1,220.6 L171.7,220.7 L171.3,220.8 L170.9,222.0 L170.5,224.8 L170.1,225.9 L169.7,226.3 L169.3,226.4 L168.9,226.4 L168.5,226.1 L168.1,225.5 L167.7,223.9 L167.3,220.3 L166.9,219.9 L166.5,219.8 L166.1,219.7 L165.7,219.3 L165.3,218.2Z" fill="url(#g9)"/>
<path d="M167.0,237.7 L167.4,236.5 L167.8,236.1 L168.2,235.9 L168.6,235.7 L169.0,230.0 L169.4,229.6 L169.8,229.4 L170.2,229.4 L170.6,229.6 L171.0,230.0 L171.4,231.1 L171.8,233.9 L172.2,235.1 L172.6,235.1 L173.0,235.3 L173.4,235.4 L173.8,235.6 L174.2,235.7 L174.6,235.8 L175.0,235.8 L175.4,235.8 L175.8,235.8 L176.2,235.8 L176.6,235.8 L177.0,235.8 L177.4,235.8 L177.8,235.8 L178.2,235.8 L178.6,235.8 L179.0,235.8 L179.4,235.8 L179.8,235.8 L180.2,235.8 L180.6,235.8 L181.0,235.8 L181.4,235.8 L181.8,235.8 L182.2,235.8 L182.6,235.8 L183.0,235.8 L183.4,235.8 L183.8,235.8 L184.2,235.8 L184.6,235.8 L185.0,235.8 L185.4,235.8 L185.8,235.8 L186.2,235.8 L186.6,235.8 L187.0,235.8 L187.4,235.8 L187.8,235.8 L188.2,235.8 L188.6,235.8 L189.0,235.8 L189.4,235.8 L189.8,235.8 L190.2,235.8 L190.6,235.8 L191.0,235.8 L191.4,235.8 L191.8,235.8 L192.2,235.8 L192.6,235.8 L193.0,235.8 L193.4,235.8 L193.8,235.8 L194.2,235.8 L194.6,235.8 L195.0,235.8 L195.4,235.8 L195.8,235.8 L196.2,235.8 L196.6,235.8 L197.0,235.8 L197.4,235.8 L197.8,235.8 L198.2,235.8 L198.6,235.8 L199.0,235.8 L199.4,235.8 L199.8,235.8 L200.2,235.8 L200.6,235.8 L201.0,236.2 L201.4,236.4 L201.8,236.7 L202.2,237.7 L202.2,237.7 L201.8,238.7 L201.4,239.0 L201.0,239.2 L200.6,239.6 L200.2,239.6 L199.8,239.6 L199.4,239.6 L199.0,239.6 L198.6,239.6 L198.2,239.6 L197.8,239.6 L197.4,239.6 L197.0,239.6 L196.6,239.6 L196.2,239.6 L195.8,239.6 L195.4,239.6 L195.0,239.6 L194.6,239.6 L194.2,239.6 L193.8,239.6 L193.4,239.6 L193.0,239.6 L192.6,239.6 L192.2,239.6 L191.8,239.6 L191.4,239.6 L191.0,239.6 L190.6,239.6 L190.2,239.6 L189.8,239.6 L189.4,239.6 L189.0,239.6 L188.6,239.6 L188.2,239.6 L187.8,239.6 L187.4,239.6 L187.0,239.6 L186.6,239.6 L186.2,239.6 L185.8,239.6 L185.4,239.6 L185.0,239.6 L184.6,239.6 L184.2,239.6 L183.8,239.6 L183.4,239.6 L183.0,239.6 L182.6,239.6 L182.2,239.6 L181.8,239.6 L181.4,239.6 L181.0,239.6 L180.6,239.6 L180.2,239.6 L179.8,239.6 L179.4,239.6 L179.0,239.6 L178.6,239.6 L178.2,239.6 L177.8,239.6 L177.4,239.6 L177.0,239.6 L176.6,239.6 L176.2,239.6 L175.8,239.6 L175.4,239.6 L175.0,239.6 L174.6,239.6 L174.2,239.7 L173.8,239.8 L173.4,240.0 L173.0,240.1 L172.6,240.3 L172.2,240.3 L171.8,241.5 L171.4,244.3 L171.0,245.4 L170.6,245.8 L170.2,246.0 L169.8,246.0 L169.4,245.8 L169.0,245.4 L168.6,239.7 L168.2,239.5 L167.8,239.3 L167.4,238.9 L167.0,237.7Z" fill="url(#g10)"/>
<path d="M159.0,257.2 L159.4,256.1 L159.8,255.7 L160.2,255.6 L160.6,255.5 L161.0,255.4 L161.4,255.3 L161.8,255.3 L162.2,255.3 L162.6,255.3 L163.0,255.3 L163.4,255.2 L163.8,255.2 L164.2,255.1 L164.6,254.8 L165.0,254.4 L165.4,253.9 L165.8,253.4 L166.2,252.9 L166.6,252.3 L167.0,251.7 L167.4,251.1 L167.8,250.7 L168.2,250.2 L168.6,249.6 L169.0,249.3 L169.4,249.1 L169.8,249.0 L170.2,249.0 L170.6,249.0 L171.0,249.0 L171.4,249.2 L171.8,249.4 L172.2,249.9 L172.6,250.5 L173.0,251.7 L173.4,253.0 L173.8,253.4 L174.2,253.8 L174.6,254.2 L175.0,254.4 L175.4,254.6 L175.8,254.8 L176.2,255.0 L176.6,255.1 L177.0,255.2 L177.4,255.1 L177.8,255.1 L178.2,255.1 L178.6,255.1 L179.0,255.1 L179.4,255.1 L179.8,255.0 L180.2,255.0 L180.6,255.0 L181.0,255.0 L181.4,255.0 L181.8,255.0 L182.2,254.9 L182.6,254.9 L183.0,254.9 L183.4,254.9 L183.8,254.9 L184.2,254.9 L184.6,254.9 L185.0,254.9 L185.4,254.9 L185.8,254.9 L186.2,254.9 L186.6,254.9 L187.0,254.9 L187.4,255.0 L187.8,255.0 L188.2,255.0 L188.6,255.0 L189.0,255.0 L189.4,255.0 L189.8,255.0 L190.2,255.0 L190.6,255.0 L191.0,255.0 L191.4,255.0 L191.8,255.0 L192.2,255.0 L192.6,255.0 L193.0,255.1 L193.4,255.1 L193.8,255.1 L194.2,255.1 L194.6,255.1 L195.0,255.1 L195.4,255.1 L195.8,255.1 L196.2,255.1 L196.6,255.1 L197.0,255.1 L197.4,255.1 L197.8,255.1 L198.2,255.1 L198.6,255.2 L199.0,255.2 L199.4,255.2 L199.8,255.2 L200.2,255.2 L200.6,255.2 L201.0,255.2 L201.4,255.2 L201.8,255.2 L202.2,255.2 L202.6,255.2 L203.0,255.2 L203.4,255.2 L203.8,255.2 L204.2,255.2 L204.6,255.2 L205.0,255.2 L205.4,255.2 L205.8,255.2 L206.2,255.2 L206.6,255.2 L207.0,255.2 L207.4,255.2 L207.8,255.2 L208.2,255.2 L208.6,255.2 L209.0,255.2 L209.4,255.2 L209.8,255.2 L210.2,255.2 L210.6,255.2 L211.0,255.2 L211.4,255.2 L211.8,255.2 L212.2,255.2 L212.6,255.2 L213.0,255.2 L213.4,255.2 L213.8,255.2 L214.2,255.2 L214.6,255.2 L215.0,255.2 L215.4,255.2 L215.8,255.2 L216.2,255.2 L216.6,255.2 L217.0,255.2 L217.4,255.2 L217.8,255.2 L218.2,255.2 L218.6,255.2 L219.0,255.2 L219.4,255.2 L219.8,255.2 L220.2,255.2 L220.6,255.2 L221.0,255.2 L221.4,255.2 L221.8,255.2 L222.2,255.2 L222.6,255.2 L223.0,255.2 L223.4,255.2 L223.8,255.2 L224.2,255.2 L224.6,255.2 L225.0,255.2 L225.4,255.2 L225.8,255.2 L226.2,255.2 L226.6,255.2 L227.0,255.2 L227.4,255.2 L227.8,255.3 L228.2,255.3 L228.6,255.3 L229.0,255.3 L229.4,255.3 L229.8,255.3 L230.2,255.3 L230.6,255.3 L231.0,255.3 L231.4,255.3 L231.8,255.4 L232.2,255.4 L232.6,255.4 L233.0,255.4 L233.4,255.4 L233.8,255.5 L234.2,255.5 L234.6,255.6 L235.0,255.8 L235.4,255.9 L235.8,256.2 L236.2,257.2 L236.2,257.2 L235.8,258.2 L235.4,258.4 L235.0,258.6 L234.6,258.8 L234.2,258.8 L233.8,258.9 L233.4,258.9 L233.0,259.0 L232.6,259.0 L232.2,259.0 L231.8,259.0 L231.4,259.0 L231.0,259.0 L230.6,259.0 L230.2,259.0 L229.8,259.1 L229.4,259.1 L229.0,259.1 L228.6,259.1 L228.2,259.1 L227.8,259.1 L227.4,259.1 L227.0,259.1 L226.6,259.1 L226.2,259.1 L225.8,259.2 L225.4,259.2 L225.0,259.2 L224.6,259.2 L224.2,259.2 L223.8,259.2 L223.4,259.2 L223.0,259.2 L222.6,259.2 L222.2,259.2 L221.8,259.2 L221.4,259.2 L221.0,259.2 L220.6,259.2 L220.2,259.2 L219.8,259.2 L219.4,259.2 L219.0,259.2 L218.6,259.2 L218.2,259.2 L217.8,259.2 L217.4,259.2 L217.0,259.2 L216.6,259.2 L216.2,259.2 L215.8,259.2 L215.4,259.2 L215.0,259.2 L214.6,259.2 L214.2,259.2 L213.8,259.2 L213.4,259.2 L213.0,259.2 L212.6,259.2 L212.2,259.2 L211.8,259.2 L211.4,259.2 L211.0,259.2 L210.6,259.2 L210.2,259.2 L209.8,259.2 L209.4,259.2 L209.0,259.2 L208.6,259.2 L208.2,259.2 L207.8,259.2 L207.4,259.2 L207.0,259.2 L206.6,259.2 L206.2,259.2 L205.8,259.2 L205.4,259.2 L205.0,259.2 L204.6,259.2 L204.2,259.2 L203.8,259.2 L203.4,259.2 L203.0,259.2 L202.6,259.2 L202.2,259.2 L201.8,259.2 L201.4,259.2 L201.0,259.2 L200.6,259.2 L200.2,259.2 L199.8,259.2 L199.4,259.2 L199.0,259.2 L198.6,259.2 L198.2,259.2 L197.8,259.2 L197.4,259.2 L197.0,259.2 L196.6,259.2 L196.2,259.2 L195.8,259.3 L195.4,259.3 L195.0,259.3 L194.6,259.3 L194.2,259.3 L193.8,259.3 L193.4,259.3 L193.0,259.3 L192.6,259.3 L192.2,259.3 L191.8,259.3 L191.4,259.3 L191.0,259.3 L190.6,259.4 L190.2,259.4 L189.8,259.4 L189.4,259.4 L189.0,259.4 L188.6,259.4 L188.2,259.4 L187.8,259.4 L187.4,259.4 L187.0,259.4 L186.6,259.4 L186.2,259.4 L185.8,259.4 L185.4,259.4 L185.0,259.5 L184.6,259.5 L184.2,259.5 L183.8,259.5 L183.4,259.5 L183.0,259.5 L182.6,259.4 L182.2,259.4 L181.8,259.4 L181.4,259.4 L181.0,259.4 L180.6,259.4 L180.2,259.3 L179.8,259.3 L179.4,259.3 L179.0,259.3 L178.6,259.3 L178.2,259.3 L177.8,259.2 L177.4,259.2 L177.0,259.2 L176.6,259.2 L176.2,259.4 L175.8,259.5 L175.4,259.8 L175.0,260.0 L174.6,260.2 L174.2,260.5 L173.8,261.0 L173.4,261.4 L173.0,262.7 L172.6,263.8 L172.2,264.5 L171.8,264.9 L171.4,265.2 L171.0,265.3 L170.6,265.4 L170.2,265.4 L169.8,265.4 L169.4,265.3 L169.0,265.1 L168.6,264.7 L168.2,264.2 L167.8,263.6 L167.4,263.3 L167.0,262.7 L166.6,262.1 L166.2,261.5 L165.8,261.0 L165.4,260.5 L165.0,260.0 L164.6,259.6 L164.2,259.3 L163.8,259.2 L163.4,259.1 L163.0,259.1 L162.6,259.1 L162.2,259.1 L161.8,259.0 L161.4,259.0 L161.0,259.0 L160.6,258.9 L160.2,258.8 L159.8,258.6 L159.4,258.3 L159.0,257.2Z" fill="url(#g11)"/>
<path d="M165.4,276.7 L165.8,275.6 L166.2,275.2 L166.6,275.0 L167.0,275.0 L167.4,274.0 L167.8,270.4 L168.2,269.0 L168.6,268.4 L169.0,268.2 L169.4,268.2 L169.8,268.3 L170.2,268.7 L170.6,269.6 L171.0,271.7 L171.4,274.1 L171.8,274.2 L172.2,274.3 L172.6,274.5 L173.0,274.6 L173.4,274.6 L173.8,274.6 L174.2,274.5 L174.6,274.5 L175.0,274.4 L175.4,274.3 L175.8,274.3 L176.2,274.3 L176.6,274.3 L177.0,274.3 L177.4,274.3 L177.8,274.3 L178.2,274.3 L178.6,274.3 L179.0,274.3 L179.4,274.3 L179.8,274.4 L180.2,274.4 L180.6,274.4 L181.0,274.4 L181.4,274.5 L181.8,274.5 L182.2,274.5 L182.6,274.5 L183.0,274.6 L183.4,274.6 L183.8,274.6 L184.2,274.7 L184.6,274.7 L185.0,274.7 L185.4,274.7 L185.8,274.7 L186.2,274.7 L186.6,274.8 L187.0,274.8 L187.4,274.8 L187.8,274.8 L188.2,274.8 L188.6,274.8 L189.0,274.8 L189.4,274.8 L189.8,274.9 L190.2,274.9 L190.6,274.9 L191.0,274.9 L191.4,274.9 L191.8,274.9 L192.2,275.3 L192.6,275.4 L193.0,275.6 L193.4,276.1 L193.5,276.7 L193.5,276.7 L193.4,277.2 L193.0,277.7 L192.6,278.0 L192.2,278.1 L191.8,278.4 L191.4,278.4 L191.0,278.4 L190.6,278.4 L190.2,278.4 L189.8,278.5 L189.4,278.5 L189.0,278.5 L188.6,278.5 L188.2,278.5 L187.8,278.5 L187.4,278.5 L187.0,278.5 L186.6,278.6 L186.2,278.6 L185.8,278.6 L185.4,278.6 L185.0,278.6 L184.6,278.6 L184.2,278.7 L183.8,278.7 L183.4,278.7 L183.0,278.7 L182.6,278.8 L182.2,278.8 L181.8,278.8 L181.4,278.9 L181.0,278.9 L180.6,278.9 L180.2,278.9 L179.8,279.0 L179.4,279.0 L179.0,279.0 L178.6,279.0 L178.2,279.0 L177.8,279.0 L177.4,279.0 L177.0,279.0 L176.6,279.0 L176.2,279.0 L175.8,279.0 L175.4,279.0 L175.0,278.9 L174.6,278.8 L174.2,278.8 L173.8,278.7 L173.4,278.7 L173.0,278.7 L172.6,278.8 L172.2,279.0 L171.8,279.1 L171.4,279.2 L171.0,281.7 L170.6,283.8 L170.2,284.7 L169.8,285.1 L169.4,285.2 L169.0,285.1 L168.6,284.9 L168.2,284.3 L167.8,283.0 L167.4,279.3 L167.0,278.4 L166.6,278.3 L166.2,278.1 L165.8,277.8 L165.4,276.7Z" fill="url(#g12)"/>
<path d="M154.9,296.1 L155.3,295.0 L155.7,294.7 L156.1,294.5 L156.5,294.4 L156.9,294.2 L157.3,294.1 L157.7,294.1 L158.1,294.1 L158.5,294.1 L158.9,294.1 L159.3,294.1 L159.7,294.1 L160.1,294.1 L160.5,294.1 L160.9,294.1 L161.3,294.1 L161.7,294.1 L162.1,294.1 L162.5,294.1 L162.9,294.1 L163.3,294.1 L163.7,294.1 L164.1,294.1 L164.5,294.1 L164.9,294.1 L165.3,294.1 L165.7,294.1 L166.1,294.1 L166.5,294.1 L166.9,294.1 L167.3,294.1 L167.7,294.1 L168.1,294.1 L168.5,294.1 L168.9,294.1 L169.3,294.1 L169.7,294.1 L170.1,294.1 L170.5,294.1 L170.9,294.1 L171.3,294.1 L171.7,294.1 L172.1,294.1 L172.5,293.9 L172.9,293.6 L173.3,293.3 L173.7,293.1 L174.1,293.1 L174.5,290.5 L174.9,288.9 L175.3,288.2 L175.7,288.0 L176.1,287.9 L176.5,288.1 L176.9,288.5 L177.3,289.5 L177.7,292.3 L178.1,294.0 L178.5,294.0 L178.9,294.1 L179.3,294.2 L179.7,294.6 L180.1,294.7 L180.5,294.9 L180.9,295.2 L181.2,296.1 L181.2,296.1 L180.9,297.0 L180.5,297.4 L180.1,297.6 L179.7,297.6 L179.3,298.1 L178.9,298.1 L178.5,298.2 L178.1,298.3 L177.7,300.0 L177.3,302.7 L176.9,303.8 L176.5,304.2 L176.1,304.3 L175.7,304.3 L175.3,304.1 L174.9,303.4 L174.5,301.8 L174.1,299.2 L173.7,299.2 L173.3,299.0 L172.9,298.6 L172.5,298.3 L172.1,298.2 L171.7,298.1 L171.3,298.1 L170.9,298.1 L170.5,298.1 L170.1,298.1 L169.7,298.1 L169.3,298.1 L168.9,298.1 L168.5,298.1 L168.1,298.1 L167.7,298.1 L167.3,298.1 L166.9,298.1 L166.5,298.1 L166.1,298.1 L165.7,298.1 L165.3,298.1 L164.9,298.1 L164.5,298.1 L164.1,298.1 L163.7,298.1 L163.3,298.1 L162.9,298.1 L162.5,298.1 L162.1,298.1 L161.7,298.1 L161.3,298.1 L160.9,298.1 L160.5,298.1 L160.1,298.1 L159.7,298.1 L159.3,298.1 L158.9,298.1 L158.5,298.1 L158.1,298.1 L157.7,298.1 L157.3,298.1 L156.9,298.1 L156.5,297.8 L156.1,297.8 L155.7,297.6 L155.3,297.2 L154.9,296.1Z" fill="url(#g13)"/>
<path d="M153.2,315.6 L153.6,314.5 L154.0,314.1 L154.4,313.9 L154.8,313.8 L155.2,313.6 L155.6,313.5 L156.0,313.5 L156.4,313.5 L156.8,313.4 L157.2,313.4 L157.6,313.4 L158.0,313.4 L158.4,313.4 L158.8,313.4 L159.2,313.4 L159.6,313.4 L160.0,313.4 L160.4,313.4 L160.8,313.4 L161.2,313.4 L161.6,313.4 L162.0,313.4 L162.4,313.4 L162.8,313.4 L163.2,313.4 L163.6,313.4 L164.0,313.4 L164.4,313.4 L164.8,313.4 L165.2,313.4 L165.6,313.4 L166.0,313.4 L166.4,313.4 L166.8,313.4 L167.2,313.4 L167.6,313.4 L168.0,313.4 L168.4,313.4 L168.8,313.4 L169.2,313.4 L169.6,313.4 L170.0,313.4 L170.4,313.4 L170.8,313.4 L171.2,313.4 L171.6,313.4 L172.0,313.4 L172.4,313.4 L172.8,313.3 L173.2,313.0 L173.6,312.6 L174.0,312.1 L174.4,310.5 L174.8,308.3 L175.2,307.4 L175.6,307.1 L176.0,307.0 L176.4,307.1 L176.8,307.4 L177.2,308.3 L177.6,310.5 L178.0,313.2 L178.4,313.3 L178.8,314.2 L179.2,314.3 L179.6,314.6 L180.0,315.6 L180.0,315.6 L179.6,316.6 L179.2,316.9 L178.8,317.1 L178.4,317.9 L178.0,318.1 L177.6,320.8 L177.2,322.9 L176.8,323.8 L176.4,324.2 L176.0,324.2 L175.6,324.2 L175.2,323.8 L174.8,322.9 L174.4,320.8 L174.0,319.1 L173.6,318.7 L173.2,318.2 L172.8,317.9 L172.4,317.8 L172.0,317.8 L171.6,317.8 L171.2,317.8 L170.8,317.8 L170.4,317.8 L170.0,317.8 L169.6,317.8 L169.2,317.8 L168.8,317.8 L168.4,317.8 L168.0,317.8 L167.6,317.8 L167.2,317.8 L166.8,317.8 L166.4,317.8 L166.0,317.8 L165.6,317.8 L165.2,317.8 L164.8,317.8 L164.4,317.8 L164.0,317.8 L163.6,317.8 L163.2,317.8 L162.8,317.8 L162.4,317.8 L162.0,317.8 L161.6,317.8 L161.2,317.8 L160.8,317.8 L160.4,317.8 L160.0,317.8 L159.6,317.8 L159.2,317.8 L158.8,317.8 L158.4,317.8 L158.0,317.8 L157.6,317.8 L157.2,317.8 L156.8,317.8 L156.4,317.8 L156.0,317.7 L155.6,317.7 L155.2,317.6 L154.8,317.4 L154.4,317.3 L154.0,317.1 L153.6,316.8 L153.2,315.6Z" fill="url(#g14)"/>
<path d="M163.7,335.1 L164.1,334.0 L164.5,333.7 L164.9,333.5 L165.3,333.4 L165.7,331.1 L166.1,330.3 L166.5,329.6 L166.9,328.9 L167.3,328.5 L167.7,328.0 L168.1,327.4 L168.5,327.0 L168.9,326.8 L169.3,326.7 L169.7,326.6 L170.1,326.6 L170.5,326.6 L170.9,326.7 L171.3,326.8 L171.7,327.0 L172.1,327.4 L172.5,328.0 L172.9,328.9 L173.3,330.5 L173.7,330.9 L174.1,331.1 L174.5,331.3 L174.9,331.5 L175.3,331.7 L175.7,332.0 L176.1,332.2 L176.5,332.4 L176.9,332.6 L177.3,332.8 L177.7,332.8 L178.1,332.8 L178.5,332.9 L178.9,332.9 L179.3,332.9 L179.7,332.9 L180.1,332.9 L180.5,333.0 L180.9,333.0 L181.3,332.6 L181.7,332.3 L182.1,332.2 L182.5,332.1 L182.9,332.1 L183.3,332.1 L183.7,332.1 L184.1,332.2 L184.5,332.4 L184.9,332.8 L185.3,333.2 L185.7,333.2 L186.1,333.2 L186.5,333.2 L186.9,333.2 L187.3,333.2 L187.7,333.2 L188.1,333.2 L188.5,333.2 L188.9,333.2 L189.3,333.2 L189.7,333.3 L190.1,333.3 L190.5,333.3 L190.9,333.3 L191.3,333.3 L191.7,333.3 L192.1,333.3 L192.5,333.3 L192.9,333.3 L193.3,333.3 L193.7,333.3 L194.1,333.3 L194.5,333.3 L194.9,333.3 L195.3,333.3 L195.7,333.3 L196.1,333.3 L196.5,333.4 L196.9,333.4 L197.3,333.4 L197.7,333.4 L198.1,333.4 L198.5,333.4 L198.9,333.4 L199.3,333.4 L199.7,333.4 L200.1,333.4 L200.5,333.5 L200.9,333.7 L201.3,333.8 L201.7,334.0 L202.1,334.6 L202.2,335.1 L202.2,335.1 L202.1,335.6 L201.7,336.2 L201.3,336.4 L200.9,336.5 L200.5,336.7 L200.1,336.8 L199.7,336.8 L199.3,336.8 L198.9,336.8 L198.5,336.8 L198.1,336.8 L197.7,336.8 L197.3,336.8 L196.9,336.8 L196.5,336.8 L196.1,336.9 L195.7,336.9 L195.3,336.9 L194.9,336.9 L194.5,336.9 L194.1,336.9 L193.7,336.9 L193.3,336.9 L192.9,336.9 L192.5,336.9 L192.1,336.9 L191.7,336.9 L191.3,336.9 L190.9,336.9 L190.5,336.9 L190.1,336.9 L189.7,336.9 L189.3,337.0 L188.9,337.0 L188.5,337.0 L188.1,337.0 L187.7,337.0 L187.3,337.0 L186.9,337.0 L186.5,337.0 L186.1,337.0 L185.7,337.0 L185.3,337.0 L184.9,337.4 L184.5,337.8 L184.1,338.0 L183.7,338.1 L183.3,338.1 L182.9,338.1 L182.5,338.1 L182.1,338.0 L181.7,337.9 L181.3,337.6 L180.9,337.2 L180.5,337.2 L180.1,337.3 L179.7,337.3 L179.3,337.3 L178.9,337.3 L178.5,337.3 L178.1,337.4 L177.7,337.4 L177.3,337.4 L176.9,337.6 L176.5,337.8 L176.1,338.0 L175.7,338.2 L175.3,338.5 L174.9,338.7 L174.5,338.9 L174.1,339.1 L173.7,339.3 L173.3,339.7 L172.9,341.3 L172.5,342.2 L172.1,342.8 L171.7,343.2 L171.3,343.4 L170.9,343.5 L170.5,343.6 L170.1,343.6 L169.7,343.6 L169.3,343.5 L168.9,343.4 L168.5,343.2 L168.1,342.8 L167.7,342.2 L167.3,341.7 L166.9,341.3 L166.5,340.6 L166.1,339.9 L165.7,339.1 L165.3,336.8 L164.9,336.7 L164.5,336.5 L164.1,336.2 L163.7,335.1Z" fill="url(#g15)"/>
<circle cx="205.1" cy="335.1" r="1.2" fill="#e8265e"/>
<path d="M144.1,354.6 L144.5,353.5 L144.9,353.1 L145.3,353.0 L145.7,352.9 L146.1,352.6 L146.5,352.5 L146.9,352.5 L147.3,352.5 L147.7,352.5 L148.1,352.5 L148.5,352.5 L148.9,352.5 L149.3,352.5 L149.7,352.5 L150.1,352.5 L150.5,352.4 L150.9,352.4 L151.3,352.4 L151.7,352.4 L152.1,352.4 L152.5,352.4 L152.9,352.4 L153.3,352.4 L153.7,352.4 L154.1,352.4 L154.5,352.4 L154.9,352.4 L155.3,352.4 L155.7,352.4 L156.1,352.4 L156.5,352.4 L156.9,352.4 L157.3,352.4 L157.7,352.4 L158.1,352.4 L158.5,352.4 L158.9,352.4 L159.3,352.3 L159.7,352.3 L160.1,352.3 L160.5,352.3 L160.9,352.3 L161.3,352.2 L161.7,352.2 L162.1,352.2 L162.5,352.2 L162.9,352.2 L163.3,352.2 L163.7,352.1 L164.1,352.1 L164.5,352.1 L164.9,352.1 L165.3,352.1 L165.7,352.0 L166.1,352.0 L166.5,352.0 L166.9,352.0 L167.3,351.9 L167.7,351.9 L168.1,351.8 L168.5,351.7 L168.9,351.6 L169.3,351.5 L169.7,351.3 L170.1,351.2 L170.5,351.1 L170.9,351.0 L171.3,350.9 L171.7,350.8 L172.1,350.8 L172.5,350.8 L172.9,350.7 L173.3,348.4 L173.7,347.3 L174.1,346.7 L174.5,346.4 L174.9,346.4 L175.3,346.4 L175.7,346.5 L176.1,346.9 L176.5,347.7 L176.9,349.3 L177.3,350.3 L177.7,350.4 L178.1,350.7 L178.5,351.0 L178.9,351.3 L179.3,351.6 L179.7,351.8 L180.1,352.0 L180.5,352.2 L180.9,352.2 L181.3,352.3 L181.7,352.4 L182.1,352.4 L182.5,352.5 L182.9,352.6 L183.3,352.6 L183.7,352.7 L184.1,352.8 L184.5,353.1 L184.9,353.2 L185.3,353.5 L185.7,354.0 L185.8,354.6 L185.8,354.6 L185.7,355.1 L185.3,355.7 L184.9,356.0 L184.5,356.1 L184.1,356.4 L183.7,356.4 L183.3,356.5 L182.9,356.6 L182.5,356.6 L182.1,356.7 L181.7,356.8 L181.3,356.9 L180.9,356.9 L180.5,357.0 L180.1,357.1 L179.7,357.3 L179.3,357.6 L178.9,357.9 L178.5,358.2 L178.1,358.5 L177.7,358.7 L177.3,358.8 L176.9,359.9 L176.5,361.4 L176.1,362.2 L175.7,362.6 L175.3,362.8 L174.9,362.8 L174.5,362.7 L174.1,362.5 L173.7,361.9 L173.3,360.8 L172.9,358.4 L172.5,358.4 L172.1,358.4 L171.7,358.3 L171.3,358.3 L170.9,358.2 L170.5,358.1 L170.1,357.9 L169.7,357.8 L169.3,357.7 L168.9,357.6 L168.5,357.4 L168.1,357.3 L167.7,357.3 L167.3,357.2 L166.9,357.2 L166.5,357.2 L166.1,357.2 L165.7,357.1 L165.3,357.1 L164.9,357.1 L164.5,357.1 L164.1,357.0 L163.7,357.0 L163.3,357.0 L162.9,357.0 L162.5,357.0 L162.1,356.9 L161.7,356.9 L161.3,356.9 L160.9,356.9 L160.5,356.9 L160.1,356.9 L159.7,356.8 L159.3,356.8 L158.9,356.8 L158.5,356.8 L158.1,356.8 L157.7,356.8 L157.3,356.8 L156.9,356.8 L156.5,356.8 L156.1,356.8 L155.7,356.8 L155.3,356.8 L154.9,356.8 L154.5,356.7 L154.1,356.7 L153.7,356.7 L153.3,356.7 L152.9,356.7 L152.5,356.7 L152.1,356.7 L151.7,356.7 L151.3,356.7 L150.9,356.7 L150.5,356.7 L150.1,356.7 L149.7,356.7 L149.3,356.7 L148.9,356.7 L148.5,356.7 L148.1,356.7 L147.7,356.7 L147.3,356.7 L146.9,356.7 L146.5,356.6 L146.1,356.6 L145.7,356.3 L145.3,356.2 L144.9,356.0 L144.5,355.7 L144.1,354.6Z" fill="url(#g16)"/>
<path d="M165.6,374.1 L166.0,373.0 L166.4,372.6 L166.8,372.4 L167.2,372.4 L167.6,371.2 L168.0,367.4 L168.4,366.1 L168.8,365.6 L169.2,365.6 L169.6,365.6 L170.0,366.1 L170.4,367.4 L170.8,371.2 L171.2,371.2 L171.6,371.2 L172.0,371.2 L172.4,371.2 L172.8,371.2 L173.2,371.2 L173.6,371.2 L174.0,371.2 L174.4,371.2 L174.8,371.2 L175.2,371.2 L175.6,371.2 L176.0,371.2 L176.4,371.2 L176.8,371.2 L177.2,371.2 L177.6,371.2 L178.0,371.2 L178.4,371.2 L178.8,371.2 L179.2,371.2 L179.6,371.2 L180.0,371.2 L180.4,371.3 L180.8,371.5 L181.2,371.9 L181.6,372.2 L182.0,372.3 L182.4,372.4 L182.8,372.4 L183.2,372.4 L183.6,372.4 L184.0,372.4 L184.4,372.4 L184.8,372.4 L185.2,372.4 L185.6,372.5 L186.0,372.5 L186.4,372.5 L186.8,372.5 L187.2,372.5 L187.6,372.5 L188.0,372.5 L188.4,372.6 L188.8,372.6 L189.2,372.8 L189.6,373.2 L189.9,374.1 L189.9,374.1 L189.6,375.0 L189.2,375.3 L188.8,375.5 L188.4,375.6 L188.0,375.6 L187.6,375.6 L187.2,375.6 L186.8,375.6 L186.4,375.6 L186.0,375.7 L185.6,375.7 L185.2,375.7 L184.8,375.7 L184.4,375.7 L184.0,375.7 L183.6,375.7 L183.2,375.7 L182.8,375.7 L182.4,375.7 L182.0,375.8 L181.6,376.0 L181.2,376.3 L180.8,376.6 L180.4,376.9 L180.0,377.0 L179.6,377.0 L179.2,377.0 L178.8,377.0 L178.4,377.0 L178.0,377.0 L177.6,377.0 L177.2,377.0 L176.8,377.0 L176.4,377.0 L176.0,377.0 L175.6,377.0 L175.2,377.0 L174.8,377.0 L174.4,377.0 L174.0,377.0 L173.6,377.0 L173.2,377.0 L172.8,377.0 L172.4,377.0 L172.0,377.0 L171.6,377.0 L171.2,377.0 L170.8,377.0 L170.4,380.7 L170.0,382.0 L169.6,382.5 L169.2,382.6 L168.8,382.5 L168.4,382.0 L168.0,380.7 L167.6,377.0 L167.2,375.8 L166.8,375.7 L166.4,375.5 L166.0,375.2 L165.6,374.1Z" fill="url(#g17)"/>
<path d="M146.4,393.5 L146.8,392.4 L147.2,392.0 L147.6,391.8 L148.0,391.8 L148.4,391.4 L148.8,391.4 L149.2,391.4 L149.6,391.3 L150.0,391.3 L150.4,391.3 L150.8,391.3 L151.2,391.3 L151.6,391.3 L152.0,391.3 L152.4,391.3 L152.8,391.3 L153.2,391.3 L153.6,391.3 L154.0,391.3 L154.4,391.3 L154.8,391.3 L155.2,391.3 L155.6,391.3 L156.0,391.3 L156.4,391.3 L156.8,391.3 L157.2,391.3 L157.6,391.3 L158.0,391.3 L158.4,391.3 L158.8,391.3 L159.2,391.3 L159.6,391.3 L160.0,391.3 L160.4,391.3 L160.8,391.3 L161.2,391.3 L161.6,391.3 L162.0,391.3 L162.4,391.3 L162.8,391.3 L163.2,391.3 L163.6,391.3 L164.0,391.3 L164.4,391.3 L164.8,391.2 L165.2,391.1 L165.6,391.0 L166.0,390.9 L166.4,390.8 L166.8,390.7 L167.2,390.6 L167.6,390.5 L168.0,390.4 L168.4,390.3 L168.8,390.1 L169.2,390.0 L169.6,389.9 L170.0,389.9 L170.4,389.9 L170.8,390.0 L171.2,390.1 L171.6,390.2 L172.0,390.2 L172.4,390.3 L172.8,390.4 L173.2,390.5 L173.6,389.8 L174.0,387.1 L174.4,386.0 L174.8,385.5 L175.2,385.3 L175.6,385.2 L176.0,385.3 L176.4,385.7 L176.8,386.4 L177.2,388.0 L177.6,391.4 L178.0,391.5 L178.4,391.6 L178.8,391.7 L179.2,391.8 L179.6,391.9 L180.0,392.0 L180.4,392.0 L180.8,392.1 L181.2,392.1 L181.6,392.1 L182.0,392.1 L182.4,392.1 L182.8,392.2 L183.2,392.3 L183.6,392.6 L184.0,393.5 L184.0,393.5 L183.6,394.5 L183.2,394.8 L182.8,394.9 L182.4,395.0 L182.0,395.0 L181.6,395.0 L181.2,395.0 L180.8,395.0 L180.4,395.0 L180.0,395.1 L179.6,395.2 L179.2,395.3 L178.8,395.4 L178.4,395.5 L178.0,395.6 L177.6,395.7 L177.2,399.0 L176.8,400.7 L176.4,401.4 L176.0,401.8 L175.6,401.8 L175.2,401.8 L174.8,401.6 L174.4,401.1 L174.0,400.0 L173.6,397.3 L173.2,396.6 L172.8,396.7 L172.4,396.7 L172.0,396.8 L171.6,396.9 L171.2,397.0 L170.8,397.1 L170.4,397.2 L170.0,397.2 L169.6,397.1 L169.2,397.0 L168.8,396.9 L168.4,396.8 L168.0,396.7 L167.6,396.6 L167.2,396.5 L166.8,396.4 L166.4,396.3 L166.0,396.2 L165.6,396.1 L165.2,396.0 L164.8,395.9 L164.4,395.8 L164.0,395.8 L163.6,395.7 L163.2,395.7 L162.8,395.7 L162.4,395.7 L162.0,395.7 L161.6,395.7 L161.2,395.7 L160.8,395.7 L160.4,395.7 L160.0,395.7 L159.6,395.7 L159.2,395.7 L158.8,395.7 L158.4,395.7 L158.0,395.7 L157.6,395.7 L157.2,395.7 L156.8,395.7 L156.4,395.7 L156.0,395.7 L155.6,395.7 L155.2,395.7 L154.8,395.7 L154.4,395.7 L154.0,395.7 L153.6,395.7 L153.2,395.7 L152.8,395.7 L152.4,395.7 L152.0,395.7 L151.6,395.7 L151.2,395.7 L150.8,395.7 L150.4,395.7 L150.0,395.7 L149.6,395.7 L149.2,395.7 L148.8,395.7 L148.4,395.6 L148.0,395.3 L147.6,395.2 L147.2,395.0 L146.8,394.7 L146.4,393.5Z" fill="url(#g18)"/>
<path d="M159.0,413.0 L159.4,411.9 L159.8,411.6 L160.2,411.4 L160.6,411.3 L161.0,411.3 L161.4,411.2 L161.8,411.2 L162.2,411.0 L162.6,410.8 L163.0,410.6 L163.4,410.4 L163.8,410.2 L164.2,410.0 L164.6,409.8 L165.0,409.7 L165.4,409.6 L165.8,409.6 L166.2,409.6 L166.6,409.0 L167.0,408.4 L167.4,408.0 L167.8,407.8 L168.2,407.7 L168.6,407.7 L169.0,407.7 L169.4,407.8 L169.8,408.0 L170.2,408.4 L170.6,409.0 L171.0,409.6 L171.4,409.6 L171.8,409.6 L172.2,409.6 L172.6,409.7 L173.0,409.7 L173.4,409.8 L173.8,409.9 L174.2,406.8 L174.6,405.5 L175.0,404.9 L175.4,404.6 L175.8,404.6 L176.2,404.7 L176.6,405.1 L177.0,406.0 L177.4,408.1 L177.8,410.6 L178.2,410.7 L178.6,410.8 L179.0,410.9 L179.4,411.0 L179.8,411.1 L180.2,411.1 L180.6,411.2 L181.0,411.2 L181.4,411.2 L181.8,411.2 L182.2,411.2 L182.6,411.2 L183.0,411.3 L183.4,411.3 L183.8,411.3 L184.2,411.3 L184.6,411.3 L185.0,411.3 L185.4,411.3 L185.8,411.3 L186.2,411.3 L186.6,411.3 L187.0,411.3 L187.4,411.3 L187.8,411.6 L188.2,411.7 L188.6,411.9 L189.0,412.3 L189.2,413.0 L189.2,413.0 L189.0,413.7 L188.6,414.2 L188.2,414.4 L187.8,414.4 L187.4,414.7 L187.0,414.7 L186.6,414.7 L186.2,414.8 L185.8,414.8 L185.4,414.8 L185.0,414.8 L184.6,414.8 L184.2,414.8 L183.8,414.8 L183.4,414.8 L183.0,414.8 L182.6,414.8 L182.2,414.8 L181.8,414.8 L181.4,414.8 L181.0,414.8 L180.6,414.8 L180.2,414.9 L179.8,415.0 L179.4,415.1 L179.0,415.1 L178.6,415.2 L178.2,415.3 L177.8,415.4 L177.4,418.0 L177.0,420.0 L176.6,420.9 L176.2,421.3 L175.8,421.4 L175.4,421.4 L175.0,421.2 L174.6,420.6 L174.2,419.2 L173.8,416.2 L173.4,416.2 L173.0,416.3 L172.6,416.4 L172.2,416.4 L171.8,416.4 L171.4,416.4 L171.0,416.4 L170.6,417.1 L170.2,417.7 L169.8,418.0 L169.4,418.2 L169.0,418.3 L168.6,418.3 L168.2,418.3 L167.8,418.2 L167.4,418.0 L167.0,417.7 L166.6,417.1 L166.2,416.4 L165.8,416.4 L165.4,416.4 L165.0,416.4 L164.6,416.3 L164.2,416.1 L163.8,415.9 L163.4,415.6 L163.0,415.4 L162.6,415.2 L162.2,415.0 L161.8,414.9 L161.4,414.8 L161.0,414.8 L160.6,414.7 L160.2,414.6 L159.8,414.5 L159.4,414.1 L159.0,413.0Z" fill="url(#g19)"/>
<g font-size="9.6" text-anchor="middle" fill="#2a2a2a" stroke="#2a2a2a" stroke-width="0.08" font-family="Liberation Sans"><text transform="scale(0.56,1)" x="77.09" y="47.00">G</text><text transform="scale(0.88,1)" x="53.99" y="47.00">l</text><text transform="scale(0.84,1)" x="61.73 66.89" y="47.00">yc</text><text transform="scale(0.64,1)" x="94.58" y="47.00">A</text></g>
<g font-size="9.6" text-anchor="middle" fill="#2a2a2a" stroke="#2a2a2a" stroke-width="0.08" font-family="Liberation Sans"><text transform="scale(0.76,1)" x="56.80" y="66.48">L</text><text transform="scale(0.64,1)" x="74.23 94.58" y="66.48">AA</text><text transform="scale(0.88,1)" x="58.92" y="66.48">/</text><text transform="scale(0.72,1)" x="78.04" y="66.48">F</text></g>
<g font-size="9.6" text-anchor="middle" fill="#2a2a2a" stroke="#2a2a2a" stroke-width="0.08" font-family="Liberation Sans"><text transform="scale(0.60,1)" x="57.48 64.72" y="85.96">MU</text><text transform="scale(0.72,1)" x="59.96 78.04" y="85.96">FF</text><text transform="scale(0.64,1)" x="74.23 94.58" y="85.96">AA</text><text transform="scale(0.88,1)" x="58.92" y="85.96">/</text></g>
<g font-size="9.6" text-anchor="middle" fill="#2a2a2a" stroke="#2a2a2a" stroke-width="0.08" font-family="Liberation Sans"><text transform="scale(0.64,1)" x="81.02" y="105.44">A</text><text transform="scale(0.88,1)" x="63.85" y="105.44">l</text><text transform="scale(0.76,1)" x="79.64" y="105.44">b</text></g>
<g font-size="9.6" text-anchor="middle" fill="#2a2a2a" stroke="#2a2a2a" stroke-width="0.08" font-family="Liberation Sans"><text transform="scale(0.64,1)" x="81.02" y="124.92">V</text><text transform="scale(0.76,1)" x="73.93" y="124.92">a</text><text transform="scale(0.88,1)" x="68.78" y="124.92">l</text></g>
<g font-size="9.6" text-anchor="middle" fill="#2a2a2a" stroke="#2a2a2a" stroke-width="0.08" font-family="Liberation Sans"><text transform="scale(0.60,1)" x="64.72 71.95" y="144.40">DH</text><text transform="scale(0.64,1)" x="74.23 94.58" y="144.40">AA</text><text transform="scale(0.88,1)" x="58.92" y="144.40">/</text><text transform="scale(0.72,1)" x="78.04" y="144.40">F</text></g>
<g font-size="9.6" text-anchor="middle" fill="#2a2a2a" stroke="#2a2a2a" stroke-width="0.08" font-family="Liberation Sans"><text transform="scale(0.64,1)" x="40.33 60.67 94.58" y="163.88">PAA</text><text transform="scale(0.60,1)" x="50.25 79.18 86.42" y="163.88">UMU</text><text transform="scale(0.72,1)" x="47.90 78.04" y="163.88">FF</text><text transform="scale(0.88,1)" x="49.06" y="163.88">/</text></g>
<g font-size="9.6" text-anchor="middle" fill="#2a2a2a" stroke="#2a2a2a" stroke-width="0.08" font-family="Liberation Sans"><text transform="scale(0.76,1)" x="73.93" y="183.36">L</text><text transform="scale(0.64,1)" x="94.58" y="183.36">A</text></g>
<g font-size="9.6" text-anchor="middle" fill="#2a2a2a" stroke="#2a2a2a" stroke-width="0.08" font-family="Liberation Sans"><text transform="scale(0.64,1)" x="19.98 26.77 40.33" y="202.84">XSV</text><text transform="scale(0.76,1)" x="28.25 39.67 51.09 56.80 73.93" y="202.84">–LL–_</text><text transform="scale(0.60,1)" x="57.48 86.42" y="202.84">DC</text><text transform="scale(0.72,1)" x="65.99" y="202.84">F</text><text transform="scale(0.56,1)" x="108.09" y="202.84">%</text></g>
<g font-size="9.6" text-anchor="middle" fill="#2a2a2a" stroke="#2a2a2a" stroke-width="0.08" font-family="Liberation Sans"><text transform="scale(0.76,1)" x="28.25 33.96 51.09 56.80 68.22 73.93" y="222.32">L–L–L_</text><text transform="scale(0.60,1)" x="50.25 57.48" y="222.32">HD</text><text transform="scale(0.64,1)" x="74.23" y="222.32">P</text><text transform="scale(0.56,1)" x="108.09" y="222.32">%</text></g>
<g font-size="9.6" text-anchor="middle" fill="#2a2a2a" stroke="#2a2a2a" stroke-width="0.08" font-family="Liberation Sans"><text transform="scale(0.64,1)" x="19.98 26.77 40.33 81.02" y="241.80">XSVE</text><text transform="scale(0.76,1)" x="28.25 39.67 51.09 56.80 73.93" y="241.80">–LL–_</text><text transform="scale(0.60,1)" x="57.48 79.18" y="241.80">DC</text><text transform="scale(0.56,1)" x="108.09" y="241.80">%</text></g>
<g font-size="9.6" text-anchor="middle" fill="#2a2a2a" stroke="#2a2a2a" stroke-width="0.08" font-family="Liberation Sans"><text transform="scale(0.72,1)" x="72.01" y="261.28">T</text><text transform="scale(0.84,1)" x="66.89" y="261.28">y</text><text transform="scale(0.88,1)" x="68.78" y="261.28">r</text></g>
<g font-size="9.6" text-anchor="middle" fill="#2a2a2a" stroke="#2a2a2a" stroke-width="0.08" font-family="Liberation Sans"><text transform="scale(0.76,1)" x="28.25 33.96 51.09 56.80 73.93" y="280.76">L–L–_</text><text transform="scale(0.60,1)" x="50.25 57.48 86.42" y="280.76">HDC</text><text transform="scale(0.72,1)" x="65.99" y="280.76">F</text><text transform="scale(0.56,1)" x="108.09" y="280.76">%</text></g>
<g font-size="9.6" text-anchor="middle" fill="#2a2a2a" stroke="#2a2a2a" stroke-width="0.08" font-family="Liberation Sans"><text transform="scale(0.72,1)" x="65.99 78.04" y="300.24">Fw</text><text transform="scale(0.64,1)" x="81.02" y="300.24">A</text><text transform="scale(0.76,1)" x="79.64" y="300.24">6</text></g>
<g font-size="9.6" text-anchor="middle" fill="#2a2a2a" stroke="#2a2a2a" stroke-width="0.08" font-family="Liberation Sans"><text transform="scale(0.64,1)" x="40.33" y="319.72">V</text><text transform="scale(0.76,1)" x="39.67 51.09 79.64" y="319.72">LLe</text><text transform="scale(0.60,1)" x="57.48" y="319.72">D</text><text transform="scale(0.84,1)" x="56.56 66.89" y="319.72">sz</text><text transform="scale(0.88,1)" x="58.92" y="319.72">i</text></g>
<g font-size="9.6" text-anchor="middle" fill="#2a2a2a" stroke="#2a2a2a" stroke-width="0.08" font-family="Liberation Sans"><text transform="scale(0.60,1)" x="71.95" y="339.20">U</text><text transform="scale(0.76,1)" x="62.51 73.93" y="339.20">na</text><text transform="scale(0.64,1)" x="81.02" y="339.20">S</text><text transform="scale(0.88,1)" x="68.78" y="339.20">t</text></g>
<g font-size="9.6" text-anchor="middle" fill="#2a2a2a" stroke="#2a2a2a" stroke-width="0.08" font-family="Liberation Sans"><text transform="scale(0.64,1)" x="26.77 33.55 53.89 94.58" y="358.68">XXVE</text><text transform="scale(0.76,1)" x="33.96 39.67 51.09 62.51 68.22" y="358.68">L–LL–</text><text transform="scale(0.60,1)" x="71.95 93.65" y="358.68">DC</text></g>
<g font-size="9.6" text-anchor="middle" fill="#2a2a2a" stroke="#2a2a2a" stroke-width="0.08" font-family="Liberation Sans"><text transform="scale(0.76,1)" x="28.25 33.96 39.67 51.09 56.80 73.93" y="378.16">L–LL–_</text><text transform="scale(0.60,1)" x="57.48" y="378.16">D</text><text transform="scale(0.72,1)" x="65.99" y="378.16">T</text><text transform="scale(0.56,1)" x="92.59 108.09" y="378.16">G%</text></g>
<g font-size="9.6" text-anchor="middle" fill="#2a2a2a" stroke="#2a2a2a" stroke-width="0.08" font-family="Liberation Sans"><text transform="scale(0.64,1)" x="33.55 81.02" y="397.64">SE</text><text transform="scale(0.76,1)" x="33.96 39.67 51.09 56.80 73.93" y="397.64">–LL–_</text><text transform="scale(0.60,1)" x="57.48 79.18" y="397.64">DC</text><text transform="scale(0.56,1)" x="108.09" y="397.64">%</text></g>
<g font-size="9.6" text-anchor="middle" fill="#2a2a2a" stroke="#2a2a2a" stroke-width="0.08" font-family="Liberation Sans"><text transform="scale(0.64,1)" x="67.45 81.02 87.80" y="417.12">BAA</text><text transform="scale(0.60,1)" x="79.18" y="417.12">C</text><text transform="scale(0.84,1)" x="72.06" y="417.12">s</text></g>
<line x1="79" y1="432.6" x2="317.5" y2="432.6" stroke="#555" stroke-width="1"/>
<line x1="122.1" y1="432.6" x2="122.1" y2="435.8" stroke="#555" stroke-width="0.8"/>
<g font-size="7.2" text-anchor="middle" fill="#2a2a2a" stroke="#2a2a2a" stroke-width="0.08" font-family="Liberation Sans"><text transform="scale(0.80,1)" x="146.25 150.50 159.00" y="444.00">–01</text><text transform="scale(0.88,1)" x="139.83" y="444.00">.</text></g>
<line x1="173.0" y1="432.6" x2="173.0" y2="435.8" stroke="#555" stroke-width="0.8"/>
<g font-size="7.2" text-anchor="middle" fill="#2a2a2a" stroke="#2a2a2a" stroke-width="0.08" font-family="Liberation Sans"><text transform="scale(0.80,1)" x="212.00 220.50" y="444.00">00</text><text transform="scale(0.88,1)" x="195.74" y="444.00">.</text></g>
<line x1="223.9" y1="432.6" x2="223.9" y2="435.8" stroke="#555" stroke-width="0.8"/>
<g font-size="7.2" text-anchor="middle" fill="#2a2a2a" stroke="#2a2a2a" stroke-width="0.08" font-family="Liberation Sans"><text transform="scale(0.80,1)" x="275.62 284.12" y="444.00">01</text><text transform="scale(0.88,1)" x="253.58" y="444.00">.</text></g>
<line x1="274.8" y1="432.6" x2="274.8" y2="435.8" stroke="#555" stroke-width="0.8"/>
<g font-size="7.2" text-anchor="middle" fill="#2a2a2a" stroke="#2a2a2a" stroke-width="0.08" font-family="Liberation Sans"><text transform="scale(0.80,1)" x="339.25 347.75" y="444.00">02</text><text transform="scale(0.88,1)" x="311.42" y="444.00">.</text></g>
<g font-size="9.0" text-anchor="middle" fill="#2a2a2a" stroke="#2a2a2a" stroke-width="0.08" font-family="Liberation Sans"><text transform="scale(0.68,1)" x="180.85 193.67 200.07 264.15 321.82" y="454.20">SAPmm</text><text transform="scale(0.64,1)" x="198.96" y="454.20">H</text><text transform="scale(0.88,1)" x="164.50 174.41 194.81 199.16 218.97 223.92 268.48 288.29 303.14 307.50" y="454.20">vl(ictltt)</text><text transform="scale(0.84,1)" x="177.53 187.90 193.09 219.02 224.21 244.96 250.14 265.71 270.89 276.08 291.64 296.83 307.20 312.39" y="454.20">auepaonodeoupu</text></g>
<rect x="332" y="23.7" width="5.6" height="408.7" fill="url(#cb)"/>
<g font-size="6.6" text-anchor="middle" fill="#2a2a2a" stroke="#2a2a2a" stroke-width="0.08" font-family="Liberation Sans"><text transform="scale(0.72,1)" x="474.69" y="26.60">H</text><text transform="scale(0.88,1)" x="392.41 396.45 400.48" y="26.60">igh</text></g>
<g font-size="6.6" text-anchor="middle" fill="#2a2a2a" stroke="#2a2a2a" stroke-width="0.08" font-family="Liberation Sans"><text transform="scale(0.88,1)" x="388.39 392.45" y="435.00">Lo</text><text transform="scale(0.84,1)" x="415.39" y="435.00">w</text></g>
<g font-size="7.6" text-anchor="middle" fill="#2a2a2a" stroke="#2a2a2a" stroke-width="0.08" font-family="Liberation Sans" transform="translate(360.20,228.70) rotate(-90)"><text transform="scale(0.84,1)" x="-29.45" y="0.00">F</text><text transform="scale(0.88,1)" x="-23.43 -18.74 -14.06 -9.37 -4.69 0.00 9.37 14.06 18.74 23.43 28.11" y="0.00">eaturevalue</text></g>
<path d="M431.1,194.1 L431.1,177.4 L431.6,183.5 L431.7,182.9 L431.7,182.2 L431.8,181.5 L431.9,180.7 L432.0,179.9 L432.1,179.1 L432.2,178.2 L432.3,177.2 L432.4,176.2 L432.6,175.1 L432.8,174.0 L433.0,172.9 L433.2,171.6 L433.4,170.3 L433.7,168.9 L434.0,167.5 L434.3,166.0 L434.7,164.4 L435.2,162.7 L435.6,161.0 L436.2,159.1 L436.8,157.2 L437.4,155.2 L438.2,153.1 L439.0,150.9 L439.9,148.6 L441.0,146.1 L442.1,143.6 L443.4,141.0 L443.4,141.0 L445.4,137.3 L447.3,134.0 L449.3,130.9 L451.3,128.0 L453.2,125.3 L455.2,122.7 L457.2,120.3 L459.1,118.0 L461.1,115.9 L463.1,113.8 L465.0,111.8 L467.0,109.9 L469.0,108.1 L470.9,106.4 L472.9,104.7 L474.9,103.1 L476.8,101.5 L478.8,100.0 L480.8,98.5 L482.7,97.1 L484.7,95.8 L486.7,94.4 L488.6,93.1 L490.6,91.9 L492.5,90.7 L494.5,89.5 L496.5,88.3 L498.4,87.2 L500.4,86.1 L502.4,85.0 L504.3,84.0 L506.3,83.0 L508.3,82.0 L510.2,81.0 L512.2,80.0 L514.2,79.1 L516.1,78.2 L518.1,77.3 L520.1,76.5 L522.0,75.6 L524.0,74.8 L526.0,74.0 L527.9,73.2 L529.9,72.4 L531.9,71.7 L533.8,70.9 L535.8,70.2 L537.8,69.5 L539.7,68.8 L541.7,68.1 L543.6,67.4 L545.6,66.7 L547.6,66.1 L549.5,65.4 L551.5,64.8 L553.5,64.2 L555.4,63.6 L557.4,63.0 L559.4,62.4 L561.3,61.9 L563.3,61.3 L565.3,60.8 L567.2,60.2 L569.2,59.7 L571.2,59.2 L573.1,58.7 L575.1,58.2 L577.1,57.7 L579.0,57.2 L581.0,56.8 L583.0,56.3 L584.9,55.8 L586.9,55.4 L588.9,55.0 L590.8,54.5 L592.8,54.1 L594.8,53.7 L596.7,53.3 L598.7,52.9 L600.6,52.5 L602.6,52.1 L604.6,51.7 L606.5,51.4 L608.5,51.0 L610.5,50.7 L612.4,50.3 L614.4,50.0 L616.4,49.6 L618.3,49.3 L620.3,49.0 L622.3,48.7 L624.2,48.4 L626.2,48.1 L628.2,47.8 L630.1,47.5 L632.1,47.2 L634.1,46.9 L636.0,46.7 L638.0,46.4 L640.0,46.1 L641.9,45.9 L643.9,45.7 L645.9,45.4 L647.8,45.2 L649.8,45.0 L651.7,44.7 L653.7,44.5 L655.7,44.3 L657.6,44.1 L659.6,43.9 L661.6,43.8 L663.5,43.6 L665.5,43.4 L667.5,43.2 L669.4,43.1 L671.4,43.0 L673.4,42.8 L675.3,42.7 L677.3,42.6 L677.3,42.6" fill="none" stroke="#2f72b2" stroke-width="1.6"/>
<path d="M431.1,194.1 L431.1,177.4 L431.6,186.9 L431.7,186.4 L431.7,185.9 L431.8,185.3 L431.9,184.7 L432.0,184.1 L432.1,183.4 L432.2,182.7 L432.3,182.0 L432.4,181.1 L432.6,180.3 L432.8,179.4 L433.0,178.4 L433.2,177.4 L433.4,176.3 L433.7,175.1 L434.0,173.9 L434.3,172.6 L434.7,171.2 L435.2,169.7 L435.6,168.2 L436.2,166.5 L436.8,164.8 L437.4,163.0 L438.2,161.1 L439.0,159.0 L439.9,156.9 L441.0,154.7 L442.1,152.3 L443.4,149.8 L443.4,149.8 L445.4,146.3 L447.3,143.0 L449.3,140.0 L451.3,137.1 L453.2,134.4 L455.2,131.9 L457.2,129.5 L459.1,127.1 L461.1,124.9 L463.1,122.8 L465.0,120.8 L467.0,118.8 L469.0,116.9 L470.9,115.1 L472.9,113.3 L474.9,111.6 L476.8,110.0 L478.8,108.4 L480.8,106.8 L482.7,105.3 L484.7,103.8 L486.7,102.4 L488.6,101.0 L490.6,99.6 L492.5,98.3 L494.5,97.0 L496.5,95.8 L498.4,94.5 L500.4,93.3 L502.4,92.2 L504.3,91.0 L506.3,89.9 L508.3,88.8 L510.2,87.7 L512.2,86.6 L514.2,85.6 L516.1,84.6 L518.1,83.6 L520.1,82.6 L522.0,81.7 L524.0,80.7 L526.0,79.8 L527.9,78.9 L529.9,78.0 L531.9,77.2 L533.8,76.3 L535.8,75.5 L537.8,74.7 L539.7,73.9 L541.7,73.1 L543.6,72.3 L545.6,71.5 L547.6,70.8 L549.5,70.1 L551.5,69.3 L553.5,68.6 L555.4,67.9 L557.4,67.2 L559.4,66.6 L561.3,65.9 L563.3,65.2 L565.3,64.6 L567.2,64.0 L569.2,63.4 L571.2,62.7 L573.1,62.2 L575.1,61.6 L577.1,61.0 L579.0,60.4 L581.0,59.9 L583.0,59.3 L584.9,58.8 L586.9,58.2 L588.9,57.7 L590.8,57.2 L592.8,56.7 L594.8,56.2 L596.7,55.7 L598.7,55.2 L600.6,54.8 L602.6,54.3 L604.6,53.9 L606.5,53.4 L608.5,53.0 L610.5,52.5 L612.4,52.1 L614.4,51.7 L616.4,51.3 L618.3,50.9 L620.3,50.5 L622.3,50.1 L624.2,49.8 L626.2,49.4 L628.2,49.0 L630.1,48.7 L632.1,48.3 L634.1,48.0 L636.0,47.7 L638.0,47.3 L640.0,47.0 L641.9,46.7 L643.9,46.4 L645.9,46.1 L647.8,45.8 L649.8,45.6 L651.7,45.3 L653.7,45.0 L655.7,44.8 L657.6,44.5 L659.6,44.3 L661.6,44.0 L663.5,43.8 L665.5,43.6 L667.5,43.4 L669.4,43.2 L671.4,43.0 L673.4,42.9 L675.3,42.7 L677.3,42.6 L677.3,42.6" fill="none" stroke="#d43535" stroke-width="1.6"/>
<line x1="431.1" y1="194.1" x2="677.3" y2="42.6" stroke="#808080" stroke-width="1.3" stroke-dasharray="4.2,2.6"/>
<rect x="431.1" y="35.3" width="246.2" height="159.1" fill="none" stroke="#444" stroke-width="1"/>
<line x1="426.8" y1="194.1" x2="431.1" y2="194.1" stroke="#444" stroke-width="0.9"/>
<line x1="431.1" y1="194.4" x2="431.1" y2="198.7" stroke="#444" stroke-width="0.9"/>
<g font-size="10.4" text-anchor="middle" fill="#2a2a2a" stroke="#2a2a2a" stroke-width="0.08" font-family="Liberation Sans"><text transform="scale(0.80,1)" x="513.28 525.66" y="197.70">00</text><text transform="scale(0.88,1)" x="471.01" y="197.70">.</text></g>
<g font-size="10.4" text-anchor="middle" fill="#2a2a2a" stroke="#2a2a2a" stroke-width="0.08" font-family="Liberation Sans"><text transform="scale(0.84,1)" x="507.02 519.40" y="209.00">00</text><text transform="scale(0.88,1)" x="488.59" y="209.00">.</text></g>
<line x1="426.8" y1="163.8" x2="431.1" y2="163.8" stroke="#444" stroke-width="0.9"/>
<line x1="480.3" y1="194.4" x2="480.3" y2="198.7" stroke="#444" stroke-width="0.9"/>
<g font-size="10.4" text-anchor="middle" fill="#2a2a2a" stroke="#2a2a2a" stroke-width="0.08" font-family="Liberation Sans"><text transform="scale(0.80,1)" x="513.28 525.66" y="167.40">02</text><text transform="scale(0.88,1)" x="471.01" y="167.40">.</text></g>
<g font-size="10.4" text-anchor="middle" fill="#2a2a2a" stroke="#2a2a2a" stroke-width="0.08" font-family="Liberation Sans"><text transform="scale(0.84,1)" x="565.64 578.02" y="209.00">02</text><text transform="scale(0.88,1)" x="544.54" y="209.00">.</text></g>
<line x1="426.8" y1="133.5" x2="431.1" y2="133.5" stroke="#444" stroke-width="0.9"/>
<line x1="529.6" y1="194.4" x2="529.6" y2="198.7" stroke="#444" stroke-width="0.9"/>
<g font-size="10.4" text-anchor="middle" fill="#2a2a2a" stroke="#2a2a2a" stroke-width="0.08" font-family="Liberation Sans"><text transform="scale(0.80,1)" x="513.28 525.66" y="137.10">04</text><text transform="scale(0.88,1)" x="471.01" y="137.10">.</text></g>
<g font-size="10.4" text-anchor="middle" fill="#2a2a2a" stroke="#2a2a2a" stroke-width="0.08" font-family="Liberation Sans"><text transform="scale(0.84,1)" x="624.26 636.64" y="209.00">04</text><text transform="scale(0.88,1)" x="600.50" y="209.00">.</text></g>
<line x1="426.8" y1="103.2" x2="431.1" y2="103.2" stroke="#444" stroke-width="0.9"/>
<line x1="578.8" y1="194.4" x2="578.8" y2="198.7" stroke="#444" stroke-width="0.9"/>
<g font-size="10.4" text-anchor="middle" fill="#2a2a2a" stroke="#2a2a2a" stroke-width="0.08" font-family="Liberation Sans"><text transform="scale(0.80,1)" x="513.28 525.66" y="106.80">06</text><text transform="scale(0.88,1)" x="471.01" y="106.80">.</text></g>
<g font-size="10.4" text-anchor="middle" fill="#2a2a2a" stroke="#2a2a2a" stroke-width="0.08" font-family="Liberation Sans"><text transform="scale(0.84,1)" x="682.88 695.26" y="209.00">06</text><text transform="scale(0.88,1)" x="656.45" y="209.00">.</text></g>
<line x1="426.8" y1="72.9" x2="431.1" y2="72.9" stroke="#444" stroke-width="0.9"/>
<line x1="628.1" y1="194.4" x2="628.1" y2="198.7" stroke="#444" stroke-width="0.9"/>
<g font-size="10.4" text-anchor="middle" fill="#2a2a2a" stroke="#2a2a2a" stroke-width="0.08" font-family="Liberation Sans"><text transform="scale(0.80,1)" x="513.28 525.66" y="76.50">08</text><text transform="scale(0.88,1)" x="471.01" y="76.50">.</text></g>
<g font-size="10.4" text-anchor="middle" fill="#2a2a2a" stroke="#2a2a2a" stroke-width="0.08" font-family="Liberation Sans"><text transform="scale(0.84,1)" x="741.50 753.88" y="209.00">08</text><text transform="scale(0.88,1)" x="712.40" y="209.00">.</text></g>
<line x1="426.8" y1="42.6" x2="431.1" y2="42.6" stroke="#444" stroke-width="0.9"/>
<line x1="677.3" y1="194.4" x2="677.3" y2="198.7" stroke="#444" stroke-width="0.9"/>
<g font-size="10.4" text-anchor="middle" fill="#2a2a2a" stroke="#2a2a2a" stroke-width="0.08" font-family="Liberation Sans"><text transform="scale(0.80,1)" x="513.28 525.66" y="46.20">10</text><text transform="scale(0.88,1)" x="471.01" y="46.20">.</text></g>
<g font-size="10.4" text-anchor="middle" fill="#2a2a2a" stroke="#2a2a2a" stroke-width="0.08" font-family="Liberation Sans"><text transform="scale(0.84,1)" x="800.12 812.50" y="209.00">10</text><text transform="scale(0.88,1)" x="768.36" y="209.00">.</text></g>
<g font-size="11.0" text-anchor="middle" fill="#222" stroke="#222" stroke-width="0.08" font-family="Liberation Sans"><text transform="scale(0.88,1)" x="588.51 595.29 608.85 615.64 622.42 629.20 635.99 642.77 649.55 656.34 663.12 669.90" y="221.00">1–pecificity</text><text transform="scale(0.76,1)" x="697.14" y="221.00">S</text></g>
<g font-size="11.0" text-anchor="middle" fill="#222" stroke="#222" stroke-width="0.08" font-family="Liberation Sans" transform="translate(400.90,115.20) rotate(-90)"><text transform="scale(0.80,1)" x="-37.78" y="0.00">S</text><text transform="scale(0.88,1)" x="-27.48 -20.61 -13.74 -6.87 0.00 6.87 13.74 20.61 27.48 34.35" y="0.00">ensitivity</text></g>
<g font-size="11.0" text-anchor="middle" fill="#222" stroke="#222" stroke-width="0.08" font-family="Liberation Sans"><text transform="scale(0.72,1)" x="683.30 700.11 826.20 843.02" y="30.20">RC%C</text><text transform="scale(0.68,1)" x="732.39" y="30.20">O</text><text transform="scale(0.88,1)" x="586.57 593.45 600.33 607.21 614.09 627.84 634.72 641.60 648.47 662.23 669.11 696.62" y="30.20">curvewith95I</text></g>
<rect x="495.4" y="156.1" width="175.8" height="32.1" rx="2" fill="#fff" fill-opacity="0.85" stroke="#d5d5d5" stroke-width="0.9"/>
<line x1="498" y1="164.5" x2="520.3" y2="164.5" stroke="#2f72b2" stroke-width="1.6"/>
<line x1="498" y1="179.1" x2="520.3" y2="179.1" stroke="#d43535" stroke-width="1.6"/>
<g font-size="10.0" text-anchor="middle" fill="#222" stroke="#222" stroke-width="0.08" font-family="Liberation Sans"><text transform="scale(0.80,1)" x="663.53" y="168.40">T</text><text transform="scale(0.88,1)" x="609.16 615.12 621.08 627.03 650.86 655.51 662.78 668.73 674.69 681.36 686.61 691.25 698.52 704.48 710.43 716.39 722.35 727.00 734.26 740.22 746.18 751.42" y="168.40">rain0.785(0.783–0.788)</text><text transform="scale(0.84,1)" x="669.38" y="168.40">=</text></g>
<g font-size="10.0" text-anchor="middle" fill="#222" stroke="#222" stroke-width="0.08" font-family="Liberation Sans"><text transform="scale(0.80,1)" x="663.51" y="183.00">T</text><text transform="scale(0.88,1)" x="609.13 615.06 620.99 644.72 649.34 656.58 662.51 668.44 675.09 680.31 684.93 692.17 698.10 704.03 709.97 715.90 720.52 727.76 733.69 739.62 744.85" y="183.00">est0.757(0.753–0.761)</text><text transform="scale(0.84,1)" x="662.99" y="183.00">=</text></g>
<line x1="437.6" y1="242.4" x2="437.6" y2="432.6" stroke="#dcdcdc" stroke-width="0.8"/>
<line x1="467.0" y1="242.4" x2="467.0" y2="432.6" stroke="#dcdcdc" stroke-width="0.8"/>
<line x1="496.4" y1="242.4" x2="496.4" y2="432.6" stroke="#dcdcdc" stroke-width="0.8"/>
<line x1="525.8" y1="242.4" x2="525.8" y2="432.6" stroke="#dcdcdc" stroke-width="0.8"/>
<line x1="555.2" y1="242.4" x2="555.2" y2="432.6" stroke="#dcdcdc" stroke-width="0.8"/>
<line x1="584.6" y1="242.4" x2="584.6" y2="432.6" stroke="#dcdcdc" stroke-width="0.8"/>
<line x1="614.0" y1="242.4" x2="614.0" y2="432.6" stroke="#dcdcdc" stroke-width="0.8"/>
<line x1="643.4" y1="242.4" x2="643.4" y2="432.6" stroke="#dcdcdc" stroke-width="0.8"/>
<line x1="672.8" y1="242.4" x2="672.8" y2="432.6" stroke="#dcdcdc" stroke-width="0.8"/>
<line x1="416.5" y1="426.9" x2="676.5" y2="426.9" stroke="#dcdcdc" stroke-width="0.8"/>
<line x1="416.5" y1="402.7" x2="676.5" y2="402.7" stroke="#dcdcdc" stroke-width="0.8"/>
<line x1="416.5" y1="378.6" x2="676.5" y2="378.6" stroke="#dcdcdc" stroke-width="0.8"/>
<line x1="416.5" y1="354.4" x2="676.5" y2="354.4" stroke="#dcdcdc" stroke-width="0.8"/>
<line x1="416.5" y1="330.2" x2="676.5" y2="330.2" stroke="#dcdcdc" stroke-width="0.8"/>
<line x1="416.5" y1="306.1" x2="676.5" y2="306.1" stroke="#dcdcdc" stroke-width="0.8"/>
<line x1="416.5" y1="281.9" x2="676.5" y2="281.9" stroke="#dcdcdc" stroke-width="0.8"/>
<line x1="416.5" y1="257.8" x2="676.5" y2="257.8" stroke="#dcdcdc" stroke-width="0.8"/>
<path d="M549.0,343.8 L565.9,311.4 L558.4,309.9 L558.4,309.9 L558.3,309.8 L558.3,309.8 L558.2,309.8 L558.2,309.8 L558.2,309.7 L557.4,309.1 L557.4,309.0 L557.4,309.0 L557.3,309.0 L557.3,308.9 L553.5,301.5 L545.6,298.0 L525.7,299.8 L514.9,302.0 L514.8,302.0 L503.8,303.1 L478.3,309.5 L470.0,317.3 L514.0,353.6 L549.0,343.8Z" fill="#1f5a26"/><path d="M549.0,343.8 L566.0,392.4 L567.1,391.2 L567.2,391.2 L567.2,391.1 L567.2,391.1 L567.3,391.1 L567.3,391.1 L567.4,391.1 L567.4,391.1 L578.5,390.0 L600.1,385.8 L610.7,381.5 L621.0,375.2 L627.2,365.2 L628.2,355.2 L622.9,340.9 L616.5,330.6 L610.3,322.3 L600.1,318.2 L565.9,311.4 L549.0,343.8Z" fill="#7a1212"/><path d="M514.0,353.6 L470.0,317.3 L470.0,317.3 L461.3,328.7 L461.3,328.8 L461.2,328.8 L452.8,336.1 L450.8,346.2 L455.2,376.5 L457.3,387.0 L461.2,394.9 L471.3,398.9 L481.9,401.0 L492.4,401.0 L502.9,398.9 L505.4,397.9 L514.0,353.6Z" fill="#1c2a6a"/><path d="M514.0,353.6 L505.4,397.9 L507.6,397.0 L507.6,397.0 L507.7,397.0 L507.7,397.0 L507.8,397.0 L507.8,397.0 L507.9,397.0 L514.6,398.7 L536.2,394.5 L536.3,394.5 L546.0,394.0 L546.1,394.0 L546.1,394.0 L562.7,395.9 L566.0,392.4 L549.0,343.8 L514.0,353.6Z" fill="#7a5416"/><g fill="#2f8e3f" stroke="#1c1c1c" stroke-width="0.6"><circle cx="561.0" cy="295.9" r="1.85"/><circle cx="549.6" cy="335.9" r="1.85"/><circle cx="504.4" cy="293.3" r="1.85"/><circle cx="552.2" cy="300.1" r="1.85"/><circle cx="524.4" cy="302.3" r="1.85"/><circle cx="498.8" cy="302.3" r="1.85"/><circle cx="538.0" cy="302.4" r="1.85"/><circle cx="498.1" cy="282.1" r="1.85"/><circle cx="561.4" cy="292.3" r="1.85"/><circle cx="553.9" cy="301.1" r="1.85"/><circle cx="508.6" cy="308.9" r="1.85"/><circle cx="518.8" cy="311.4" r="1.85"/><circle cx="494.3" cy="335.2" r="1.85"/><circle cx="558.9" cy="314.5" r="1.85"/><circle cx="518.1" cy="314.0" r="1.85"/><circle cx="539.8" cy="332.6" r="1.85"/><circle cx="525.4" cy="323.9" r="1.85"/><circle cx="526.7" cy="339.1" r="1.85"/><circle cx="516.9" cy="304.7" r="1.85"/><circle cx="514.3" cy="288.3" r="1.85"/><circle cx="479.5" cy="319.5" r="1.85"/><circle cx="537.3" cy="333.0" r="1.85"/><circle cx="548.0" cy="298.2" r="1.85"/><circle cx="500.9" cy="292.3" r="1.85"/><circle cx="548.3" cy="342.2" r="1.85"/><circle cx="514.9" cy="318.1" r="1.85"/><circle cx="517.4" cy="329.7" r="1.85"/><circle cx="490.1" cy="319.4" r="1.85"/><circle cx="536.4" cy="307.0" r="1.85"/><circle cx="519.9" cy="279.4" r="1.85"/><circle cx="452.5" cy="251.2" r="1.85"/><circle cx="514.9" cy="305.2" r="1.85"/><circle cx="515.7" cy="349.7" r="1.85"/><circle cx="544.8" cy="309.2" r="1.85"/><circle cx="513.1" cy="337.4" r="1.85"/><circle cx="547.3" cy="300.4" r="1.85"/><circle cx="546.2" cy="326.1" r="1.85"/><circle cx="528.3" cy="327.5" r="1.85"/><circle cx="517.3" cy="338.1" r="1.85"/><circle cx="516.2" cy="313.7" r="1.85"/><circle cx="521.9" cy="321.6" r="1.85"/><circle cx="556.1" cy="324.1" r="1.85"/><circle cx="532.1" cy="329.1" r="1.85"/><circle cx="505.5" cy="321.6" r="1.85"/><circle cx="492.2" cy="315.9" r="1.85"/><circle cx="526.9" cy="317.7" r="1.85"/><circle cx="532.9" cy="324.2" r="1.85"/><circle cx="499.9" cy="340.3" r="1.85"/><circle cx="492.7" cy="302.2" r="1.85"/><circle cx="496.5" cy="322.1" r="1.85"/><circle cx="553.9" cy="324.5" r="1.85"/><circle cx="554.7" cy="326.7" r="1.85"/><circle cx="532.3" cy="325.6" r="1.85"/><circle cx="490.0" cy="328.9" r="1.85"/><circle cx="531.2" cy="338.0" r="1.85"/><circle cx="534.1" cy="305.0" r="1.85"/><circle cx="484.3" cy="322.2" r="1.85"/><circle cx="509.8" cy="338.4" r="1.85"/><circle cx="540.8" cy="335.6" r="1.85"/><circle cx="541.2" cy="283.0" r="1.85"/><circle cx="487.5" cy="328.0" r="1.85"/><circle cx="528.5" cy="318.6" r="1.85"/><circle cx="482.9" cy="315.3" r="1.85"/><circle cx="526.6" cy="306.7" r="1.85"/><circle cx="491.7" cy="307.1" r="1.85"/><circle cx="518.5" cy="289.4" r="1.85"/><circle cx="517.5" cy="323.4" r="1.85"/><circle cx="563.3" cy="309.9" r="1.85"/><circle cx="539.6" cy="304.7" r="1.85"/><circle cx="552.0" cy="317.1" r="1.85"/><circle cx="480.0" cy="315.7" r="1.85"/><circle cx="537.6" cy="319.6" r="1.85"/><circle cx="523.8" cy="343.1" r="1.85"/><circle cx="519.1" cy="316.7" r="1.85"/><circle cx="547.6" cy="309.2" r="1.85"/><circle cx="483.5" cy="326.8" r="1.85"/><circle cx="541.6" cy="345.5" r="1.85"/><circle cx="515.5" cy="309.4" r="1.85"/><circle cx="553.4" cy="294.1" r="1.85"/><circle cx="542.9" cy="345.4" r="1.85"/><circle cx="518.9" cy="339.6" r="1.85"/><circle cx="497.5" cy="318.5" r="1.85"/><circle cx="531.7" cy="314.6" r="1.85"/><circle cx="502.2" cy="334.0" r="1.85"/><circle cx="513.4" cy="350.5" r="1.85"/><circle cx="501.0" cy="338.6" r="1.85"/><circle cx="538.5" cy="321.5" r="1.85"/><circle cx="518.1" cy="310.6" r="1.85"/><circle cx="555.7" cy="292.5" r="1.85"/><circle cx="512.2" cy="332.1" r="1.85"/><circle cx="480.7" cy="320.6" r="1.85"/><circle cx="522.8" cy="347.0" r="1.85"/><circle cx="470.9" cy="317.9" r="1.85"/><circle cx="496.8" cy="300.0" r="1.85"/><circle cx="526.4" cy="302.2" r="1.85"/><circle cx="540.7" cy="307.3" r="1.85"/><circle cx="517.8" cy="300.3" r="1.85"/><circle cx="489.1" cy="317.6" r="1.85"/><circle cx="538.3" cy="345.6" r="1.85"/><circle cx="518.0" cy="347.6" r="1.85"/><circle cx="509.9" cy="327.5" r="1.85"/><circle cx="517.4" cy="344.1" r="1.85"/><circle cx="559.1" cy="317.6" r="1.85"/><circle cx="541.0" cy="316.3" r="1.85"/><circle cx="521.3" cy="316.2" r="1.85"/><circle cx="499.1" cy="321.2" r="1.85"/><circle cx="551.7" cy="328.8" r="1.85"/><circle cx="526.9" cy="321.8" r="1.85"/><circle cx="509.6" cy="314.7" r="1.85"/><circle cx="545.2" cy="303.7" r="1.85"/><circle cx="551.9" cy="321.6" r="1.85"/><circle cx="551.5" cy="295.3" r="1.85"/><circle cx="546.6" cy="297.4" r="1.85"/><circle cx="518.2" cy="307.6" r="1.85"/><circle cx="494.2" cy="306.8" r="1.85"/><circle cx="552.8" cy="328.7" r="1.85"/><circle cx="494.3" cy="331.5" r="1.85"/><circle cx="522.5" cy="350.1" r="1.85"/><circle cx="523.3" cy="318.1" r="1.85"/><circle cx="517.2" cy="318.2" r="1.85"/><circle cx="507.6" cy="295.1" r="1.85"/><circle cx="539.1" cy="314.7" r="1.85"/><circle cx="543.6" cy="330.1" r="1.85"/><circle cx="532.3" cy="335.8" r="1.85"/><circle cx="551.0" cy="324.7" r="1.85"/><circle cx="514.0" cy="334.1" r="1.85"/><circle cx="529.8" cy="339.9" r="1.85"/><circle cx="496.9" cy="335.9" r="1.85"/><circle cx="487.2" cy="314.7" r="1.85"/><circle cx="529.6" cy="302.8" r="1.85"/><circle cx="495.1" cy="333.2" r="1.85"/><circle cx="518.4" cy="262.8" r="1.85"/><circle cx="559.5" cy="300.0" r="1.85"/><circle cx="531.3" cy="315.8" r="1.85"/><circle cx="536.9" cy="304.1" r="1.85"/><circle cx="505.6" cy="340.2" r="1.85"/><circle cx="528.6" cy="324.3" r="1.85"/><circle cx="517.0" cy="298.8" r="1.85"/><circle cx="538.2" cy="329.6" r="1.85"/><circle cx="547.6" cy="328.9" r="1.85"/><circle cx="500.2" cy="303.4" r="1.85"/><circle cx="531.7" cy="297.8" r="1.85"/><circle cx="533.0" cy="318.0" r="1.85"/><circle cx="490.0" cy="326.5" r="1.85"/><circle cx="547.3" cy="324.6" r="1.85"/><circle cx="520.3" cy="309.2" r="1.85"/><circle cx="487.8" cy="309.0" r="1.85"/><circle cx="510.3" cy="347.1" r="1.85"/><circle cx="544.1" cy="303.4" r="1.85"/><circle cx="536.0" cy="289.3" r="1.85"/><circle cx="488.2" cy="331.4" r="1.85"/><circle cx="507.5" cy="338.0" r="1.85"/><circle cx="527.5" cy="331.2" r="1.85"/><circle cx="546.8" cy="287.6" r="1.85"/><circle cx="526.4" cy="339.9" r="1.85"/><circle cx="522.4" cy="284.1" r="1.85"/><circle cx="519.2" cy="349.2" r="1.85"/><circle cx="553.8" cy="319.1" r="1.85"/><circle cx="543.4" cy="277.0" r="1.85"/><circle cx="488.2" cy="318.9" r="1.85"/><circle cx="556.7" cy="319.5" r="1.85"/><circle cx="552.9" cy="335.9" r="1.85"/><circle cx="481.6" cy="303.8" r="1.85"/><circle cx="545.8" cy="338.0" r="1.85"/><circle cx="529.5" cy="325.5" r="1.85"/><circle cx="499.8" cy="315.7" r="1.85"/><circle cx="480.8" cy="311.9" r="1.85"/><circle cx="516.1" cy="293.0" r="1.85"/><circle cx="561.6" cy="304.5" r="1.85"/><circle cx="522.0" cy="292.7" r="1.85"/><circle cx="487.9" cy="321.8" r="1.85"/><circle cx="506.7" cy="304.4" r="1.85"/><circle cx="491.4" cy="326.5" r="1.85"/><circle cx="522.3" cy="311.2" r="1.85"/><circle cx="509.5" cy="334.7" r="1.85"/><circle cx="525.0" cy="316.8" r="1.85"/><circle cx="476.4" cy="309.7" r="1.85"/><circle cx="542.7" cy="337.9" r="1.85"/><circle cx="548.7" cy="311.4" r="1.85"/><circle cx="522.8" cy="268.9" r="1.85"/><circle cx="540.7" cy="340.4" r="1.85"/><circle cx="527.9" cy="297.2" r="1.85"/><circle cx="551.0" cy="296.4" r="1.85"/><circle cx="505.3" cy="311.4" r="1.85"/><circle cx="531.3" cy="319.1" r="1.85"/><circle cx="534.4" cy="337.4" r="1.85"/><circle cx="557.0" cy="328.2" r="1.85"/><circle cx="512.9" cy="314.5" r="1.85"/><circle cx="553.6" cy="310.0" r="1.85"/><circle cx="523.6" cy="323.4" r="1.85"/><circle cx="544.1" cy="321.7" r="1.85"/><circle cx="497.6" cy="297.8" r="1.85"/><circle cx="555.0" cy="291.8" r="1.85"/><circle cx="528.4" cy="294.8" r="1.85"/><circle cx="473.4" cy="308.8" r="1.85"/><circle cx="505.9" cy="330.6" r="1.85"/><circle cx="500.9" cy="314.2" r="1.85"/><circle cx="539.4" cy="342.5" r="1.85"/><circle cx="543.8" cy="311.3" r="1.85"/><circle cx="490.1" cy="309.5" r="1.85"/><circle cx="540.4" cy="282.2" r="1.85"/><circle cx="513.4" cy="279.2" r="1.85"/><circle cx="557.4" cy="321.8" r="1.85"/><circle cx="534.7" cy="288.7" r="1.85"/><circle cx="497.4" cy="306.1" r="1.85"/><circle cx="512.9" cy="320.6" r="1.85"/><circle cx="506.8" cy="322.7" r="1.85"/><circle cx="546.4" cy="302.2" r="1.85"/><circle cx="539.5" cy="337.4" r="1.85"/><circle cx="519.2" cy="345.2" r="1.85"/><circle cx="506.6" cy="309.8" r="1.85"/><circle cx="545.0" cy="323.6" r="1.85"/><circle cx="510.2" cy="326.5" r="1.85"/><circle cx="551.4" cy="301.7" r="1.85"/><circle cx="552.6" cy="325.6" r="1.85"/><circle cx="549.4" cy="340.6" r="1.85"/><circle cx="496.3" cy="312.7" r="1.85"/><circle cx="532.2" cy="345.4" r="1.85"/><circle cx="498.7" cy="323.8" r="1.85"/><circle cx="521.7" cy="305.7" r="1.85"/><circle cx="504.4" cy="325.9" r="1.85"/><circle cx="484.1" cy="322.3" r="1.85"/><circle cx="557.3" cy="309.4" r="1.85"/><circle cx="480.0" cy="304.5" r="1.85"/><circle cx="507.6" cy="288.1" r="1.85"/><circle cx="537.3" cy="311.6" r="1.85"/><circle cx="518.8" cy="286.8" r="1.85"/><circle cx="528.4" cy="341.8" r="1.85"/><circle cx="494.9" cy="323.3" r="1.85"/><circle cx="529.1" cy="338.7" r="1.85"/><circle cx="512.9" cy="326.0" r="1.85"/><circle cx="501.2" cy="319.4" r="1.85"/><circle cx="547.4" cy="331.0" r="1.85"/><circle cx="484.1" cy="293.0" r="1.85"/><circle cx="528.9" cy="304.5" r="1.85"/><circle cx="546.8" cy="291.1" r="1.85"/><circle cx="521.7" cy="288.5" r="1.85"/><circle cx="508.4" cy="307.3" r="1.85"/><circle cx="504.7" cy="316.4" r="1.85"/><circle cx="476.1" cy="319.1" r="1.85"/><circle cx="507.9" cy="316.7" r="1.85"/><circle cx="508.0" cy="326.2" r="1.85"/><circle cx="513.9" cy="343.4" r="1.85"/><circle cx="534.6" cy="329.1" r="1.85"/><circle cx="530.8" cy="306.8" r="1.85"/><circle cx="520.3" cy="348.2" r="1.85"/><circle cx="520.6" cy="296.8" r="1.85"/><circle cx="523.9" cy="309.7" r="1.85"/><circle cx="538.4" cy="326.3" r="1.85"/><circle cx="503.4" cy="341.5" r="1.85"/><circle cx="511.4" cy="330.8" r="1.85"/><circle cx="517.7" cy="311.3" r="1.85"/><circle cx="549.3" cy="307.5" r="1.85"/><circle cx="554.7" cy="330.8" r="1.85"/><circle cx="563.8" cy="255.5" r="1.85"/><circle cx="494.8" cy="317.2" r="1.85"/><circle cx="509.0" cy="304.5" r="1.85"/><circle cx="543.0" cy="328.1" r="1.85"/><circle cx="548.4" cy="318.8" r="1.85"/><circle cx="534.5" cy="319.6" r="1.85"/><circle cx="562.3" cy="314.0" r="1.85"/><circle cx="509.7" cy="318.8" r="1.85"/><circle cx="549.3" cy="316.1" r="1.85"/><circle cx="573.3" cy="273.0" r="1.85"/><circle cx="546.2" cy="321.7" r="1.85"/><circle cx="530.3" cy="345.6" r="1.85"/><circle cx="469.9" cy="315.3" r="1.85"/><circle cx="511.8" cy="292.4" r="1.85"/><circle cx="543.2" cy="333.9" r="1.85"/><circle cx="524.4" cy="335.8" r="1.85"/><circle cx="520.8" cy="298.3" r="1.85"/><circle cx="488.0" cy="295.6" r="1.85"/><circle cx="509.0" cy="330.8" r="1.85"/><circle cx="524.6" cy="293.9" r="1.85"/><circle cx="497.1" cy="326.0" r="1.85"/><circle cx="538.4" cy="294.9" r="1.85"/><circle cx="548.8" cy="326.3" r="1.85"/><circle cx="481.7" cy="319.5" r="1.85"/><circle cx="528.7" cy="297.9" r="1.85"/><circle cx="524.9" cy="345.4" r="1.85"/><circle cx="513.5" cy="312.4" r="1.85"/><circle cx="520.0" cy="328.1" r="1.85"/><circle cx="502.6" cy="340.3" r="1.85"/><circle cx="544.5" cy="334.9" r="1.85"/><circle cx="516.3" cy="316.2" r="1.85"/><circle cx="536.4" cy="338.1" r="1.85"/><circle cx="478.2" cy="311.8" r="1.85"/><circle cx="503.1" cy="335.3" r="1.85"/><circle cx="532.3" cy="286.4" r="1.85"/><circle cx="500.2" cy="335.8" r="1.85"/><circle cx="541.6" cy="318.9" r="1.85"/><circle cx="529.3" cy="300.3" r="1.85"/><circle cx="541.8" cy="296.4" r="1.85"/><circle cx="546.8" cy="336.0" r="1.85"/><circle cx="507.4" cy="289.8" r="1.85"/><circle cx="555.5" cy="311.5" r="1.85"/><circle cx="542.2" cy="324.1" r="1.85"/><circle cx="535.2" cy="346.8" r="1.85"/><circle cx="504.5" cy="318.9" r="1.85"/><circle cx="542.3" cy="313.7" r="1.85"/><circle cx="529.8" cy="310.7" r="1.85"/><circle cx="518.3" cy="320.4" r="1.85"/><circle cx="536.2" cy="336.0" r="1.85"/><circle cx="480.5" cy="289.7" r="1.85"/><circle cx="524.8" cy="306.2" r="1.85"/><circle cx="536.1" cy="342.0" r="1.85"/><circle cx="535.7" cy="311.7" r="1.85"/><circle cx="520.2" cy="333.4" r="1.85"/><circle cx="490.9" cy="314.0" r="1.85"/><circle cx="541.4" cy="331.2" r="1.85"/><circle cx="521.4" cy="346.0" r="1.85"/><circle cx="544.0" cy="307.1" r="1.85"/><circle cx="505.5" cy="334.8" r="1.85"/><circle cx="499.2" cy="302.2" r="1.85"/><circle cx="534.5" cy="298.1" r="1.85"/><circle cx="555.1" cy="289.2" r="1.85"/><circle cx="511.1" cy="311.4" r="1.85"/><circle cx="520.1" cy="304.1" r="1.85"/><circle cx="522.1" cy="313.7" r="1.85"/><circle cx="494.2" cy="311.9" r="1.85"/><circle cx="536.8" cy="344.9" r="1.85"/><circle cx="481.2" cy="298.5" r="1.85"/><circle cx="551.8" cy="331.3" r="1.85"/><circle cx="526.3" cy="309.2" r="1.85"/><circle cx="505.2" cy="323.3" r="1.85"/><circle cx="499.5" cy="300.4" r="1.85"/><circle cx="510.7" cy="340.3" r="1.85"/><circle cx="501.6" cy="311.7" r="1.85"/><circle cx="511.7" cy="324.0" r="1.85"/><circle cx="555.0" cy="306.9" r="1.85"/><circle cx="558.1" cy="311.5" r="1.85"/><circle cx="526.9" cy="349.6" r="1.85"/><circle cx="507.1" cy="328.1" r="1.85"/><circle cx="523.7" cy="349.9" r="1.85"/><circle cx="559.7" cy="297.3" r="1.85"/><circle cx="505.7" cy="345.5" r="1.85"/><circle cx="523.0" cy="327.9" r="1.85"/><circle cx="553.8" cy="287.1" r="1.85"/><circle cx="497.5" cy="294.1" r="1.85"/><circle cx="561.3" cy="318.7" r="1.85"/><circle cx="531.2" cy="288.3" r="1.85"/><circle cx="497.5" cy="339.7" r="1.85"/><circle cx="496.0" cy="308.9" r="1.85"/><circle cx="508.5" cy="335.7" r="1.85"/><circle cx="484.6" cy="313.5" r="1.85"/><circle cx="478.3" cy="316.4" r="1.85"/><circle cx="544.9" cy="300.7" r="1.85"/><circle cx="510.7" cy="292.4" r="1.85"/><circle cx="536.5" cy="328.4" r="1.85"/><circle cx="503.5" cy="309.2" r="1.85"/><circle cx="537.2" cy="287.6" r="1.85"/><circle cx="550.9" cy="288.7" r="1.85"/><circle cx="493.9" cy="333.6" r="1.85"/><circle cx="505.0" cy="306.9" r="1.85"/><circle cx="497.2" cy="328.4" r="1.85"/><circle cx="495.4" cy="318.8" r="1.85"/><circle cx="549.7" cy="304.6" r="1.85"/><circle cx="494.6" cy="325.6" r="1.85"/><circle cx="534.2" cy="314.8" r="1.85"/><circle cx="481.0" cy="325.8" r="1.85"/><circle cx="533.0" cy="308.0" r="1.85"/><circle cx="503.4" cy="338.8" r="1.85"/><circle cx="521.5" cy="335.7" r="1.85"/><circle cx="520.7" cy="342.7" r="1.85"/><circle cx="510.9" cy="320.9" r="1.85"/><circle cx="540.1" cy="309.2" r="1.85"/><circle cx="544.5" cy="274.6" r="1.85"/><circle cx="529.1" cy="314.2" r="1.85"/><circle cx="504.1" cy="288.1" r="1.85"/><circle cx="490.8" cy="298.3" r="1.85"/><circle cx="549.9" cy="331.6" r="1.85"/><circle cx="515.4" cy="328.0" r="1.85"/><circle cx="529.8" cy="310.4" r="1.85"/><circle cx="533.2" cy="331.0" r="1.85"/><circle cx="540.3" cy="320.8" r="1.85"/><circle cx="486.9" cy="330.7" r="1.85"/><circle cx="525.7" cy="320.5" r="1.85"/><circle cx="564.3" cy="314.1" r="1.85"/><circle cx="486.1" cy="321.2" r="1.85"/><circle cx="506.6" cy="318.5" r="1.85"/><circle cx="526.6" cy="329.4" r="1.85"/><circle cx="500.3" cy="302.6" r="1.85"/><circle cx="498.7" cy="326.0" r="1.85"/><circle cx="541.5" cy="309.6" r="1.85"/><circle cx="516.5" cy="280.2" r="1.85"/><circle cx="495.0" cy="321.6" r="1.85"/><circle cx="557.8" cy="316.6" r="1.85"/><circle cx="508.1" cy="311.5" r="1.85"/><circle cx="526.6" cy="298.1" r="1.85"/><circle cx="513.3" cy="347.6" r="1.85"/><circle cx="516.2" cy="340.6" r="1.85"/><circle cx="550.6" cy="296.6" r="1.85"/><circle cx="502.7" cy="321.8" r="1.85"/><circle cx="542.5" cy="343.4" r="1.85"/><circle cx="510.6" cy="336.3" r="1.85"/><circle cx="538.1" cy="340.6" r="1.85"/><circle cx="513.0" cy="296.9" r="1.85"/><circle cx="533.1" cy="309.8" r="1.85"/><circle cx="515.6" cy="337.8" r="1.85"/><circle cx="497.5" cy="331.3" r="1.85"/><circle cx="510.9" cy="306.2" r="1.85"/><circle cx="524.7" cy="326.7" r="1.85"/><circle cx="537.5" cy="299.8" r="1.85"/><circle cx="511.5" cy="344.6" r="1.85"/><circle cx="545.3" cy="332.3" r="1.85"/><circle cx="526.1" cy="325.6" r="1.85"/><circle cx="516.2" cy="330.2" r="1.85"/><circle cx="561.1" cy="291.6" r="1.85"/><circle cx="556.8" cy="314.2" r="1.85"/><circle cx="487.2" cy="305.4" r="1.85"/><circle cx="529.5" cy="336.5" r="1.85"/><circle cx="493.1" cy="321.7" r="1.85"/><circle cx="535.0" cy="292.1" r="1.85"/><circle cx="524.3" cy="311.8" r="1.85"/><circle cx="513.9" cy="307.7" r="1.85"/><circle cx="500.1" cy="331.1" r="1.85"/><circle cx="503.6" cy="333.2" r="1.85"/><circle cx="538.0" cy="285.9" r="1.85"/><circle cx="508.5" cy="340.5" r="1.85"/><circle cx="497.8" cy="305.3" r="1.85"/><circle cx="547.1" cy="306.6" r="1.85"/><circle cx="500.0" cy="300.3" r="1.85"/><circle cx="540.4" cy="319.3" r="1.85"/><circle cx="485.5" cy="328.6" r="1.85"/><circle cx="490.2" cy="332.8" r="1.85"/><circle cx="526.4" cy="332.9" r="1.85"/><circle cx="521.9" cy="274.4" r="1.85"/><circle cx="504.0" cy="345.3" r="1.85"/><circle cx="552.9" cy="311.9" r="1.85"/><circle cx="498.4" cy="313.9" r="1.85"/><circle cx="483.6" cy="286.1" r="1.85"/><circle cx="521.7" cy="295.0" r="1.85"/><circle cx="532.0" cy="311.6" r="1.85"/><circle cx="552.4" cy="307.6" r="1.85"/><circle cx="533.5" cy="277.6" r="1.85"/><circle cx="538.9" cy="327.7" r="1.85"/><circle cx="538.2" cy="316.3" r="1.85"/><circle cx="541.5" cy="312.1" r="1.85"/><circle cx="556.4" cy="296.4" r="1.85"/><circle cx="493.9" cy="289.2" r="1.85"/><circle cx="493.2" cy="314.6" r="1.85"/><circle cx="474.7" cy="317.1" r="1.85"/><circle cx="523.8" cy="296.8" r="1.85"/><circle cx="481.1" cy="324.5" r="1.85"/><circle cx="526.3" cy="314.6" r="1.85"/><circle cx="506.5" cy="314.8" r="1.85"/><circle cx="555.0" cy="316.9" r="1.85"/><circle cx="491.7" cy="331.5" r="1.85"/><circle cx="565.0" cy="289.5" r="1.85"/><circle cx="512.5" cy="319.9" r="1.85"/><circle cx="513.3" cy="340.8" r="1.85"/><circle cx="477.1" cy="313.4" r="1.85"/><circle cx="486.4" cy="326.1" r="1.85"/><circle cx="579.8" cy="275.6" r="1.85"/><circle cx="529.3" cy="346.9" r="1.85"/><circle cx="514.8" cy="347.4" r="1.85"/><circle cx="499.9" cy="311.1" r="1.85"/><circle cx="514.9" cy="323.1" r="1.85"/><circle cx="537.1" cy="293.1" r="1.85"/><circle cx="542.8" cy="281.1" r="1.85"/><circle cx="495.3" cy="314.4" r="1.85"/><circle cx="504.0" cy="313.9" r="1.85"/><circle cx="531.8" cy="309.8" r="1.85"/><circle cx="523.0" cy="331.0" r="1.85"/><circle cx="560.3" cy="308.0" r="1.85"/><circle cx="511.6" cy="304.0" r="1.85"/><circle cx="532.4" cy="302.6" r="1.85"/><circle cx="547.4" cy="333.8" r="1.85"/><circle cx="549.6" cy="320.4" r="1.85"/><circle cx="498.2" cy="308.9" r="1.85"/><circle cx="560.8" cy="303.9" r="1.85"/><circle cx="500.1" cy="307.2" r="1.85"/><circle cx="503.7" cy="304.4" r="1.85"/><circle cx="506.7" cy="342.6" r="1.85"/><circle cx="518.6" cy="295.0" r="1.85"/><circle cx="513.2" cy="279.6" r="1.85"/><circle cx="547.4" cy="313.3" r="1.85"/><circle cx="533.9" cy="343.0" r="1.85"/><circle cx="546.9" cy="311.5" r="1.85"/><circle cx="516.1" cy="320.3" r="1.85"/><circle cx="472.9" cy="316.1" r="1.85"/><circle cx="486.8" cy="312.0" r="1.85"/><circle cx="473.6" cy="318.5" r="1.85"/><circle cx="526.8" cy="311.3" r="1.85"/><circle cx="501.8" cy="309.4" r="1.85"/><circle cx="514.6" cy="333.3" r="1.85"/><circle cx="527.5" cy="345.7" r="1.85"/><circle cx="508.9" cy="294.3" r="1.85"/><circle cx="532.2" cy="340.8" r="1.85"/><circle cx="531.0" cy="333.6" r="1.85"/><circle cx="516.3" cy="334.8" r="1.85"/><circle cx="537.8" cy="335.2" r="1.85"/><circle cx="498.8" cy="333.5" r="1.85"/><circle cx="526.4" cy="297.6" r="1.85"/><circle cx="540.0" cy="300.3" r="1.85"/><circle cx="492.2" cy="319.1" r="1.85"/><circle cx="495.9" cy="328.6" r="1.85"/><circle cx="501.9" cy="323.8" r="1.85"/><circle cx="560.3" cy="316.4" r="1.85"/><circle cx="518.8" cy="326.7" r="1.85"/><circle cx="544.2" cy="316.4" r="1.85"/><circle cx="500.4" cy="290.2" r="1.85"/><circle cx="517.7" cy="351.9" r="1.85"/><circle cx="502.4" cy="325.9" r="1.85"/><circle cx="522.3" cy="339.8" r="1.85"/><circle cx="482.2" cy="309.0" r="1.85"/><circle cx="533.4" cy="300.4" r="1.85"/><circle cx="486.5" cy="316.2" r="1.85"/><circle cx="538.2" cy="306.4" r="1.85"/><circle cx="483.7" cy="311.8" r="1.85"/><circle cx="479.0" cy="324.5" r="1.85"/><circle cx="512.8" cy="345.9" r="1.85"/><circle cx="471.6" cy="308.0" r="1.85"/><circle cx="490.8" cy="311.7" r="1.85"/><circle cx="544.7" cy="326.3" r="1.85"/><circle cx="512.4" cy="343.7" r="1.85"/><circle cx="535.4" cy="340.6" r="1.85"/><circle cx="557.3" cy="326.2" r="1.85"/><circle cx="528.0" cy="289.7" r="1.85"/><circle cx="545.4" cy="318.7" r="1.85"/><circle cx="563.5" cy="311.5" r="1.85"/><circle cx="473.2" cy="309.4" r="1.85"/><circle cx="536.0" cy="316.7" r="1.85"/><circle cx="496.7" cy="316.1" r="1.85"/><circle cx="519.8" cy="319.7" r="1.85"/><circle cx="554.1" cy="332.9" r="1.85"/><circle cx="512.1" cy="299.7" r="1.85"/><circle cx="546.4" cy="328.5" r="1.85"/><circle cx="554.1" cy="303.8" r="1.85"/><circle cx="514.2" cy="315.4" r="1.85"/><circle cx="504.6" cy="297.4" r="1.85"/><circle cx="530.0" cy="321.2" r="1.85"/><circle cx="501.6" cy="328.1" r="1.85"/><circle cx="542.9" cy="300.4" r="1.85"/><circle cx="542.9" cy="291.0" r="1.85"/><circle cx="525.6" cy="343.2" r="1.85"/><circle cx="510.5" cy="303.2" r="1.85"/><circle cx="526.4" cy="347.9" r="1.85"/><circle cx="501.4" cy="304.1" r="1.85"/><circle cx="522.3" cy="337.5" r="1.85"/><circle cx="512.6" cy="328.4" r="1.85"/><circle cx="539.4" cy="292.2" r="1.85"/><circle cx="535.7" cy="325.6" r="1.85"/><circle cx="485.3" cy="319.6" r="1.85"/><circle cx="526.3" cy="287.5" r="1.85"/><circle cx="561.2" cy="320.1" r="1.85"/><circle cx="554.5" cy="320.2" r="1.85"/><circle cx="525.1" cy="330.3" r="1.85"/><circle cx="509.2" cy="341.6" r="1.85"/><circle cx="536.4" cy="302.1" r="1.85"/><circle cx="503.4" cy="315.3" r="1.85"/><circle cx="518.7" cy="330.7" r="1.85"/><circle cx="540.7" cy="326.2" r="1.85"/><circle cx="515.3" cy="352.1" r="1.85"/><circle cx="548.0" cy="279.4" r="1.85"/><circle cx="501.0" cy="288.7" r="1.85"/><circle cx="523.1" cy="332.8" r="1.85"/><circle cx="545.4" cy="313.7" r="1.85"/><circle cx="516.9" cy="307.2" r="1.85"/><circle cx="502.7" cy="331.0" r="1.85"/><circle cx="533.8" cy="321.2" r="1.85"/><circle cx="487.6" cy="288.4" r="1.85"/><circle cx="559.2" cy="297.8" r="1.85"/><circle cx="506.4" cy="299.9" r="1.85"/><circle cx="544.9" cy="343.0" r="1.85"/><circle cx="544.5" cy="282.4" r="1.85"/><circle cx="483.8" cy="308.6" r="1.85"/><circle cx="502.7" cy="307.3" r="1.85"/><circle cx="513.4" cy="332.0" r="1.85"/><circle cx="531.8" cy="279.3" r="1.85"/><circle cx="492.2" cy="328.8" r="1.85"/><circle cx="544.1" cy="340.4" r="1.85"/><circle cx="524.8" cy="285.8" r="1.85"/><circle cx="507.7" cy="320.6" r="1.85"/><circle cx="479.9" cy="313.8" r="1.85"/><circle cx="519.7" cy="337.0" r="1.85"/><circle cx="478.7" cy="321.5" r="1.85"/><circle cx="536.5" cy="323.2" r="1.85"/><circle cx="534.2" cy="323.6" r="1.85"/><circle cx="516.3" cy="283.3" r="1.85"/><circle cx="519.0" cy="302.8" r="1.85"/><circle cx="550.2" cy="319.8" r="1.85"/><circle cx="489.6" cy="323.8" r="1.85"/><circle cx="508.8" cy="324.5" r="1.85"/><circle cx="532.6" cy="342.6" r="1.85"/><circle cx="550.7" cy="314.5" r="1.85"/><circle cx="565.0" cy="302.4" r="1.85"/><circle cx="517.0" cy="332.8" r="1.85"/><circle cx="546.3" cy="339.8" r="1.85"/><circle cx="523.7" cy="304.4" r="1.85"/><circle cx="569.5" cy="302.8" r="1.85"/><circle cx="493.3" cy="309.2" r="1.85"/><circle cx="520.3" cy="337.5" r="1.85"/><circle cx="488.9" cy="324.6" r="1.85"/><circle cx="512.0" cy="310.8" r="1.85"/><circle cx="518.8" cy="299.3" r="1.85"/><circle cx="510.6" cy="286.9" r="1.85"/><circle cx="539.1" cy="323.5" r="1.85"/><circle cx="511.0" cy="316.5" r="1.85"/><circle cx="504.0" cy="327.2" r="1.85"/><circle cx="499.6" cy="297.1" r="1.85"/><circle cx="534.9" cy="320.6" r="1.85"/><circle cx="539.5" cy="292.7" r="1.85"/><circle cx="547.8" cy="338.1" r="1.85"/><circle cx="549.4" cy="310.1" r="1.85"/><circle cx="521.6" cy="302.2" r="1.85"/><circle cx="536.8" cy="309.7" r="1.85"/><circle cx="524.9" cy="340.6" r="1.85"/><circle cx="557.3" cy="273.0" r="1.85"/><circle cx="528.4" cy="332.5" r="1.85"/><circle cx="489.0" cy="312.0" r="1.85"/><circle cx="520.2" cy="324.1" r="1.85"/><circle cx="492.8" cy="323.8" r="1.85"/><circle cx="560.2" cy="313.2" r="1.85"/><circle cx="562.4" cy="292.7" r="1.85"/><circle cx="531.1" cy="330.5" r="1.85"/><circle cx="487.1" cy="300.3" r="1.85"/><circle cx="543.0" cy="304.2" r="1.85"/><circle cx="481.3" cy="314.9" r="1.85"/><circle cx="506.0" cy="333.4" r="1.85"/><circle cx="532.0" cy="347.8" r="1.85"/><circle cx="526.3" cy="319.7" r="1.85"/><circle cx="548.3" cy="304.1" r="1.85"/><circle cx="517.1" cy="345.4" r="1.85"/><circle cx="546.3" cy="315.9" r="1.85"/><circle cx="509.1" cy="345.3" r="1.85"/><circle cx="511.3" cy="349.3" r="1.85"/><circle cx="531.7" cy="299.6" r="1.85"/><circle cx="521.5" cy="315.1" r="1.85"/><circle cx="527.7" cy="336.3" r="1.85"/><circle cx="531.0" cy="305.0" r="1.85"/><circle cx="548.7" cy="302.5" r="1.85"/><circle cx="535.7" cy="314.5" r="1.85"/><circle cx="517.1" cy="325.7" r="1.85"/><circle cx="554.0" cy="314.1" r="1.85"/><circle cx="551.6" cy="333.4" r="1.85"/><circle cx="521.6" cy="325.9" r="1.85"/><circle cx="533.3" cy="333.2" r="1.85"/><circle cx="526.8" cy="304.2" r="1.85"/><circle cx="515.4" cy="299.2" r="1.85"/><circle cx="535.0" cy="330.9" r="1.85"/><circle cx="541.1" cy="301.7" r="1.85"/><circle cx="498.6" cy="337.6" r="1.85"/><circle cx="550.6" cy="337.6" r="1.85"/></g><g fill="#e42929" stroke="#1c1c1c" stroke-width="0.6"><circle cx="561.8" cy="327.9" r="1.85"/><circle cx="588.9" cy="336.0" r="1.85"/><circle cx="578.5" cy="322.9" r="1.85"/><circle cx="578.9" cy="335.3" r="1.85"/><circle cx="577.3" cy="388.6" r="1.85"/><circle cx="579.2" cy="315.5" r="1.85"/><circle cx="579.0" cy="389.0" r="1.85"/><circle cx="593.5" cy="340.5" r="1.85"/><circle cx="622.1" cy="357.8" r="1.85"/><circle cx="639.1" cy="357.6" r="1.85"/><circle cx="606.4" cy="350.9" r="1.85"/><circle cx="582.3" cy="326.1" r="1.85"/><circle cx="573.4" cy="373.2" r="1.85"/><circle cx="570.1" cy="367.2" r="1.85"/><circle cx="596.0" cy="321.3" r="1.85"/><circle cx="559.7" cy="361.7" r="1.85"/><circle cx="633.8" cy="370.1" r="1.85"/><circle cx="564.7" cy="324.1" r="1.85"/><circle cx="575.9" cy="337.6" r="1.85"/><circle cx="600.2" cy="375.4" r="1.85"/><circle cx="567.6" cy="342.4" r="1.85"/><circle cx="594.1" cy="373.4" r="1.85"/><circle cx="595.8" cy="313.8" r="1.85"/><circle cx="572.8" cy="333.0" r="1.85"/><circle cx="617.6" cy="326.1" r="1.85"/><circle cx="565.7" cy="344.6" r="1.85"/><circle cx="566.1" cy="363.4" r="1.85"/><circle cx="626.7" cy="325.2" r="1.85"/><circle cx="611.8" cy="345.2" r="1.85"/><circle cx="624.3" cy="369.2" r="1.85"/><circle cx="560.8" cy="374.0" r="1.85"/><circle cx="636.8" cy="370.1" r="1.85"/><circle cx="622.7" cy="321.7" r="1.85"/><circle cx="564.6" cy="356.7" r="1.85"/><circle cx="616.3" cy="376.2" r="1.85"/><circle cx="628.5" cy="379.3" r="1.85"/><circle cx="563.5" cy="316.0" r="1.85"/><circle cx="575.2" cy="326.2" r="1.85"/><circle cx="568.2" cy="383.2" r="1.85"/><circle cx="622.5" cy="347.7" r="1.85"/><circle cx="617.5" cy="358.2" r="1.85"/><circle cx="577.0" cy="355.4" r="1.85"/><circle cx="611.9" cy="383.5" r="1.85"/><circle cx="566.8" cy="387.8" r="1.85"/><circle cx="591.6" cy="319.7" r="1.85"/><circle cx="605.7" cy="351.7" r="1.85"/><circle cx="584.7" cy="395.5" r="1.85"/><circle cx="612.4" cy="330.5" r="1.85"/><circle cx="617.2" cy="350.1" r="1.85"/><circle cx="609.0" cy="342.4" r="1.85"/><circle cx="632.7" cy="384.6" r="1.85"/><circle cx="599.2" cy="335.2" r="1.85"/><circle cx="616.5" cy="388.3" r="1.85"/><circle cx="593.5" cy="353.6" r="1.85"/><circle cx="557.1" cy="344.8" r="1.85"/><circle cx="610.9" cy="386.1" r="1.85"/><circle cx="608.5" cy="323.5" r="1.85"/><circle cx="590.3" cy="326.0" r="1.85"/><circle cx="563.0" cy="330.7" r="1.85"/><circle cx="599.3" cy="378.1" r="1.85"/><circle cx="601.5" cy="369.3" r="1.85"/><circle cx="600.2" cy="317.1" r="1.85"/><circle cx="560.7" cy="366.0" r="1.85"/><circle cx="580.0" cy="373.3" r="1.85"/><circle cx="611.9" cy="354.3" r="1.85"/><circle cx="595.6" cy="306.6" r="1.85"/><circle cx="621.1" cy="373.2" r="1.85"/><circle cx="576.0" cy="371.6" r="1.85"/><circle cx="578.6" cy="347.1" r="1.85"/><circle cx="567.9" cy="318.7" r="1.85"/><circle cx="559.5" cy="366.0" r="1.85"/><circle cx="553.7" cy="352.3" r="1.85"/><circle cx="568.9" cy="354.9" r="1.85"/><circle cx="571.2" cy="388.0" r="1.85"/><circle cx="582.8" cy="347.1" r="1.85"/><circle cx="619.0" cy="343.0" r="1.85"/><circle cx="625.2" cy="361.5" r="1.85"/><circle cx="556.6" cy="338.7" r="1.85"/><circle cx="567.2" cy="313.7" r="1.85"/><circle cx="586.1" cy="319.1" r="1.85"/><circle cx="601.8" cy="344.6" r="1.85"/><circle cx="567.9" cy="370.9" r="1.85"/><circle cx="575.4" cy="312.4" r="1.85"/><circle cx="575.6" cy="314.4" r="1.85"/><circle cx="607.1" cy="330.8" r="1.85"/><circle cx="606.7" cy="359.6" r="1.85"/><circle cx="621.9" cy="372.0" r="1.85"/><circle cx="632.9" cy="343.4" r="1.85"/><circle cx="571.2" cy="368.5" r="1.85"/><circle cx="606.6" cy="316.7" r="1.85"/><circle cx="626.5" cy="378.5" r="1.85"/><circle cx="573.4" cy="366.3" r="1.85"/><circle cx="582.5" cy="364.4" r="1.85"/><circle cx="602.9" cy="346.4" r="1.85"/><circle cx="590.2" cy="371.5" r="1.85"/><circle cx="560.4" cy="354.8" r="1.85"/><circle cx="556.8" cy="355.3" r="1.85"/><circle cx="579.6" cy="369.5" r="1.85"/><circle cx="576.9" cy="304.0" r="1.85"/><circle cx="646.1" cy="350.4" r="1.85"/><circle cx="613.7" cy="399.0" r="1.85"/><circle cx="584.3" cy="335.5" r="1.85"/><circle cx="560.2" cy="360.2" r="1.85"/><circle cx="617.8" cy="328.3" r="1.85"/><circle cx="625.2" cy="357.1" r="1.85"/><circle cx="618.0" cy="373.4" r="1.85"/><circle cx="599.0" cy="374.0" r="1.85"/><circle cx="579.2" cy="378.0" r="1.85"/><circle cx="569.7" cy="362.0" r="1.85"/><circle cx="597.3" cy="341.1" r="1.85"/><circle cx="636.9" cy="332.6" r="1.85"/><circle cx="591.2" cy="327.8" r="1.85"/><circle cx="580.7" cy="311.3" r="1.85"/><circle cx="578.8" cy="328.2" r="1.85"/><circle cx="571.8" cy="349.3" r="1.85"/><circle cx="614.2" cy="342.0" r="1.85"/><circle cx="583.4" cy="361.4" r="1.85"/><circle cx="602.7" cy="382.1" r="1.85"/><circle cx="572.5" cy="342.8" r="1.85"/><circle cx="559.7" cy="325.6" r="1.85"/><circle cx="577.4" cy="369.7" r="1.85"/><circle cx="587.3" cy="335.7" r="1.85"/><circle cx="592.7" cy="370.5" r="1.85"/><circle cx="568.3" cy="330.8" r="1.85"/><circle cx="562.1" cy="342.7" r="1.85"/><circle cx="576.4" cy="335.2" r="1.85"/><circle cx="593.6" cy="359.0" r="1.85"/><circle cx="632.4" cy="329.5" r="1.85"/><circle cx="586.7" cy="371.7" r="1.85"/><circle cx="600.1" cy="332.5" r="1.85"/><circle cx="555.1" cy="341.8" r="1.85"/><circle cx="568.6" cy="333.7" r="1.85"/><circle cx="587.5" cy="286.8" r="1.85"/><circle cx="600.3" cy="394.4" r="1.85"/><circle cx="569.2" cy="359.7" r="1.85"/><circle cx="562.0" cy="361.9" r="1.85"/><circle cx="585.2" cy="331.0" r="1.85"/><circle cx="621.9" cy="333.4" r="1.85"/><circle cx="608.2" cy="376.4" r="1.85"/><circle cx="618.7" cy="381.7" r="1.85"/><circle cx="589.4" cy="358.4" r="1.85"/><circle cx="645.9" cy="371.9" r="1.85"/><circle cx="565.6" cy="349.8" r="1.85"/><circle cx="568.4" cy="388.1" r="1.85"/><circle cx="584.8" cy="379.7" r="1.85"/><circle cx="581.6" cy="373.5" r="1.85"/><circle cx="567.7" cy="386.1" r="1.85"/><circle cx="558.6" cy="334.6" r="1.85"/><circle cx="598.8" cy="390.9" r="1.85"/><circle cx="573.1" cy="376.7" r="1.85"/><circle cx="600.6" cy="380.9" r="1.85"/><circle cx="637.0" cy="380.6" r="1.85"/><circle cx="605.4" cy="344.8" r="1.85"/><circle cx="606.5" cy="332.9" r="1.85"/><circle cx="596.1" cy="355.0" r="1.85"/><circle cx="598.6" cy="397.4" r="1.85"/><circle cx="614.5" cy="383.3" r="1.85"/><circle cx="593.1" cy="368.4" r="1.85"/><circle cx="589.7" cy="333.7" r="1.85"/><circle cx="624.3" cy="343.3" r="1.85"/><circle cx="590.8" cy="383.9" r="1.85"/><circle cx="581.8" cy="342.6" r="1.85"/><circle cx="640.5" cy="362.6" r="1.85"/><circle cx="601.8" cy="359.5" r="1.85"/><circle cx="565.6" cy="325.8" r="1.85"/><circle cx="596.9" cy="388.0" r="1.85"/><circle cx="623.3" cy="363.9" r="1.85"/><circle cx="605.0" cy="374.2" r="1.85"/><circle cx="631.1" cy="350.3" r="1.85"/><circle cx="610.1" cy="382.5" r="1.85"/><circle cx="615.4" cy="398.5" r="1.85"/><circle cx="590.0" cy="354.7" r="1.85"/><circle cx="587.2" cy="321.2" r="1.85"/><circle cx="586.7" cy="343.3" r="1.85"/><circle cx="625.2" cy="349.8" r="1.85"/><circle cx="594.5" cy="328.7" r="1.85"/><circle cx="604.1" cy="369.0" r="1.85"/><circle cx="582.5" cy="355.6" r="1.85"/><circle cx="605.8" cy="361.4" r="1.85"/><circle cx="613.8" cy="316.5" r="1.85"/><circle cx="565.2" cy="352.7" r="1.85"/><circle cx="623.4" cy="358.2" r="1.85"/><circle cx="576.4" cy="364.2" r="1.85"/><circle cx="625.5" cy="354.3" r="1.85"/><circle cx="580.8" cy="361.0" r="1.85"/><circle cx="594.2" cy="308.6" r="1.85"/><circle cx="579.9" cy="325.3" r="1.85"/><circle cx="566.1" cy="359.7" r="1.85"/><circle cx="608.2" cy="394.1" r="1.85"/><circle cx="553.2" cy="338.4" r="1.85"/><circle cx="577.2" cy="349.9" r="1.85"/><circle cx="629.8" cy="368.5" r="1.85"/><circle cx="582.3" cy="383.8" r="1.85"/><circle cx="589.0" cy="327.7" r="1.85"/><circle cx="554.6" cy="359.6" r="1.85"/><circle cx="568.2" cy="385.1" r="1.85"/><circle cx="585.5" cy="352.8" r="1.85"/><circle cx="608.8" cy="392.5" r="1.85"/><circle cx="603.8" cy="385.3" r="1.85"/><circle cx="594.7" cy="318.9" r="1.85"/><circle cx="569.6" cy="347.6" r="1.85"/><circle cx="592.4" cy="367.3" r="1.85"/><circle cx="597.7" cy="363.3" r="1.85"/><circle cx="554.7" cy="354.3" r="1.85"/><circle cx="559.7" cy="344.9" r="1.85"/><circle cx="608.2" cy="371.6" r="1.85"/><circle cx="570.6" cy="328.9" r="1.85"/><circle cx="575.3" cy="352.5" r="1.85"/><circle cx="598.8" cy="331.4" r="1.85"/><circle cx="570.0" cy="370.9" r="1.85"/><circle cx="594.2" cy="304.5" r="1.85"/><circle cx="595.5" cy="345.3" r="1.85"/><circle cx="590.2" cy="373.8" r="1.85"/><circle cx="640.7" cy="352.4" r="1.85"/><circle cx="578.1" cy="343.6" r="1.85"/><circle cx="587.1" cy="360.0" r="1.85"/><circle cx="572.3" cy="385.5" r="1.85"/><circle cx="561.0" cy="335.5" r="1.85"/><circle cx="594.7" cy="347.4" r="1.85"/><circle cx="575.4" cy="323.8" r="1.85"/><circle cx="581.4" cy="380.5" r="1.85"/><circle cx="580.5" cy="313.4" r="1.85"/><circle cx="621.7" cy="375.5" r="1.85"/><circle cx="550.8" cy="342.3" r="1.85"/><circle cx="603.6" cy="354.1" r="1.85"/><circle cx="624.5" cy="348.5" r="1.85"/><circle cx="583.4" cy="385.8" r="1.85"/><circle cx="566.0" cy="330.4" r="1.85"/><circle cx="564.2" cy="363.6" r="1.85"/><circle cx="559.0" cy="342.3" r="1.85"/><circle cx="605.8" cy="375.0" r="1.85"/><circle cx="593.6" cy="383.8" r="1.85"/><circle cx="659.0" cy="355.8" r="1.85"/><circle cx="610.8" cy="382.8" r="1.85"/><circle cx="634.1" cy="379.1" r="1.85"/><circle cx="572.9" cy="362.2" r="1.85"/><circle cx="628.5" cy="335.9" r="1.85"/><circle cx="629.1" cy="374.7" r="1.85"/><circle cx="576.6" cy="345.5" r="1.85"/><circle cx="609.6" cy="330.5" r="1.85"/><circle cx="611.6" cy="347.3" r="1.85"/><circle cx="597.8" cy="319.4" r="1.85"/><circle cx="570.5" cy="314.0" r="1.85"/><circle cx="573.6" cy="357.1" r="1.85"/><circle cx="620.4" cy="319.6" r="1.85"/><circle cx="610.0" cy="349.1" r="1.85"/><circle cx="619.6" cy="361.1" r="1.85"/><circle cx="564.8" cy="335.4" r="1.85"/><circle cx="607.1" cy="355.2" r="1.85"/><circle cx="625.0" cy="303.5" r="1.85"/><circle cx="593.1" cy="345.7" r="1.85"/><circle cx="569.5" cy="399.5" r="1.85"/><circle cx="593.2" cy="326.3" r="1.85"/><circle cx="596.0" cy="368.2" r="1.85"/><circle cx="633.5" cy="360.9" r="1.85"/><circle cx="598.9" cy="354.2" r="1.85"/><circle cx="600.7" cy="343.2" r="1.85"/><circle cx="620.5" cy="339.9" r="1.85"/><circle cx="635.5" cy="359.2" r="1.85"/><circle cx="582.1" cy="324.4" r="1.85"/><circle cx="588.3" cy="325.9" r="1.85"/><circle cx="599.9" cy="322.1" r="1.85"/><circle cx="624.5" cy="338.3" r="1.85"/><circle cx="554.0" cy="343.0" r="1.85"/><circle cx="567.5" cy="347.5" r="1.85"/><circle cx="643.0" cy="339.6" r="1.85"/><circle cx="566.3" cy="378.1" r="1.85"/><circle cx="603.3" cy="328.4" r="1.85"/><circle cx="619.3" cy="347.4" r="1.85"/><circle cx="556.5" cy="352.6" r="1.85"/><circle cx="620.3" cy="366.0" r="1.85"/><circle cx="563.8" cy="332.5" r="1.85"/><circle cx="568.2" cy="335.9" r="1.85"/><circle cx="572.2" cy="347.5" r="1.85"/><circle cx="585.8" cy="390.7" r="1.85"/><circle cx="648.9" cy="368.8" r="1.85"/><circle cx="552.5" cy="346.9" r="1.85"/><circle cx="617.2" cy="347.7" r="1.85"/><circle cx="585.0" cy="302.5" r="1.85"/><circle cx="611.8" cy="361.1" r="1.85"/><circle cx="585.9" cy="357.0" r="1.85"/><circle cx="615.8" cy="392.1" r="1.85"/><circle cx="642.1" cy="371.5" r="1.85"/><circle cx="564.1" cy="383.8" r="1.85"/><circle cx="617.9" cy="359.9" r="1.85"/><circle cx="562.6" cy="368.8" r="1.85"/><circle cx="586.7" cy="352.0" r="1.85"/><circle cx="592.4" cy="325.4" r="1.85"/><circle cx="610.8" cy="318.8" r="1.85"/><circle cx="632.5" cy="360.2" r="1.85"/><circle cx="616.9" cy="342.7" r="1.85"/><circle cx="566.3" cy="322.0" r="1.85"/><circle cx="597.3" cy="352.7" r="1.85"/><circle cx="638.0" cy="372.7" r="1.85"/><circle cx="580.1" cy="354.9" r="1.85"/><circle cx="577.7" cy="296.7" r="1.85"/><circle cx="615.3" cy="381.1" r="1.85"/><circle cx="600.8" cy="347.7" r="1.85"/><circle cx="600.3" cy="357.3" r="1.85"/><circle cx="591.3" cy="361.5" r="1.85"/><circle cx="654.2" cy="349.8" r="1.85"/><circle cx="583.3" cy="338.1" r="1.85"/><circle cx="627.7" cy="331.9" r="1.85"/><circle cx="579.3" cy="362.9" r="1.85"/><circle cx="562.4" cy="378.9" r="1.85"/><circle cx="554.0" cy="347.2" r="1.85"/><circle cx="574.7" cy="380.1" r="1.85"/><circle cx="614.4" cy="368.1" r="1.85"/><circle cx="591.5" cy="357.0" r="1.85"/><circle cx="626.3" cy="359.2" r="1.85"/><circle cx="586.0" cy="348.0" r="1.85"/><circle cx="605.8" cy="316.3" r="1.85"/><circle cx="593.4" cy="320.8" r="1.85"/><circle cx="572.3" cy="323.4" r="1.85"/><circle cx="587.8" cy="351.0" r="1.85"/><circle cx="625.7" cy="379.5" r="1.85"/><circle cx="601.9" cy="363.9" r="1.85"/><circle cx="578.8" cy="337.9" r="1.85"/><circle cx="625.8" cy="375.6" r="1.85"/><circle cx="609.6" cy="359.8" r="1.85"/><circle cx="574.0" cy="339.6" r="1.85"/><circle cx="609.3" cy="318.2" r="1.85"/><circle cx="610.2" cy="318.7" r="1.85"/><circle cx="609.5" cy="362.3" r="1.85"/><circle cx="598.1" cy="350.5" r="1.85"/><circle cx="607.4" cy="391.0" r="1.85"/><circle cx="613.7" cy="347.2" r="1.85"/><circle cx="575.7" cy="375.8" r="1.85"/><circle cx="582.5" cy="341.0" r="1.85"/><circle cx="580.4" cy="332.8" r="1.85"/><circle cx="608.0" cy="328.6" r="1.85"/><circle cx="565.3" cy="383.1" r="1.85"/><circle cx="611.3" cy="329.3" r="1.85"/><circle cx="576.6" cy="333.3" r="1.85"/><circle cx="555.3" cy="335.9" r="1.85"/><circle cx="566.6" cy="376.0" r="1.85"/><circle cx="591.2" cy="346.9" r="1.85"/><circle cx="581.1" cy="379.0" r="1.85"/><circle cx="605.2" cy="338.7" r="1.85"/><circle cx="571.6" cy="345.2" r="1.85"/><circle cx="626.5" cy="347.3" r="1.85"/><circle cx="591.7" cy="385.6" r="1.85"/><circle cx="569.3" cy="338.7" r="1.85"/><circle cx="577.8" cy="333.3" r="1.85"/><circle cx="631.9" cy="353.3" r="1.85"/><circle cx="608.5" cy="367.3" r="1.85"/><circle cx="634.9" cy="351.0" r="1.85"/><circle cx="623.3" cy="387.6" r="1.85"/><circle cx="589.1" cy="320.5" r="1.85"/><circle cx="594.8" cy="391.3" r="1.85"/><circle cx="636.5" cy="368.4" r="1.85"/><circle cx="559.6" cy="352.5" r="1.85"/><circle cx="567.8" cy="373.1" r="1.85"/><circle cx="618.5" cy="332.2" r="1.85"/><circle cx="611.0" cy="343.4" r="1.85"/><circle cx="606.0" cy="367.6" r="1.85"/><circle cx="627.7" cy="365.7" r="1.85"/><circle cx="616.7" cy="370.6" r="1.85"/><circle cx="616.8" cy="333.3" r="1.85"/><circle cx="573.2" cy="337.7" r="1.85"/><circle cx="573.7" cy="320.0" r="1.85"/><circle cx="594.8" cy="379.0" r="1.85"/><circle cx="599.9" cy="367.5" r="1.85"/><circle cx="564.2" cy="328.1" r="1.85"/><circle cx="586.2" cy="366.5" r="1.85"/><circle cx="663.2" cy="351.3" r="1.85"/><circle cx="642.4" cy="333.2" r="1.85"/><circle cx="582.1" cy="352.3" r="1.85"/><circle cx="588.8" cy="388.8" r="1.85"/><circle cx="586.7" cy="307.0" r="1.85"/><circle cx="599.3" cy="361.6" r="1.85"/><circle cx="665.3" cy="353.3" r="1.85"/><circle cx="610.7" cy="395.0" r="1.85"/><circle cx="589.2" cy="361.9" r="1.85"/><circle cx="662.5" cy="343.2" r="1.85"/><circle cx="571.6" cy="354.7" r="1.85"/><circle cx="614.8" cy="326.2" r="1.85"/><circle cx="656.5" cy="348.2" r="1.85"/><circle cx="566.6" cy="351.9" r="1.85"/><circle cx="603.4" cy="343.3" r="1.85"/><circle cx="623.8" cy="354.2" r="1.85"/><circle cx="629.0" cy="343.3" r="1.85"/><circle cx="608.6" cy="395.1" r="1.85"/><circle cx="587.0" cy="380.6" r="1.85"/><circle cx="647.9" cy="356.0" r="1.85"/><circle cx="642.4" cy="357.4" r="1.85"/><circle cx="620.9" cy="345.4" r="1.85"/><circle cx="578.0" cy="381.7" r="1.85"/><circle cx="599.2" cy="383.6" r="1.85"/><circle cx="601.0" cy="323.1" r="1.85"/><circle cx="586.3" cy="307.9" r="1.85"/><circle cx="621.2" cy="336.1" r="1.85"/><circle cx="628.8" cy="336.3" r="1.85"/><circle cx="572.3" cy="360.2" r="1.85"/><circle cx="602.6" cy="337.7" r="1.85"/><circle cx="613.2" cy="376.4" r="1.85"/><circle cx="595.2" cy="371.2" r="1.85"/><circle cx="607.5" cy="340.4" r="1.85"/><circle cx="596.2" cy="328.9" r="1.85"/><circle cx="605.6" cy="323.5" r="1.85"/><circle cx="607.7" cy="325.5" r="1.85"/><circle cx="584.1" cy="323.5" r="1.85"/><circle cx="575.1" cy="309.7" r="1.85"/><circle cx="557.5" cy="330.9" r="1.85"/><circle cx="588.6" cy="330.9" r="1.85"/><circle cx="586.5" cy="338.0" r="1.85"/><circle cx="564.0" cy="375.2" r="1.85"/><circle cx="656.3" cy="348.8" r="1.85"/><circle cx="558.9" cy="356.5" r="1.85"/><circle cx="629.8" cy="376.8" r="1.85"/><circle cx="596.6" cy="393.6" r="1.85"/><circle cx="606.3" cy="373.7" r="1.85"/><circle cx="614.8" cy="354.6" r="1.85"/><circle cx="582.3" cy="317.2" r="1.85"/><circle cx="607.8" cy="357.0" r="1.85"/><circle cx="598.5" cy="332.7" r="1.85"/><circle cx="590.7" cy="340.5" r="1.85"/><circle cx="594.5" cy="366.4" r="1.85"/><circle cx="570.9" cy="316.7" r="1.85"/><circle cx="606.6" cy="342.7" r="1.85"/><circle cx="585.6" cy="341.3" r="1.85"/><circle cx="573.7" cy="317.2" r="1.85"/><circle cx="609.1" cy="387.3" r="1.85"/><circle cx="571.4" cy="340.1" r="1.85"/><circle cx="595.4" cy="325.6" r="1.85"/><circle cx="558.1" cy="364.2" r="1.85"/><circle cx="581.2" cy="315.2" r="1.85"/><circle cx="560.3" cy="346.7" r="1.85"/><circle cx="603.0" cy="317.8" r="1.85"/><circle cx="595.3" cy="385.9" r="1.85"/><circle cx="606.3" cy="369.0" r="1.85"/><circle cx="609.9" cy="374.1" r="1.85"/><circle cx="628.0" cy="337.6" r="1.85"/><circle cx="598.5" cy="344.7" r="1.85"/><circle cx="575.9" cy="328.7" r="1.85"/><circle cx="560.7" cy="369.2" r="1.85"/><circle cx="611.1" cy="338.0" r="1.85"/><circle cx="578.5" cy="385.6" r="1.85"/><circle cx="588.4" cy="340.3" r="1.85"/><circle cx="570.0" cy="380.8" r="1.85"/><circle cx="568.3" cy="348.8" r="1.85"/><circle cx="610.8" cy="332.6" r="1.85"/><circle cx="622.5" cy="396.5" r="1.85"/><circle cx="603.4" cy="361.5" r="1.85"/><circle cx="562.6" cy="374.1" r="1.85"/><circle cx="628.1" cy="374.0" r="1.85"/><circle cx="607.2" cy="395.4" r="1.85"/><circle cx="600.4" cy="372.3" r="1.85"/><circle cx="615.9" cy="351.5" r="1.85"/><circle cx="644.7" cy="360.5" r="1.85"/><circle cx="562.3" cy="324.7" r="1.85"/><circle cx="600.1" cy="337.9" r="1.85"/><circle cx="620.9" cy="378.9" r="1.85"/><circle cx="621.0" cy="369.5" r="1.85"/><circle cx="567.6" cy="310.0" r="1.85"/><circle cx="623.7" cy="350.2" r="1.85"/><circle cx="574.0" cy="303.6" r="1.85"/><circle cx="579.5" cy="358.6" r="1.85"/><circle cx="553.5" cy="354.6" r="1.85"/><circle cx="564.5" cy="320.7" r="1.85"/><circle cx="618.4" cy="384.1" r="1.85"/><circle cx="573.1" cy="380.6" r="1.85"/><circle cx="616.8" cy="330.0" r="1.85"/><circle cx="593.7" cy="330.3" r="1.85"/><circle cx="608.6" cy="380.2" r="1.85"/><circle cx="615.7" cy="344.5" r="1.85"/><circle cx="633.3" cy="335.2" r="1.85"/><circle cx="579.6" cy="349.0" r="1.85"/><circle cx="560.4" cy="323.0" r="1.85"/><circle cx="610.5" cy="354.8" r="1.85"/><circle cx="588.2" cy="369.6" r="1.85"/><circle cx="582.5" cy="330.8" r="1.85"/><circle cx="609.4" cy="368.7" r="1.85"/><circle cx="578.8" cy="375.8" r="1.85"/><circle cx="635.8" cy="340.8" r="1.85"/><circle cx="610.2" cy="344.5" r="1.85"/><circle cx="596.8" cy="357.3" r="1.85"/><circle cx="587.0" cy="328.1" r="1.85"/><circle cx="585.9" cy="321.3" r="1.85"/><circle cx="603.9" cy="326.1" r="1.85"/><circle cx="564.2" cy="380.2" r="1.85"/><circle cx="608.3" cy="364.3" r="1.85"/><circle cx="583.9" cy="332.9" r="1.85"/><circle cx="567.4" cy="332.9" r="1.85"/><circle cx="611.9" cy="341.0" r="1.85"/><circle cx="588.5" cy="389.6" r="1.85"/><circle cx="617.7" cy="366.0" r="1.85"/><circle cx="586.8" cy="376.6" r="1.85"/><circle cx="612.8" cy="349.7" r="1.85"/><circle cx="576.7" cy="340.8" r="1.85"/><circle cx="558.5" cy="329.0" r="1.85"/><circle cx="581.0" cy="386.6" r="1.85"/><circle cx="575.6" cy="319.2" r="1.85"/><circle cx="580.2" cy="366.2" r="1.85"/><circle cx="609.2" cy="347.6" r="1.85"/><circle cx="568.3" cy="326.0" r="1.85"/><circle cx="590.0" cy="369.7" r="1.85"/><circle cx="566.6" cy="357.2" r="1.85"/><circle cx="600.8" cy="310.9" r="1.85"/><circle cx="593.4" cy="349.8" r="1.85"/><circle cx="579.5" cy="332.1" r="1.85"/><circle cx="595.3" cy="334.7" r="1.85"/><circle cx="573.0" cy="313.7" r="1.85"/><circle cx="586.4" cy="361.0" r="1.85"/><circle cx="559.4" cy="370.8" r="1.85"/><circle cx="630.3" cy="332.6" r="1.85"/><circle cx="604.1" cy="330.1" r="1.85"/><circle cx="606.3" cy="308.5" r="1.85"/><circle cx="626.1" cy="363.6" r="1.85"/><circle cx="611.3" cy="376.7" r="1.85"/><circle cx="612.4" cy="373.4" r="1.85"/><circle cx="589.1" cy="389.3" r="1.85"/><circle cx="573.8" cy="349.5" r="1.85"/><circle cx="604.8" cy="380.4" r="1.85"/><circle cx="603.0" cy="324.5" r="1.85"/><circle cx="637.6" cy="359.9" r="1.85"/><circle cx="622.3" cy="352.1" r="1.85"/><circle cx="615.1" cy="372.7" r="1.85"/><circle cx="557.1" cy="359.3" r="1.85"/><circle cx="649.0" cy="359.5" r="1.85"/><circle cx="575.4" cy="357.6" r="1.85"/><circle cx="556.2" cy="357.2" r="1.85"/><circle cx="629.5" cy="352.4" r="1.85"/><circle cx="570.6" cy="342.6" r="1.85"/><circle cx="571.3" cy="303.4" r="1.85"/><circle cx="568.2" cy="316.3" r="1.85"/><circle cx="633.3" cy="366.0" r="1.85"/><circle cx="588.1" cy="390.5" r="1.85"/><circle cx="570.5" cy="393.4" r="1.85"/><circle cx="611.0" cy="366.3" r="1.85"/><circle cx="584.9" cy="324.9" r="1.85"/><circle cx="573.8" cy="364.9" r="1.85"/><circle cx="614.2" cy="382.3" r="1.85"/><circle cx="563.6" cy="363.6" r="1.85"/><circle cx="621.5" cy="323.6" r="1.85"/><circle cx="580.7" cy="340.8" r="1.85"/><circle cx="603.4" cy="309.6" r="1.85"/><circle cx="598.0" cy="383.1" r="1.85"/><circle cx="591.7" cy="330.4" r="1.85"/><circle cx="587.4" cy="363.7" r="1.85"/><circle cx="574.6" cy="345.7" r="1.85"/><circle cx="610.7" cy="341.4" r="1.85"/><circle cx="591.8" cy="381.0" r="1.85"/><circle cx="614.6" cy="334.9" r="1.85"/><circle cx="630.0" cy="332.0" r="1.85"/><circle cx="614.0" cy="332.3" r="1.85"/><circle cx="580.7" cy="318.4" r="1.85"/><circle cx="614.6" cy="352.3" r="1.85"/><circle cx="601.5" cy="373.7" r="1.85"/><circle cx="614.5" cy="371.1" r="1.85"/><circle cx="551.9" cy="340.0" r="1.85"/><circle cx="633.4" cy="361.7" r="1.85"/><circle cx="618.6" cy="340.0" r="1.85"/><circle cx="575.1" cy="349.0" r="1.85"/><circle cx="592.1" cy="342.1" r="1.85"/><circle cx="601.6" cy="378.7" r="1.85"/><circle cx="561.5" cy="338.1" r="1.85"/><circle cx="606.9" cy="363.6" r="1.85"/><circle cx="624.6" cy="386.6" r="1.85"/><circle cx="601.6" cy="335.3" r="1.85"/><circle cx="555.2" cy="345.6" r="1.85"/><circle cx="575.5" cy="386.1" r="1.85"/><circle cx="572.8" cy="299.5" r="1.85"/><circle cx="562.9" cy="350.6" r="1.85"/><circle cx="584.6" cy="388.5" r="1.85"/><circle cx="567.2" cy="361.5" r="1.85"/><circle cx="557.1" cy="349.5" r="1.85"/><circle cx="561.9" cy="371.7" r="1.85"/><circle cx="594.6" cy="363.4" r="1.85"/><circle cx="606.7" cy="335.4" r="1.85"/><circle cx="580.1" cy="372.3" r="1.85"/><circle cx="634.3" cy="347.9" r="1.85"/><circle cx="564.0" cy="343.3" r="1.85"/><circle cx="580.5" cy="337.8" r="1.85"/><circle cx="584.1" cy="376.2" r="1.85"/><circle cx="583.6" cy="312.0" r="1.85"/><circle cx="594.8" cy="338.6" r="1.85"/><circle cx="587.3" cy="385.8" r="1.85"/><circle cx="589.4" cy="322.8" r="1.85"/><circle cx="566.6" cy="340.3" r="1.85"/><circle cx="560.9" cy="330.9" r="1.85"/><circle cx="577.6" cy="326.3" r="1.85"/><circle cx="555.6" cy="361.8" r="1.85"/><circle cx="623.2" cy="386.2" r="1.85"/><circle cx="597.4" cy="371.4" r="1.85"/><circle cx="619.7" cy="379.7" r="1.85"/><circle cx="659.9" cy="357.5" r="1.85"/><circle cx="566.6" cy="316.6" r="1.85"/><circle cx="589.0" cy="347.1" r="1.85"/><circle cx="625.3" cy="366.7" r="1.85"/><circle cx="577.0" cy="382.8" r="1.85"/><circle cx="562.2" cy="334.0" r="1.85"/><circle cx="588.4" cy="376.0" r="1.85"/><circle cx="567.6" cy="338.1" r="1.85"/><circle cx="612.1" cy="364.4" r="1.85"/><circle cx="585.2" cy="350.1" r="1.85"/><circle cx="585.4" cy="354.6" r="1.85"/><circle cx="608.4" cy="333.0" r="1.85"/><circle cx="598.5" cy="339.3" r="1.85"/><circle cx="571.0" cy="330.8" r="1.85"/><circle cx="594.4" cy="314.0" r="1.85"/><circle cx="604.1" cy="395.3" r="1.85"/><circle cx="617.9" cy="369.2" r="1.85"/><circle cx="641.3" cy="356.1" r="1.85"/><circle cx="625.1" cy="383.6" r="1.85"/><circle cx="613.7" cy="322.3" r="1.85"/><circle cx="590.6" cy="363.8" r="1.85"/><circle cx="619.9" cy="326.9" r="1.85"/><circle cx="571.8" cy="391.3" r="1.85"/><circle cx="608.4" cy="320.6" r="1.85"/><circle cx="588.0" cy="374.7" r="1.85"/><circle cx="582.7" cy="388.6" r="1.85"/><circle cx="597.7" cy="323.7" r="1.85"/><circle cx="620.2" cy="320.9" r="1.85"/><circle cx="604.8" cy="359.6" r="1.85"/><circle cx="573.0" cy="383.8" r="1.85"/><circle cx="627.6" cy="357.1" r="1.85"/><circle cx="578.4" cy="321.7" r="1.85"/><circle cx="601.9" cy="371.4" r="1.85"/><circle cx="578.7" cy="371.3" r="1.85"/><circle cx="596.7" cy="296.2" r="1.85"/><circle cx="609.4" cy="336.1" r="1.85"/><circle cx="615.3" cy="359.5" r="1.85"/><circle cx="595.6" cy="339.2" r="1.85"/><circle cx="574.9" cy="355.0" r="1.85"/><circle cx="591.3" cy="376.1" r="1.85"/><circle cx="602.3" cy="330.3" r="1.85"/><circle cx="567.8" cy="344.4" r="1.85"/><circle cx="579.5" cy="383.0" r="1.85"/><circle cx="570.2" cy="323.2" r="1.85"/><circle cx="619.2" cy="357.3" r="1.85"/><circle cx="615.6" cy="340.6" r="1.85"/><circle cx="575.0" cy="342.5" r="1.85"/><circle cx="586.4" cy="324.0" r="1.85"/><circle cx="592.7" cy="392.0" r="1.85"/><circle cx="593.8" cy="394.0" r="1.85"/><circle cx="622.0" cy="341.9" r="1.85"/><circle cx="578.2" cy="366.8" r="1.85"/><circle cx="565.3" cy="355.3" r="1.85"/><circle cx="604.8" cy="378.5" r="1.85"/><circle cx="620.8" cy="349.8" r="1.85"/><circle cx="631.9" cy="352.2" r="1.85"/><circle cx="616.6" cy="361.7" r="1.85"/><circle cx="569.2" cy="363.6" r="1.85"/><circle cx="593.7" cy="324.3" r="1.85"/><circle cx="618.0" cy="321.6" r="1.85"/><circle cx="613.9" cy="338.3" r="1.85"/><circle cx="569.3" cy="320.1" r="1.85"/><circle cx="584.6" cy="342.7" r="1.85"/><circle cx="570.1" cy="352.0" r="1.85"/><circle cx="622.3" cy="374.9" r="1.85"/><circle cx="619.0" cy="364.8" r="1.85"/><circle cx="561.8" cy="375.0" r="1.85"/><circle cx="601.6" cy="340.4" r="1.85"/><circle cx="570.7" cy="321.7" r="1.85"/><circle cx="609.5" cy="378.2" r="1.85"/><circle cx="573.7" cy="332.0" r="1.85"/><circle cx="597.1" cy="330.7" r="1.85"/><circle cx="570.5" cy="336.4" r="1.85"/><circle cx="612.7" cy="358.9" r="1.85"/><circle cx="567.0" cy="380.3" r="1.85"/><circle cx="610.7" cy="326.6" r="1.85"/><circle cx="602.8" cy="333.5" r="1.85"/><circle cx="563.9" cy="347.5" r="1.85"/><circle cx="634.8" cy="336.1" r="1.85"/><circle cx="567.4" cy="328.5" r="1.85"/><circle cx="638.1" cy="371.7" r="1.85"/><circle cx="595.5" cy="333.2" r="1.85"/><circle cx="588.1" cy="385.8" r="1.85"/><circle cx="618.3" cy="337.0" r="1.85"/><circle cx="605.9" cy="357.2" r="1.85"/><circle cx="549.6" cy="345.0" r="1.85"/><circle cx="632.1" cy="367.8" r="1.85"/><circle cx="584.7" cy="369.1" r="1.85"/><circle cx="563.3" cy="359.4" r="1.85"/><circle cx="563.5" cy="365.8" r="1.85"/><circle cx="597.7" cy="375.6" r="1.85"/><circle cx="574.9" cy="379.7" r="1.85"/><circle cx="565.8" cy="312.0" r="1.85"/><circle cx="564.9" cy="373.1" r="1.85"/><circle cx="626.9" cy="343.7" r="1.85"/><circle cx="568.1" cy="340.3" r="1.85"/><circle cx="642.1" cy="340.8" r="1.85"/><circle cx="583.6" cy="366.9" r="1.85"/><circle cx="574.0" cy="359.2" r="1.85"/><circle cx="567.1" cy="368.3" r="1.85"/><circle cx="578.7" cy="352.3" r="1.85"/><circle cx="580.4" cy="329.0" r="1.85"/><circle cx="609.0" cy="352.7" r="1.85"/><circle cx="599.0" cy="326.2" r="1.85"/><circle cx="590.9" cy="350.2" r="1.85"/><circle cx="558.0" cy="337.8" r="1.85"/><circle cx="602.9" cy="317.4" r="1.85"/><circle cx="626.7" cy="342.3" r="1.85"/><circle cx="583.0" cy="345.0" r="1.85"/><circle cx="577.3" cy="359.7" r="1.85"/><circle cx="580.6" cy="376.9" r="1.85"/><circle cx="642.2" cy="348.2" r="1.85"/><circle cx="583.6" cy="372.1" r="1.85"/><circle cx="611.0" cy="371.7" r="1.85"/><circle cx="582.3" cy="335.5" r="1.85"/><circle cx="567.8" cy="366.5" r="1.85"/><circle cx="576.4" cy="315.3" r="1.85"/><circle cx="587.2" cy="389.7" r="1.85"/><circle cx="626.0" cy="372.7" r="1.85"/><circle cx="605.0" cy="347.9" r="1.85"/><circle cx="586.2" cy="334.2" r="1.85"/><circle cx="584.2" cy="384.0" r="1.85"/><circle cx="602.9" cy="376.4" r="1.85"/><circle cx="560.3" cy="363.6" r="1.85"/><circle cx="628.7" cy="367.6" r="1.85"/><circle cx="648.9" cy="358.4" r="1.85"/><circle cx="621.4" cy="328.0" r="1.85"/><circle cx="601.4" cy="325.8" r="1.85"/><circle cx="568.3" cy="369.6" r="1.85"/><circle cx="573.3" cy="369.3" r="1.85"/><circle cx="582.7" cy="314.1" r="1.85"/><circle cx="581.3" cy="359.6" r="1.85"/><circle cx="603.5" cy="392.0" r="1.85"/><circle cx="596.1" cy="361.6" r="1.85"/><circle cx="573.8" cy="308.5" r="1.85"/><circle cx="612.3" cy="326.5" r="1.85"/><circle cx="581.6" cy="307.0" r="1.85"/><circle cx="593.1" cy="378.4" r="1.85"/><circle cx="571.4" cy="384.5" r="1.85"/><circle cx="595.1" cy="357.1" r="1.85"/><circle cx="594.3" cy="376.8" r="1.85"/><circle cx="586.8" cy="344.7" r="1.85"/><circle cx="585.5" cy="359.9" r="1.85"/><circle cx="608.2" cy="344.6" r="1.85"/><circle cx="598.3" cy="358.5" r="1.85"/><circle cx="571.7" cy="326.2" r="1.85"/><circle cx="604.0" cy="409.0" r="1.85"/><circle cx="602.8" cy="366.1" r="1.85"/><circle cx="584.2" cy="380.2" r="1.85"/><circle cx="619.6" cy="371.8" r="1.85"/><circle cx="576.2" cy="366.8" r="1.85"/><circle cx="601.3" cy="315.1" r="1.85"/><circle cx="618.8" cy="382.6" r="1.85"/><circle cx="603.6" cy="357.6" r="1.85"/><circle cx="608.4" cy="338.5" r="1.85"/><circle cx="606.8" cy="319.1" r="1.85"/><circle cx="585.1" cy="373.2" r="1.85"/><circle cx="625.0" cy="352.3" r="1.85"/><circle cx="564.1" cy="356.1" r="1.85"/><circle cx="602.3" cy="354.3" r="1.85"/><circle cx="611.3" cy="356.8" r="1.85"/><circle cx="582.3" cy="349.1" r="1.85"/><circle cx="596.5" cy="364.7" r="1.85"/><circle cx="599.5" cy="327.9" r="1.85"/><circle cx="613.1" cy="313.7" r="1.85"/><circle cx="582.2" cy="356.5" r="1.85"/><circle cx="561.8" cy="352.4" r="1.85"/><circle cx="569.3" cy="394.7" r="1.85"/><circle cx="611.5" cy="352.9" r="1.85"/><circle cx="593.1" cy="334.7" r="1.85"/><circle cx="567.9" cy="323.4" r="1.85"/><circle cx="605.3" cy="372.0" r="1.85"/><circle cx="581.8" cy="369.1" r="1.85"/><circle cx="630.0" cy="386.1" r="1.85"/><circle cx="623.2" cy="333.2" r="1.85"/><circle cx="575.5" cy="361.0" r="1.85"/><circle cx="559.8" cy="346.9" r="1.85"/><circle cx="604.4" cy="336.4" r="1.85"/><circle cx="608.0" cy="316.3" r="1.85"/><circle cx="592.0" cy="353.4" r="1.85"/><circle cx="555.6" cy="350.4" r="1.85"/><circle cx="612.0" cy="335.0" r="1.85"/><circle cx="604.6" cy="349.2" r="1.85"/><circle cx="589.4" cy="344.1" r="1.85"/><circle cx="626.6" cy="369.7" r="1.85"/><circle cx="635.1" cy="341.0" r="1.85"/><circle cx="585.4" cy="315.8" r="1.85"/><circle cx="580.6" cy="320.8" r="1.85"/><circle cx="589.7" cy="367.4" r="1.85"/><circle cx="571.8" cy="373.0" r="1.85"/><circle cx="596.6" cy="350.5" r="1.85"/><circle cx="613.6" cy="366.5" r="1.85"/><circle cx="578.2" cy="356.7" r="1.85"/><circle cx="593.1" cy="307.5" r="1.85"/><circle cx="570.2" cy="356.1" r="1.85"/><circle cx="564.3" cy="385.9" r="1.85"/><circle cx="589.6" cy="381.2" r="1.85"/><circle cx="598.1" cy="347.2" r="1.85"/><circle cx="595.2" cy="307.5" r="1.85"/><circle cx="602.4" cy="381.4" r="1.85"/><circle cx="574.2" cy="335.5" r="1.85"/><circle cx="612.5" cy="369.1" r="1.85"/><circle cx="597.6" cy="337.8" r="1.85"/><circle cx="622.1" cy="367.0" r="1.85"/><circle cx="594.1" cy="380.8" r="1.85"/><circle cx="573.0" cy="370.9" r="1.85"/><circle cx="615.6" cy="331.7" r="1.85"/><circle cx="559.2" cy="332.4" r="1.85"/><circle cx="568.4" cy="378.6" r="1.85"/><circle cx="576.9" cy="373.5" r="1.85"/><circle cx="613.3" cy="362.4" r="1.85"/><circle cx="563.1" cy="340.0" r="1.85"/><circle cx="613.7" cy="329.0" r="1.85"/><circle cx="555.8" cy="348.0" r="1.85"/><circle cx="577.8" cy="319.4" r="1.85"/><circle cx="564.2" cy="337.7" r="1.85"/><circle cx="572.5" cy="351.8" r="1.85"/><circle cx="594.2" cy="362.3" r="1.85"/><circle cx="589.4" cy="320.4" r="1.85"/><circle cx="588.5" cy="310.8" r="1.85"/><circle cx="580.4" cy="347.3" r="1.85"/><circle cx="604.9" cy="329.5" r="1.85"/><circle cx="569.0" cy="391.9" r="1.85"/><circle cx="621.3" cy="363.6" r="1.85"/><circle cx="618.7" cy="344.7" r="1.85"/><circle cx="561.2" cy="356.5" r="1.85"/><circle cx="587.6" cy="384.1" r="1.85"/><circle cx="616.0" cy="391.6" r="1.85"/><circle cx="614.6" cy="385.5" r="1.85"/><circle cx="569.1" cy="321.4" r="1.85"/><circle cx="628.9" cy="360.7" r="1.85"/><circle cx="583.1" cy="322.2" r="1.85"/><circle cx="571.8" cy="328.7" r="1.85"/><circle cx="665.2" cy="343.0" r="1.85"/><circle cx="621.8" cy="359.2" r="1.85"/><circle cx="584.5" cy="364.5" r="1.85"/><circle cx="602.8" cy="352.7" r="1.85"/><circle cx="642.9" cy="338.9" r="1.85"/><circle cx="562.9" cy="335.1" r="1.85"/><circle cx="613.3" cy="324.5" r="1.85"/><circle cx="617.2" cy="338.1" r="1.85"/><circle cx="588.1" cy="387.7" r="1.85"/><circle cx="583.6" cy="357.5" r="1.85"/><circle cx="587.6" cy="352.2" r="1.85"/><circle cx="570.1" cy="376.7" r="1.85"/><circle cx="596.1" cy="382.8" r="1.85"/><circle cx="593.9" cy="317.9" r="1.85"/><circle cx="616.1" cy="385.8" r="1.85"/><circle cx="626.9" cy="389.6" r="1.85"/><circle cx="574.9" cy="388.2" r="1.85"/><circle cx="578.8" cy="346.4" r="1.85"/><circle cx="595.4" cy="342.5" r="1.85"/><circle cx="569.9" cy="311.3" r="1.85"/><circle cx="612.3" cy="386.9" r="1.85"/><circle cx="593.9" cy="353.3" r="1.85"/><circle cx="572.4" cy="318.3" r="1.85"/><circle cx="603.4" cy="340.8" r="1.85"/><circle cx="595.7" cy="358.3" r="1.85"/><circle cx="583.1" cy="389.8" r="1.85"/><circle cx="615.4" cy="363.4" r="1.85"/><circle cx="562.5" cy="344.8" r="1.85"/><circle cx="629.3" cy="339.4" r="1.85"/><circle cx="590.2" cy="311.5" r="1.85"/><circle cx="573.2" cy="308.8" r="1.85"/><circle cx="660.7" cy="360.2" r="1.85"/><circle cx="604.5" cy="364.8" r="1.85"/><circle cx="617.1" cy="354.7" r="1.85"/><circle cx="611.1" cy="378.0" r="1.85"/><circle cx="583.1" cy="327.3" r="1.85"/><circle cx="599.0" cy="387.4" r="1.85"/><circle cx="608.0" cy="378.3" r="1.85"/><circle cx="573.8" cy="399.5" r="1.85"/><circle cx="571.8" cy="363.3" r="1.85"/><circle cx="583.8" cy="319.4" r="1.85"/><circle cx="576.7" cy="379.5" r="1.85"/><circle cx="633.5" cy="373.5" r="1.85"/><circle cx="589.5" cy="379.3" r="1.85"/><circle cx="552.3" cy="349.9" r="1.85"/><circle cx="584.4" cy="345.4" r="1.85"/><circle cx="598.8" cy="352.4" r="1.85"/><circle cx="600.9" cy="319.1" r="1.85"/><circle cx="633.7" cy="391.7" r="1.85"/><circle cx="605.0" cy="312.7" r="1.85"/><circle cx="620.2" cy="352.7" r="1.85"/><circle cx="611.2" cy="382.6" r="1.85"/><circle cx="601.9" cy="350.4" r="1.85"/><circle cx="621.2" cy="354.6" r="1.85"/><circle cx="603.9" cy="321.2" r="1.85"/><circle cx="636.9" cy="344.0" r="1.85"/><circle cx="560.5" cy="339.0" r="1.85"/><circle cx="592.0" cy="337.0" r="1.85"/><circle cx="556.2" cy="342.0" r="1.85"/><circle cx="608.4" cy="318.6" r="1.85"/><circle cx="592.9" cy="316.0" r="1.85"/><circle cx="587.4" cy="317.6" r="1.85"/><circle cx="621.0" cy="377.9" r="1.85"/><circle cx="598.8" cy="369.1" r="1.85"/><circle cx="622.6" cy="361.8" r="1.85"/><circle cx="635.3" cy="359.1" r="1.85"/><circle cx="578.5" cy="361.7" r="1.85"/><circle cx="557.4" cy="340.6" r="1.85"/><circle cx="563.9" cy="319.1" r="1.85"/><circle cx="650.0" cy="362.0" r="1.85"/><circle cx="570.3" cy="378.3" r="1.85"/><circle cx="590.3" cy="359.7" r="1.85"/><circle cx="577.6" cy="331.1" r="1.85"/><circle cx="556.1" cy="333.2" r="1.85"/><circle cx="619.1" cy="337.6" r="1.85"/><circle cx="644.8" cy="343.5" r="1.85"/><circle cx="587.4" cy="354.5" r="1.85"/><circle cx="564.6" cy="372.2" r="1.85"/><circle cx="578.7" cy="307.6" r="1.85"/><circle cx="643.5" cy="363.5" r="1.85"/><circle cx="614.0" cy="356.6" r="1.85"/><circle cx="562.8" cy="327.3" r="1.85"/><circle cx="591.6" cy="336.0" r="1.85"/><circle cx="597.6" cy="366.4" r="1.85"/><circle cx="614.3" cy="348.7" r="1.85"/><circle cx="588.0" cy="378.6" r="1.85"/><circle cx="591.0" cy="345.2" r="1.85"/><circle cx="578.0" cy="315.3" r="1.85"/><circle cx="592.2" cy="333.5" r="1.85"/><circle cx="595.6" cy="373.1" r="1.85"/><circle cx="629.0" cy="338.2" r="1.85"/><circle cx="561.1" cy="350.1" r="1.85"/><circle cx="601.5" cy="322.0" r="1.85"/></g><g fill="#3a50b8" stroke="#1c1c1c" stroke-width="0.6"><circle cx="466.6" cy="384.5" r="1.85"/><circle cx="479.1" cy="399.3" r="1.85"/><circle cx="487.2" cy="376.0" r="1.85"/><circle cx="497.1" cy="410.2" r="1.85"/><circle cx="484.3" cy="390.7" r="1.85"/><circle cx="496.4" cy="395.6" r="1.85"/><circle cx="434.3" cy="379.3" r="1.85"/><circle cx="454.0" cy="395.6" r="1.85"/><circle cx="460.8" cy="359.8" r="1.85"/><circle cx="439.9" cy="363.2" r="1.85"/><circle cx="443.9" cy="369.4" r="1.85"/><circle cx="444.3" cy="398.7" r="1.85"/><circle cx="465.8" cy="336.9" r="1.85"/><circle cx="474.0" cy="400.6" r="1.85"/><circle cx="489.4" cy="378.3" r="1.85"/><circle cx="493.3" cy="404.2" r="1.85"/><circle cx="492.3" cy="347.5" r="1.85"/><circle cx="460.4" cy="361.0" r="1.85"/><circle cx="454.6" cy="366.3" r="1.85"/><circle cx="476.3" cy="397.6" r="1.85"/><circle cx="470.7" cy="366.3" r="1.85"/><circle cx="506.8" cy="356.5" r="1.85"/><circle cx="450.9" cy="379.9" r="1.85"/><circle cx="487.0" cy="361.2" r="1.85"/><circle cx="477.8" cy="344.9" r="1.85"/><circle cx="457.6" cy="319.7" r="1.85"/><circle cx="504.6" cy="385.7" r="1.85"/><circle cx="502.4" cy="362.8" r="1.85"/><circle cx="466.8" cy="325.5" r="1.85"/><circle cx="485.0" cy="362.2" r="1.85"/><circle cx="498.1" cy="394.5" r="1.85"/><circle cx="454.9" cy="394.1" r="1.85"/><circle cx="481.3" cy="385.2" r="1.85"/><circle cx="455.8" cy="388.2" r="1.85"/><circle cx="473.9" cy="375.9" r="1.85"/><circle cx="463.3" cy="363.9" r="1.85"/><circle cx="470.8" cy="371.1" r="1.85"/><circle cx="448.8" cy="324.5" r="1.85"/><circle cx="459.0" cy="364.1" r="1.85"/><circle cx="502.6" cy="388.4" r="1.85"/><circle cx="503.8" cy="370.9" r="1.85"/><circle cx="447.7" cy="394.0" r="1.85"/><circle cx="488.2" cy="344.3" r="1.85"/><circle cx="507.4" cy="378.6" r="1.85"/><circle cx="449.0" cy="355.5" r="1.85"/><circle cx="476.2" cy="365.7" r="1.85"/><circle cx="474.5" cy="401.5" r="1.85"/><circle cx="493.0" cy="371.8" r="1.85"/><circle cx="446.8" cy="338.9" r="1.85"/><circle cx="497.9" cy="407.1" r="1.85"/><circle cx="493.8" cy="368.0" r="1.85"/><circle cx="507.7" cy="351.6" r="1.85"/><circle cx="505.8" cy="367.2" r="1.85"/><circle cx="483.9" cy="331.4" r="1.85"/><circle cx="497.1" cy="377.9" r="1.85"/><circle cx="452.4" cy="345.0" r="1.85"/><circle cx="485.6" cy="369.1" r="1.85"/><circle cx="496.8" cy="397.7" r="1.85"/><circle cx="464.9" cy="374.0" r="1.85"/><circle cx="503.4" cy="350.8" r="1.85"/><circle cx="443.7" cy="357.0" r="1.85"/><circle cx="451.5" cy="347.0" r="1.85"/><circle cx="501.2" cy="394.9" r="1.85"/><circle cx="452.4" cy="333.4" r="1.85"/><circle cx="501.2" cy="381.0" r="1.85"/><circle cx="489.9" cy="397.2" r="1.85"/><circle cx="457.4" cy="337.7" r="1.85"/><circle cx="495.2" cy="385.7" r="1.85"/><circle cx="450.7" cy="392.6" r="1.85"/><circle cx="513.0" cy="357.2" r="1.85"/><circle cx="496.6" cy="345.6" r="1.85"/><circle cx="490.0" cy="346.9" r="1.85"/><circle cx="462.5" cy="391.2" r="1.85"/><circle cx="509.2" cy="366.3" r="1.85"/><circle cx="464.9" cy="356.3" r="1.85"/><circle cx="473.2" cy="324.1" r="1.85"/><circle cx="485.0" cy="357.1" r="1.85"/><circle cx="502.5" cy="352.3" r="1.85"/><circle cx="509.8" cy="371.1" r="1.85"/><circle cx="464.8" cy="386.4" r="1.85"/><circle cx="482.1" cy="366.8" r="1.85"/><circle cx="476.3" cy="347.7" r="1.85"/><circle cx="494.1" cy="359.6" r="1.85"/><circle cx="502.5" cy="372.1" r="1.85"/><circle cx="447.2" cy="379.5" r="1.85"/><circle cx="477.3" cy="398.1" r="1.85"/><circle cx="446.0" cy="353.3" r="1.85"/><circle cx="443.5" cy="363.1" r="1.85"/><circle cx="491.9" cy="392.8" r="1.85"/><circle cx="498.1" cy="385.2" r="1.85"/><circle cx="478.7" cy="392.7" r="1.85"/><circle cx="457.6" cy="378.4" r="1.85"/><circle cx="492.7" cy="385.5" r="1.85"/><circle cx="463.9" cy="359.5" r="1.85"/><circle cx="459.2" cy="325.3" r="1.85"/><circle cx="451.1" cy="375.0" r="1.85"/><circle cx="500.1" cy="398.4" r="1.85"/><circle cx="479.1" cy="385.5" r="1.85"/><circle cx="493.0" cy="380.2" r="1.85"/><circle cx="501.6" cy="397.6" r="1.85"/><circle cx="497.4" cy="387.7" r="1.85"/><circle cx="471.9" cy="402.0" r="1.85"/><circle cx="476.2" cy="386.8" r="1.85"/><circle cx="476.4" cy="395.0" r="1.85"/><circle cx="508.6" cy="373.6" r="1.85"/><circle cx="482.1" cy="347.0" r="1.85"/><circle cx="473.1" cy="347.3" r="1.85"/><circle cx="463.5" cy="355.4" r="1.85"/><circle cx="484.6" cy="376.7" r="1.85"/><circle cx="449.6" cy="366.4" r="1.85"/><circle cx="478.7" cy="335.6" r="1.85"/><circle cx="461.4" cy="364.0" r="1.85"/><circle cx="481.1" cy="362.4" r="1.85"/><circle cx="495.7" cy="402.6" r="1.85"/><circle cx="501.8" cy="383.0" r="1.85"/><circle cx="479.3" cy="329.2" r="1.85"/><circle cx="498.7" cy="347.4" r="1.85"/><circle cx="494.1" cy="353.9" r="1.85"/><circle cx="488.7" cy="392.3" r="1.85"/><circle cx="468.1" cy="361.2" r="1.85"/><circle cx="455.9" cy="345.6" r="1.85"/><circle cx="473.1" cy="352.0" r="1.85"/><circle cx="499.9" cy="359.1" r="1.85"/><circle cx="509.5" cy="364.6" r="1.85"/><circle cx="497.7" cy="356.5" r="1.85"/><circle cx="461.6" cy="378.7" r="1.85"/><circle cx="453.4" cy="385.1" r="1.85"/><circle cx="459.8" cy="410.0" r="1.85"/><circle cx="478.3" cy="361.3" r="1.85"/><circle cx="456.5" cy="394.2" r="1.85"/><circle cx="497.6" cy="343.1" r="1.85"/><circle cx="443.2" cy="387.2" r="1.85"/><circle cx="456.4" cy="378.9" r="1.85"/><circle cx="454.0" cy="331.9" r="1.85"/><circle cx="476.2" cy="364.2" r="1.85"/><circle cx="484.0" cy="414.5" r="1.85"/><circle cx="511.9" cy="358.1" r="1.85"/><circle cx="470.7" cy="328.1" r="1.85"/><circle cx="432.9" cy="363.2" r="1.85"/><circle cx="457.9" cy="374.9" r="1.85"/><circle cx="505.6" cy="382.8" r="1.85"/><circle cx="455.7" cy="339.6" r="1.85"/><circle cx="487.2" cy="400.3" r="1.85"/><circle cx="452.3" cy="405.1" r="1.85"/><circle cx="505.3" cy="370.2" r="1.85"/><circle cx="492.5" cy="394.7" r="1.85"/><circle cx="505.4" cy="364.2" r="1.85"/><circle cx="476.0" cy="337.7" r="1.85"/><circle cx="483.5" cy="379.5" r="1.85"/><circle cx="466.3" cy="314.5" r="1.85"/><circle cx="457.5" cy="347.3" r="1.85"/><circle cx="481.9" cy="337.0" r="1.85"/><circle cx="463.6" cy="383.6" r="1.85"/><circle cx="471.5" cy="338.6" r="1.85"/><circle cx="471.5" cy="360.1" r="1.85"/><circle cx="488.3" cy="356.3" r="1.85"/><circle cx="485.8" cy="349.5" r="1.85"/><circle cx="477.9" cy="382.5" r="1.85"/><circle cx="452.0" cy="383.6" r="1.85"/><circle cx="504.7" cy="358.9" r="1.85"/><circle cx="495.5" cy="345.5" r="1.85"/><circle cx="486.8" cy="409.6" r="1.85"/><circle cx="492.4" cy="337.6" r="1.85"/><circle cx="472.9" cy="400.6" r="1.85"/><circle cx="484.2" cy="364.1" r="1.85"/><circle cx="491.2" cy="350.8" r="1.85"/><circle cx="470.1" cy="341.0" r="1.85"/><circle cx="500.0" cy="368.6" r="1.85"/><circle cx="454.8" cy="361.4" r="1.85"/><circle cx="472.6" cy="330.8" r="1.85"/><circle cx="450.4" cy="402.2" r="1.85"/><circle cx="451.0" cy="373.0" r="1.85"/><circle cx="448.1" cy="399.4" r="1.85"/><circle cx="496.5" cy="355.1" r="1.85"/><circle cx="459.3" cy="312.0" r="1.85"/><circle cx="492.8" cy="377.0" r="1.85"/><circle cx="479.0" cy="389.7" r="1.85"/><circle cx="488.7" cy="388.9" r="1.85"/><circle cx="450.8" cy="389.8" r="1.85"/><circle cx="457.7" cy="383.0" r="1.85"/><circle cx="496.9" cy="363.9" r="1.85"/><circle cx="490.6" cy="375.8" r="1.85"/><circle cx="493.8" cy="410.0" r="1.85"/><circle cx="450.2" cy="380.4" r="1.85"/><circle cx="469.0" cy="408.6" r="1.85"/><circle cx="471.2" cy="395.8" r="1.85"/><circle cx="482.4" cy="342.8" r="1.85"/><circle cx="481.0" cy="356.7" r="1.85"/><circle cx="498.1" cy="359.6" r="1.85"/><circle cx="496.9" cy="343.0" r="1.85"/><circle cx="491.3" cy="379.7" r="1.85"/><circle cx="463.7" cy="312.5" r="1.85"/><circle cx="489.2" cy="349.0" r="1.85"/><circle cx="484.4" cy="416.4" r="1.85"/><circle cx="482.5" cy="352.3" r="1.85"/><circle cx="459.4" cy="403.4" r="1.85"/><circle cx="472.4" cy="319.9" r="1.85"/><circle cx="463.2" cy="333.9" r="1.85"/><circle cx="483.2" cy="335.7" r="1.85"/><circle cx="481.6" cy="380.5" r="1.85"/><circle cx="463.4" cy="339.6" r="1.85"/><circle cx="487.0" cy="410.5" r="1.85"/><circle cx="504.7" cy="373.5" r="1.85"/><circle cx="483.5" cy="347.2" r="1.85"/><circle cx="489.5" cy="334.9" r="1.85"/><circle cx="497.9" cy="405.2" r="1.85"/><circle cx="495.4" cy="353.1" r="1.85"/><circle cx="469.0" cy="334.0" r="1.85"/><circle cx="458.4" cy="411.5" r="1.85"/><circle cx="462.8" cy="376.0" r="1.85"/><circle cx="430.0" cy="386.0" r="1.85"/><circle cx="484.3" cy="397.0" r="1.85"/><circle cx="491.4" cy="359.4" r="1.85"/><circle cx="474.1" cy="415.3" r="1.85"/><circle cx="478.0" cy="407.9" r="1.85"/><circle cx="474.0" cy="380.9" r="1.85"/><circle cx="486.2" cy="340.8" r="1.85"/><circle cx="467.8" cy="379.3" r="1.85"/><circle cx="474.9" cy="370.9" r="1.85"/><circle cx="447.8" cy="370.6" r="1.85"/><circle cx="454.1" cy="352.2" r="1.85"/><circle cx="455.7" cy="392.3" r="1.85"/><circle cx="439.0" cy="297.2" r="1.85"/><circle cx="473.2" cy="388.0" r="1.85"/><circle cx="476.0" cy="357.7" r="1.85"/><circle cx="487.1" cy="366.5" r="1.85"/><circle cx="471.5" cy="409.9" r="1.85"/><circle cx="482.4" cy="332.9" r="1.85"/><circle cx="482.6" cy="382.9" r="1.85"/><circle cx="447.4" cy="404.0" r="1.85"/><circle cx="443.8" cy="402.5" r="1.85"/><circle cx="474.7" cy="339.9" r="1.85"/><circle cx="497.1" cy="352.8" r="1.85"/><circle cx="460.0" cy="373.6" r="1.85"/><circle cx="466.4" cy="373.7" r="1.85"/><circle cx="470.2" cy="323.3" r="1.85"/><circle cx="486.9" cy="364.0" r="1.85"/><circle cx="488.7" cy="360.0" r="1.85"/><circle cx="474.3" cy="354.2" r="1.85"/><circle cx="502.1" cy="378.2" r="1.85"/><circle cx="486.4" cy="378.5" r="1.85"/><circle cx="459.6" cy="376.4" r="1.85"/><circle cx="489.1" cy="355.2" r="1.85"/><circle cx="498.8" cy="392.9" r="1.85"/><circle cx="485.0" cy="371.7" r="1.85"/><circle cx="498.9" cy="374.0" r="1.85"/><circle cx="490.9" cy="383.7" r="1.85"/><circle cx="461.6" cy="392.4" r="1.85"/><circle cx="464.2" cy="322.7" r="1.85"/><circle cx="501.5" cy="391.2" r="1.85"/><circle cx="501.3" cy="366.6" r="1.85"/><circle cx="473.1" cy="403.8" r="1.85"/><circle cx="466.6" cy="339.6" r="1.85"/><circle cx="476.4" cy="352.7" r="1.85"/><circle cx="486.5" cy="387.8" r="1.85"/><circle cx="463.7" cy="368.7" r="1.85"/><circle cx="487.9" cy="394.3" r="1.85"/><circle cx="457.8" cy="340.6" r="1.85"/><circle cx="436.4" cy="386.8" r="1.85"/><circle cx="461.0" cy="335.9" r="1.85"/><circle cx="495.2" cy="341.1" r="1.85"/><circle cx="496.0" cy="390.5" r="1.85"/><circle cx="450.1" cy="379.9" r="1.85"/><circle cx="497.4" cy="383.6" r="1.85"/><circle cx="457.0" cy="361.3" r="1.85"/><circle cx="452.7" cy="385.4" r="1.85"/><circle cx="454.3" cy="401.5" r="1.85"/><circle cx="454.0" cy="399.3" r="1.85"/><circle cx="493.1" cy="409.0" r="1.85"/><circle cx="470.9" cy="356.8" r="1.85"/><circle cx="473.8" cy="395.5" r="1.85"/><circle cx="483.2" cy="386.7" r="1.85"/><circle cx="486.7" cy="390.7" r="1.85"/><circle cx="483.3" cy="393.3" r="1.85"/><circle cx="446.7" cy="368.7" r="1.85"/><circle cx="446.8" cy="351.1" r="1.85"/><circle cx="476.9" cy="360.3" r="1.85"/><circle cx="449.5" cy="388.6" r="1.85"/><circle cx="506.0" cy="355.2" r="1.85"/><circle cx="506.1" cy="391.8" r="1.85"/><circle cx="495.3" cy="396.6" r="1.85"/><circle cx="479.7" cy="337.6" r="1.85"/><circle cx="457.2" cy="371.3" r="1.85"/><circle cx="480.5" cy="355.2" r="1.85"/><circle cx="502.2" cy="360.2" r="1.85"/><circle cx="464.8" cy="332.8" r="1.85"/><circle cx="494.3" cy="387.6" r="1.85"/><circle cx="464.3" cy="378.3" r="1.85"/><circle cx="437.7" cy="361.9" r="1.85"/><circle cx="501.1" cy="361.9" r="1.85"/><circle cx="467.1" cy="329.2" r="1.85"/><circle cx="492.5" cy="361.9" r="1.85"/><circle cx="503.2" cy="367.8" r="1.85"/><circle cx="503.8" cy="361.6" r="1.85"/><circle cx="479.9" cy="403.1" r="1.85"/><circle cx="474.7" cy="330.1" r="1.85"/><circle cx="500.1" cy="355.6" r="1.85"/><circle cx="494.4" cy="374.6" r="1.85"/><circle cx="475.0" cy="392.8" r="1.85"/><circle cx="462.1" cy="351.4" r="1.85"/><circle cx="495.5" cy="365.5" r="1.85"/><circle cx="483.9" cy="354.9" r="1.85"/><circle cx="490.3" cy="342.1" r="1.85"/><circle cx="469.2" cy="321.7" r="1.85"/><circle cx="506.3" cy="380.7" r="1.85"/><circle cx="500.5" cy="388.5" r="1.85"/><circle cx="472.3" cy="397.3" r="1.85"/><circle cx="503.9" cy="352.7" r="1.85"/><circle cx="509.4" cy="356.7" r="1.85"/><circle cx="458.4" cy="366.2" r="1.85"/><circle cx="454.0" cy="411.6" r="1.85"/><circle cx="486.7" cy="398.2" r="1.85"/><circle cx="470.0" cy="344.5" r="1.85"/><circle cx="499.4" cy="344.3" r="1.85"/><circle cx="451.9" cy="333.6" r="1.85"/><circle cx="460.8" cy="331.2" r="1.85"/><circle cx="503.4" cy="379.9" r="1.85"/><circle cx="496.1" cy="399.7" r="1.85"/><circle cx="468.5" cy="359.6" r="1.85"/><circle cx="469.8" cy="383.2" r="1.85"/><circle cx="480.5" cy="389.0" r="1.85"/><circle cx="469.5" cy="377.9" r="1.85"/><circle cx="507.9" cy="369.0" r="1.85"/><circle cx="489.6" cy="380.6" r="1.85"/><circle cx="484.5" cy="409.1" r="1.85"/><circle cx="444.5" cy="402.3" r="1.85"/><circle cx="478.7" cy="395.3" r="1.85"/><circle cx="455.9" cy="360.0" r="1.85"/><circle cx="498.6" cy="379.0" r="1.85"/><circle cx="444.1" cy="392.2" r="1.85"/><circle cx="461.4" cy="383.9" r="1.85"/><circle cx="492.2" cy="336.2" r="1.85"/><circle cx="462.6" cy="415.6" r="1.85"/><circle cx="491.4" cy="388.7" r="1.85"/><circle cx="448.6" cy="344.2" r="1.85"/><circle cx="459.9" cy="381.0" r="1.85"/><circle cx="455.2" cy="349.6" r="1.85"/><circle cx="471.2" cy="385.4" r="1.85"/><circle cx="483.7" cy="340.7" r="1.85"/><circle cx="456.8" cy="342.5" r="1.85"/><circle cx="470.9" cy="362.0" r="1.85"/><circle cx="471.8" cy="374.1" r="1.85"/><circle cx="442.5" cy="357.2" r="1.85"/><circle cx="480.8" cy="344.4" r="1.85"/><circle cx="459.0" cy="354.6" r="1.85"/><circle cx="460.1" cy="333.2" r="1.85"/><circle cx="491.6" cy="354.9" r="1.85"/><circle cx="476.2" cy="390.3" r="1.85"/><circle cx="477.3" cy="364.7" r="1.85"/><circle cx="489.4" cy="352.1" r="1.85"/><circle cx="497.3" cy="372.0" r="1.85"/><circle cx="476.3" cy="371.5" r="1.85"/><circle cx="492.1" cy="368.2" r="1.85"/><circle cx="504.3" cy="389.8" r="1.85"/><circle cx="499.7" cy="363.7" r="1.85"/><circle cx="500.3" cy="402.2" r="1.85"/><circle cx="475.9" cy="340.1" r="1.85"/><circle cx="470.0" cy="374.4" r="1.85"/><circle cx="465.5" cy="362.1" r="1.85"/><circle cx="479.5" cy="347.7" r="1.85"/><circle cx="495.4" cy="393.0" r="1.85"/><circle cx="471.7" cy="368.7" r="1.85"/><circle cx="461.9" cy="345.8" r="1.85"/><circle cx="432.3" cy="367.6" r="1.85"/><circle cx="460.3" cy="350.3" r="1.85"/><circle cx="463.1" cy="356.6" r="1.85"/><circle cx="506.7" cy="376.0" r="1.85"/><circle cx="481.5" cy="363.4" r="1.85"/><circle cx="484.3" cy="374.1" r="1.85"/><circle cx="452.5" cy="369.8" r="1.85"/><circle cx="472.9" cy="337.9" r="1.85"/><circle cx="506.8" cy="370.8" r="1.85"/><circle cx="464.9" cy="328.7" r="1.85"/><circle cx="480.5" cy="340.9" r="1.85"/><circle cx="498.3" cy="381.9" r="1.85"/><circle cx="502.2" cy="386.0" r="1.85"/><circle cx="463.0" cy="420.0" r="1.85"/><circle cx="500.0" cy="415.4" r="1.85"/><circle cx="456.0" cy="384.9" r="1.85"/><circle cx="459.3" cy="347.2" r="1.85"/><circle cx="452.0" cy="342.7" r="1.85"/><circle cx="478.6" cy="371.4" r="1.85"/><circle cx="483.0" cy="358.5" r="1.85"/><circle cx="484.7" cy="381.0" r="1.85"/><circle cx="477.3" cy="378.6" r="1.85"/><circle cx="474.5" cy="345.3" r="1.85"/><circle cx="472.5" cy="350.4" r="1.85"/><circle cx="451.5" cy="396.5" r="1.85"/><circle cx="479.5" cy="366.2" r="1.85"/><circle cx="482.9" cy="371.9" r="1.85"/><circle cx="486.2" cy="375.1" r="1.85"/><circle cx="474.0" cy="358.9" r="1.85"/><circle cx="481.0" cy="400.2" r="1.85"/><circle cx="469.7" cy="330.2" r="1.85"/><circle cx="457.9" cy="369.5" r="1.85"/><circle cx="462.8" cy="338.2" r="1.85"/><circle cx="474.1" cy="385.6" r="1.85"/><circle cx="466.9" cy="360.0" r="1.85"/><circle cx="508.0" cy="359.2" r="1.85"/><circle cx="473.8" cy="342.8" r="1.85"/><circle cx="476.9" cy="325.4" r="1.85"/><circle cx="492.9" cy="352.0" r="1.85"/><circle cx="489.6" cy="339.8" r="1.85"/><circle cx="501.5" cy="376.1" r="1.85"/><circle cx="477.7" cy="380.9" r="1.85"/><circle cx="472.7" cy="326.0" r="1.85"/><circle cx="486.6" cy="352.7" r="1.85"/><circle cx="443.9" cy="398.2" r="1.85"/><circle cx="458.2" cy="344.5" r="1.85"/><circle cx="509.5" cy="352.2" r="1.85"/><circle cx="490.6" cy="384.7" r="1.85"/><circle cx="501.4" cy="400.5" r="1.85"/><circle cx="490.2" cy="361.9" r="1.85"/><circle cx="505.6" cy="387.9" r="1.85"/><circle cx="454.6" cy="398.4" r="1.85"/><circle cx="465.1" cy="370.8" r="1.85"/><circle cx="457.9" cy="366.7" r="1.85"/><circle cx="507.2" cy="386.1" r="1.85"/><circle cx="493.8" cy="378.2" r="1.85"/><circle cx="477.1" cy="362.4" r="1.85"/><circle cx="484.7" cy="333.6" r="1.85"/><circle cx="490.9" cy="414.9" r="1.85"/><circle cx="486.9" cy="406.4" r="1.85"/><circle cx="468.6" cy="369.2" r="1.85"/><circle cx="452.7" cy="354.0" r="1.85"/><circle cx="472.8" cy="392.9" r="1.85"/><circle cx="463.3" cy="403.4" r="1.85"/><circle cx="470.6" cy="346.7" r="1.85"/><circle cx="483.4" cy="350.1" r="1.85"/><circle cx="447.1" cy="363.7" r="1.85"/><circle cx="470.9" cy="375.9" r="1.85"/><circle cx="470.5" cy="389.9" r="1.85"/><circle cx="483.3" cy="345.4" r="1.85"/><circle cx="476.6" cy="329.1" r="1.85"/><circle cx="473.5" cy="390.9" r="1.85"/><circle cx="441.6" cy="396.2" r="1.85"/><circle cx="479.8" cy="373.9" r="1.85"/><circle cx="490.9" cy="389.9" r="1.85"/><circle cx="479.0" cy="416.2" r="1.85"/><circle cx="490.1" cy="371.1" r="1.85"/><circle cx="499.3" cy="366.6" r="1.85"/><circle cx="480.0" cy="357.2" r="1.85"/><circle cx="489.5" cy="368.2" r="1.85"/><circle cx="496.0" cy="381.2" r="1.85"/><circle cx="475.2" cy="374.3" r="1.85"/><circle cx="507.7" cy="354.6" r="1.85"/><circle cx="465.5" cy="342.8" r="1.85"/><circle cx="463.7" cy="392.7" r="1.85"/><circle cx="468.6" cy="342.5" r="1.85"/><circle cx="497.4" cy="407.9" r="1.85"/><circle cx="445.8" cy="347.2" r="1.85"/><circle cx="473.3" cy="366.9" r="1.85"/><circle cx="509.4" cy="361.9" r="1.85"/><circle cx="453.0" cy="350.2" r="1.85"/><circle cx="470.5" cy="332.6" r="1.85"/><circle cx="468.3" cy="357.0" r="1.85"/><circle cx="496.1" cy="361.9" r="1.85"/><circle cx="463.1" cy="385.5" r="1.85"/><circle cx="491.3" cy="339.6" r="1.85"/><circle cx="459.2" cy="327.9" r="1.85"/><circle cx="465.1" cy="348.3" r="1.85"/><circle cx="468.5" cy="351.7" r="1.85"/><circle cx="485.4" cy="367.2" r="1.85"/><circle cx="477.2" cy="388.8" r="1.85"/><circle cx="510.9" cy="354.1" r="1.85"/><circle cx="492.8" cy="349.5" r="1.85"/><circle cx="463.9" cy="322.6" r="1.85"/><circle cx="505.7" cy="395.0" r="1.85"/><circle cx="480.1" cy="382.5" r="1.85"/><circle cx="496.4" cy="339.2" r="1.85"/><circle cx="477.9" cy="354.9" r="1.85"/><circle cx="460.3" cy="371.5" r="1.85"/><circle cx="468.5" cy="347.6" r="1.85"/><circle cx="465.9" cy="376.2" r="1.85"/><circle cx="478.3" cy="368.6" r="1.85"/><circle cx="469.3" cy="397.6" r="1.85"/><circle cx="449.5" cy="386.1" r="1.85"/><circle cx="458.4" cy="326.0" r="1.85"/><circle cx="447.0" cy="380.3" r="1.85"/><circle cx="469.5" cy="335.6" r="1.85"/><circle cx="473.4" cy="335.4" r="1.85"/><circle cx="446.5" cy="372.1" r="1.85"/><circle cx="493.2" cy="382.2" r="1.85"/><circle cx="493.2" cy="367.4" r="1.85"/><circle cx="467.8" cy="367.0" r="1.85"/><circle cx="455.7" cy="336.2" r="1.85"/><circle cx="469.2" cy="354.6" r="1.85"/><circle cx="486.1" cy="335.1" r="1.85"/><circle cx="460.2" cy="326.5" r="1.85"/><circle cx="459.2" cy="394.6" r="1.85"/><circle cx="448.6" cy="396.7" r="1.85"/><circle cx="456.8" cy="330.0" r="1.85"/><circle cx="468.3" cy="324.0" r="1.85"/><circle cx="495.3" cy="364.6" r="1.85"/><circle cx="491.4" cy="403.1" r="1.85"/><circle cx="454.7" cy="341.7" r="1.85"/><circle cx="477.2" cy="331.1" r="1.85"/><circle cx="501.2" cy="401.3" r="1.85"/><circle cx="502.6" cy="355.2" r="1.85"/><circle cx="474.7" cy="350.3" r="1.85"/><circle cx="481.1" cy="335.9" r="1.85"/><circle cx="461.6" cy="406.2" r="1.85"/><circle cx="476.7" cy="417.1" r="1.85"/><circle cx="473.1" cy="362.0" r="1.85"/><circle cx="466.6" cy="330.7" r="1.85"/><circle cx="442.6" cy="375.4" r="1.85"/><circle cx="467.7" cy="387.7" r="1.85"/><circle cx="491.7" cy="345.4" r="1.85"/><circle cx="469.9" cy="350.9" r="1.85"/><circle cx="457.0" cy="357.9" r="1.85"/><circle cx="468.5" cy="376.5" r="1.85"/><circle cx="512.5" cy="352.4" r="1.85"/><circle cx="465.6" cy="352.6" r="1.85"/><circle cx="467.6" cy="393.0" r="1.85"/><circle cx="474.7" cy="321.5" r="1.85"/><circle cx="463.6" cy="349.4" r="1.85"/><circle cx="468.0" cy="379.9" r="1.85"/><circle cx="453.3" cy="340.7" r="1.85"/><circle cx="492.1" cy="365.4" r="1.85"/><circle cx="450.6" cy="384.0" r="1.85"/><circle cx="448.0" cy="422.0" r="1.85"/><circle cx="453.4" cy="338.2" r="1.85"/><circle cx="479.5" cy="352.3" r="1.85"/><circle cx="451.7" cy="333.9" r="1.85"/><circle cx="468.4" cy="386.7" r="1.85"/><circle cx="482.6" cy="328.4" r="1.85"/><circle cx="462.7" cy="367.1" r="1.85"/><circle cx="468.1" cy="395.0" r="1.85"/><circle cx="465.7" cy="395.6" r="1.85"/><circle cx="463.2" cy="342.7" r="1.85"/><circle cx="474.7" cy="326.1" r="1.85"/><circle cx="496.6" cy="373.4" r="1.85"/><circle cx="463.4" cy="336.8" r="1.85"/><circle cx="476.6" cy="376.7" r="1.85"/><circle cx="481.2" cy="376.1" r="1.85"/><circle cx="462.5" cy="323.0" r="1.85"/><circle cx="511.7" cy="361.5" r="1.85"/><circle cx="447.1" cy="390.9" r="1.85"/><circle cx="464.8" cy="412.4" r="1.85"/><circle cx="469.2" cy="363.7" r="1.85"/><circle cx="458.8" cy="329.5" r="1.85"/><circle cx="463.7" cy="327.2" r="1.85"/><circle cx="475.6" cy="368.5" r="1.85"/><circle cx="462.3" cy="380.7" r="1.85"/><circle cx="467.5" cy="368.4" r="1.85"/><circle cx="448.6" cy="392.8" r="1.85"/><circle cx="450.1" cy="344.8" r="1.85"/><circle cx="502.1" cy="392.8" r="1.85"/><circle cx="504.9" cy="394.4" r="1.85"/><circle cx="473.9" cy="329.1" r="1.85"/><circle cx="479.7" cy="343.0" r="1.85"/><circle cx="488.2" cy="374.2" r="1.85"/><circle cx="465.9" cy="381.8" r="1.85"/><circle cx="474.5" cy="356.8" r="1.85"/><circle cx="471.5" cy="351.9" r="1.85"/><circle cx="461.5" cy="340.3" r="1.85"/><circle cx="480.7" cy="407.0" r="1.85"/><circle cx="497.4" cy="349.0" r="1.85"/><circle cx="489.2" cy="383.1" r="1.85"/><circle cx="460.1" cy="395.5" r="1.85"/><circle cx="453.2" cy="388.9" r="1.85"/><circle cx="478.5" cy="332.6" r="1.85"/><circle cx="486.2" cy="345.7" r="1.85"/><circle cx="505.0" cy="347.2" r="1.85"/><circle cx="454.2" cy="357.7" r="1.85"/><circle cx="479.0" cy="408.3" r="1.85"/><circle cx="480.0" cy="330.9" r="1.85"/><circle cx="484.6" cy="338.1" r="1.85"/><circle cx="459.4" cy="406.4" r="1.85"/><circle cx="481.4" cy="369.7" r="1.85"/><circle cx="493.1" cy="389.8" r="1.85"/><circle cx="427.0" cy="383.0" r="1.85"/><circle cx="462.9" cy="371.5" r="1.85"/><circle cx="446.8" cy="352.1" r="1.85"/><circle cx="488.8" cy="397.7" r="1.85"/><circle cx="499.0" cy="403.1" r="1.85"/><circle cx="461.2" cy="369.3" r="1.85"/><circle cx="507.3" cy="348.3" r="1.85"/><circle cx="451.1" cy="358.4" r="1.85"/><circle cx="482.8" cy="389.1" r="1.85"/><circle cx="483.1" cy="368.9" r="1.85"/><circle cx="468.5" cy="371.6" r="1.85"/><circle cx="485.4" cy="342.8" r="1.85"/><circle cx="461.0" cy="388.3" r="1.85"/><circle cx="484.3" cy="400.2" r="1.85"/><circle cx="463.6" cy="347.4" r="1.85"/><circle cx="443.7" cy="376.4" r="1.85"/><circle cx="486.3" cy="343.5" r="1.85"/><circle cx="490.0" cy="399.1" r="1.85"/><circle cx="455.6" cy="373.0" r="1.85"/><circle cx="473.4" cy="378.2" r="1.85"/><circle cx="473.1" cy="363.7" r="1.85"/><circle cx="485.9" cy="359.8" r="1.85"/><circle cx="487.9" cy="333.1" r="1.85"/><circle cx="472.8" cy="354.5" r="1.85"/><circle cx="498.6" cy="391.2" r="1.85"/><circle cx="487.5" cy="371.9" r="1.85"/><circle cx="453.8" cy="394.5" r="1.85"/><circle cx="479.9" cy="359.5" r="1.85"/><circle cx="471.6" cy="343.0" r="1.85"/><circle cx="505.1" cy="377.9" r="1.85"/><circle cx="472.1" cy="383.8" r="1.85"/><circle cx="449.1" cy="358.2" r="1.85"/><circle cx="464.3" cy="344.8" r="1.85"/><circle cx="491.2" cy="337.3" r="1.85"/><circle cx="442.1" cy="387.4" r="1.85"/><circle cx="496.5" cy="376.4" r="1.85"/><circle cx="460.0" cy="338.5" r="1.85"/><circle cx="504.3" cy="366.9" r="1.85"/><circle cx="492.8" cy="342.3" r="1.85"/><circle cx="495.9" cy="371.7" r="1.85"/><circle cx="493.5" cy="403.0" r="1.85"/><circle cx="467.0" cy="345.2" r="1.85"/><circle cx="485.2" cy="351.5" r="1.85"/><circle cx="500.3" cy="383.1" r="1.85"/><circle cx="478.6" cy="373.5" r="1.85"/><circle cx="434.1" cy="361.4" r="1.85"/><circle cx="494.6" cy="393.2" r="1.85"/><circle cx="493.7" cy="357.0" r="1.85"/><circle cx="479.5" cy="379.8" r="1.85"/><circle cx="457.3" cy="350.6" r="1.85"/><circle cx="462.9" cy="330.6" r="1.85"/><circle cx="506.3" cy="362.2" r="1.85"/><circle cx="481.8" cy="395.0" r="1.85"/><circle cx="508.3" cy="349.4" r="1.85"/><circle cx="453.5" cy="346.8" r="1.85"/><circle cx="462.1" cy="398.8" r="1.85"/><circle cx="469.5" cy="392.4" r="1.85"/><circle cx="490.6" cy="356.7" r="1.85"/><circle cx="504.6" cy="357.8" r="1.85"/><circle cx="491.3" cy="373.8" r="1.85"/><circle cx="488.0" cy="364.5" r="1.85"/><circle cx="454.5" cy="384.6" r="1.85"/><circle cx="486.1" cy="354.5" r="1.85"/><circle cx="468.1" cy="390.5" r="1.85"/><circle cx="471.6" cy="381.2" r="1.85"/><circle cx="458.6" cy="360.0" r="1.85"/><circle cx="504.0" cy="375.8" r="1.85"/><circle cx="462.6" cy="394.2" r="1.85"/><circle cx="456.2" cy="362.7" r="1.85"/><circle cx="445.4" cy="364.6" r="1.85"/><circle cx="462.5" cy="362.9" r="1.85"/><circle cx="492.9" cy="399.7" r="1.85"/><circle cx="446.1" cy="386.9" r="1.85"/><circle cx="459.2" cy="405.3" r="1.85"/><circle cx="475.4" cy="382.6" r="1.85"/><circle cx="507.7" cy="382.5" r="1.85"/><circle cx="460.0" cy="342.4" r="1.85"/><circle cx="485.5" cy="383.5" r="1.85"/><circle cx="469.3" cy="326.5" r="1.85"/><circle cx="497.5" cy="400.6" r="1.85"/><circle cx="492.9" cy="405.1" r="1.85"/><circle cx="502.3" cy="374.0" r="1.85"/><circle cx="475.6" cy="333.3" r="1.85"/><circle cx="489.5" cy="367.5" r="1.85"/><circle cx="455.2" cy="368.7" r="1.85"/><circle cx="443.0" cy="358.6" r="1.85"/><circle cx="500.6" cy="347.6" r="1.85"/><circle cx="475.1" cy="336.0" r="1.85"/><circle cx="500.9" cy="356.5" r="1.85"/><circle cx="486.9" cy="347.2" r="1.85"/><circle cx="481.0" cy="398.2" r="1.85"/><circle cx="497.9" cy="360.7" r="1.85"/><circle cx="510.6" cy="364.5" r="1.85"/><circle cx="501.3" cy="348.5" r="1.85"/><circle cx="467.2" cy="365.0" r="1.85"/><circle cx="481.5" cy="393.5" r="1.85"/><circle cx="450.5" cy="402.8" r="1.85"/><circle cx="501.0" cy="401.7" r="1.85"/><circle cx="481.3" cy="410.1" r="1.85"/><circle cx="477.9" cy="349.7" r="1.85"/><circle cx="458.8" cy="336.7" r="1.85"/><circle cx="487.0" cy="381.8" r="1.85"/><circle cx="474.7" cy="387.6" r="1.85"/><circle cx="464.1" cy="402.9" r="1.85"/><circle cx="490.5" cy="394.8" r="1.85"/><circle cx="445.7" cy="344.2" r="1.85"/><circle cx="480.5" cy="349.9" r="1.85"/><circle cx="505.8" cy="349.8" r="1.85"/><circle cx="469.0" cy="339.3" r="1.85"/><circle cx="498.2" cy="369.0" r="1.85"/><circle cx="455.4" cy="355.1" r="1.85"/><circle cx="485.0" cy="385.9" r="1.85"/><circle cx="472.4" cy="345.1" r="1.85"/><circle cx="487.4" cy="385.2" r="1.85"/><circle cx="477.4" cy="324.2" r="1.85"/><circle cx="466.3" cy="390.1" r="1.85"/><circle cx="475.7" cy="379.5" r="1.85"/><circle cx="476.7" cy="343.3" r="1.85"/><circle cx="487.1" cy="337.6" r="1.85"/><circle cx="466.7" cy="350.1" r="1.85"/><circle cx="486.0" cy="392.3" r="1.85"/><circle cx="495.8" cy="347.2" r="1.85"/><circle cx="456.2" cy="375.8" r="1.85"/><circle cx="496.3" cy="356.7" r="1.85"/><circle cx="473.3" cy="333.0" r="1.85"/><circle cx="458.4" cy="410.4" r="1.85"/><circle cx="485.2" cy="395.4" r="1.85"/><circle cx="501.0" cy="343.8" r="1.85"/><circle cx="466.8" cy="385.2" r="1.85"/><circle cx="498.6" cy="375.6" r="1.85"/><circle cx="459.7" cy="353.4" r="1.85"/><circle cx="457.0" cy="351.5" r="1.85"/><circle cx="460.2" cy="356.8" r="1.85"/><circle cx="464.6" cy="387.6" r="1.85"/><circle cx="473.9" cy="340.9" r="1.85"/><circle cx="480.3" cy="378.7" r="1.85"/><circle cx="467.0" cy="356.0" r="1.85"/><circle cx="479.6" cy="375.9" r="1.85"/><circle cx="460.8" cy="385.3" r="1.85"/><circle cx="456.3" cy="333.6" r="1.85"/><circle cx="461.3" cy="354.5" r="1.85"/><circle cx="447.5" cy="403.2" r="1.85"/><circle cx="465.3" cy="366.4" r="1.85"/><circle cx="466.4" cy="334.4" r="1.85"/></g><g fill="#f0a832" stroke="#1c1c1c" stroke-width="0.6"><circle cx="545.9" cy="344.7" r="1.85"/><circle cx="551.1" cy="366.6" r="1.85"/><circle cx="521.8" cy="378.4" r="1.85"/><circle cx="546.1" cy="363.8" r="1.85"/><circle cx="538.1" cy="369.1" r="1.85"/><circle cx="556.0" cy="414.0" r="1.85"/><circle cx="509.6" cy="376.9" r="1.85"/><circle cx="547.5" cy="369.6" r="1.85"/><circle cx="522.8" cy="365.9" r="1.85"/><circle cx="526.8" cy="395.3" r="1.85"/><circle cx="534.6" cy="361.8" r="1.85"/><circle cx="526.5" cy="372.5" r="1.85"/><circle cx="544.8" cy="348.0" r="1.85"/><circle cx="532.0" cy="354.6" r="1.85"/><circle cx="514.5" cy="390.5" r="1.85"/><circle cx="527.6" cy="373.7" r="1.85"/><circle cx="538.4" cy="378.5" r="1.85"/><circle cx="532.7" cy="373.9" r="1.85"/><circle cx="524.0" cy="389.8" r="1.85"/><circle cx="510.0" cy="423.0" r="1.85"/><circle cx="554.7" cy="387.9" r="1.85"/><circle cx="518.9" cy="391.8" r="1.85"/><circle cx="533.7" cy="391.6" r="1.85"/><circle cx="545.4" cy="351.7" r="1.85"/><circle cx="531.7" cy="368.3" r="1.85"/><circle cx="506.0" cy="402.5" r="1.85"/><circle cx="550.5" cy="372.3" r="1.85"/><circle cx="519.6" cy="372.6" r="1.85"/><circle cx="538.2" cy="397.1" r="1.85"/><circle cx="528.1" cy="394.8" r="1.85"/><circle cx="528.2" cy="356.6" r="1.85"/><circle cx="524.4" cy="392.7" r="1.85"/><circle cx="561.6" cy="392.2" r="1.85"/><circle cx="523.2" cy="356.6" r="1.85"/><circle cx="530.5" cy="368.5" r="1.85"/><circle cx="555.0" cy="401.3" r="1.85"/><circle cx="515.0" cy="361.3" r="1.85"/><circle cx="558.0" cy="379.3" r="1.85"/><circle cx="538.3" cy="355.6" r="1.85"/><circle cx="534.0" cy="357.4" r="1.85"/><circle cx="549.5" cy="349.8" r="1.85"/><circle cx="512.1" cy="397.5" r="1.85"/><circle cx="550.3" cy="347.5" r="1.85"/><circle cx="530.9" cy="386.4" r="1.85"/><circle cx="532.4" cy="392.6" r="1.85"/><circle cx="549.7" cy="365.0" r="1.85"/><circle cx="521.7" cy="397.0" r="1.85"/><circle cx="560.5" cy="387.1" r="1.85"/><circle cx="542.9" cy="399.1" r="1.85"/><circle cx="539.7" cy="376.4" r="1.85"/><circle cx="537.3" cy="372.8" r="1.85"/><circle cx="525.4" cy="388.2" r="1.85"/><circle cx="527.8" cy="382.6" r="1.85"/><circle cx="547.2" cy="373.6" r="1.85"/><circle cx="557.5" cy="392.9" r="1.85"/><circle cx="512.1" cy="385.8" r="1.85"/><circle cx="548.9" cy="355.0" r="1.85"/><circle cx="549.3" cy="359.4" r="1.85"/><circle cx="523.8" cy="370.5" r="1.85"/><circle cx="541.2" cy="352.3" r="1.85"/><circle cx="519.3" cy="360.3" r="1.85"/><circle cx="544.8" cy="361.7" r="1.85"/><circle cx="557.1" cy="388.4" r="1.85"/><circle cx="538.9" cy="383.7" r="1.85"/><circle cx="541.6" cy="365.2" r="1.85"/><circle cx="517.3" cy="370.6" r="1.85"/><circle cx="559.3" cy="380.3" r="1.85"/><circle cx="520.4" cy="365.9" r="1.85"/><circle cx="539.1" cy="360.2" r="1.85"/><circle cx="541.5" cy="377.4" r="1.85"/><circle cx="529.6" cy="383.7" r="1.85"/><circle cx="506.9" cy="390.7" r="1.85"/><circle cx="554.4" cy="369.5" r="1.85"/><circle cx="513.6" cy="388.2" r="1.85"/><circle cx="539.1" cy="390.8" r="1.85"/><circle cx="524.1" cy="374.3" r="1.85"/><circle cx="548.9" cy="401.5" r="1.85"/><circle cx="517.8" cy="366.9" r="1.85"/><circle cx="545.2" cy="381.9" r="1.85"/><circle cx="545.2" cy="367.2" r="1.85"/><circle cx="544.1" cy="350.4" r="1.85"/><circle cx="524.8" cy="364.4" r="1.85"/><circle cx="541.9" cy="390.7" r="1.85"/><circle cx="544.6" cy="371.1" r="1.85"/><circle cx="553.8" cy="374.2" r="1.85"/><circle cx="519.6" cy="408.2" r="1.85"/><circle cx="549.5" cy="361.7" r="1.85"/><circle cx="547.0" cy="392.3" r="1.85"/><circle cx="522.9" cy="404.6" r="1.85"/><circle cx="551.8" cy="372.6" r="1.85"/><circle cx="523.8" cy="386.3" r="1.85"/><circle cx="537.3" cy="391.5" r="1.85"/><circle cx="554.3" cy="371.8" r="1.85"/><circle cx="519.8" cy="357.3" r="1.85"/><circle cx="543.7" cy="398.1" r="1.85"/><circle cx="516.6" cy="402.1" r="1.85"/><circle cx="530.4" cy="354.6" r="1.85"/><circle cx="529.3" cy="366.2" r="1.85"/><circle cx="510.9" cy="380.2" r="1.85"/><circle cx="523.8" cy="395.2" r="1.85"/><circle cx="531.0" cy="390.6" r="1.85"/><circle cx="517.0" cy="361.6" r="1.85"/><circle cx="537.9" cy="356.1" r="1.85"/><circle cx="548.5" cy="348.1" r="1.85"/><circle cx="516.6" cy="356.6" r="1.85"/><circle cx="534.5" cy="371.6" r="1.85"/><circle cx="536.1" cy="349.9" r="1.85"/><circle cx="535.4" cy="359.2" r="1.85"/><circle cx="551.6" cy="387.9" r="1.85"/><circle cx="554.7" cy="379.5" r="1.85"/><circle cx="527.9" cy="352.9" r="1.85"/><circle cx="521.3" cy="392.6" r="1.85"/><circle cx="521.3" cy="358.6" r="1.85"/><circle cx="517.1" cy="406.7" r="1.85"/><circle cx="561.7" cy="390.3" r="1.85"/><circle cx="512.4" cy="375.2" r="1.85"/><circle cx="552.5" cy="381.6" r="1.85"/><circle cx="540.8" cy="349.3" r="1.85"/><circle cx="521.9" cy="369.8" r="1.85"/><circle cx="558.0" cy="372.7" r="1.85"/><circle cx="519.3" cy="382.6" r="1.85"/><circle cx="513.9" cy="377.6" r="1.85"/><circle cx="508.6" cy="387.9" r="1.85"/><circle cx="547.1" cy="380.7" r="1.85"/><circle cx="556.0" cy="371.7" r="1.85"/><circle cx="513.8" cy="359.8" r="1.85"/><circle cx="560.2" cy="383.1" r="1.85"/><circle cx="529.8" cy="392.0" r="1.85"/><circle cx="536.0" cy="393.0" r="1.85"/><circle cx="518.8" cy="388.4" r="1.85"/><circle cx="538.1" cy="392.8" r="1.85"/><circle cx="534.1" cy="381.2" r="1.85"/><circle cx="521.7" cy="382.0" r="1.85"/><circle cx="512.1" cy="378.9" r="1.85"/><circle cx="513.6" cy="369.5" r="1.85"/><circle cx="540.1" cy="362.1" r="1.85"/><circle cx="516.1" cy="355.8" r="1.85"/><circle cx="544.2" cy="364.6" r="1.85"/><circle cx="511.2" cy="387.5" r="1.85"/><circle cx="538.1" cy="374.5" r="1.85"/><circle cx="521.8" cy="364.7" r="1.85"/><circle cx="549.4" cy="392.9" r="1.85"/><circle cx="523.1" cy="351.7" r="1.85"/><circle cx="509.2" cy="381.3" r="1.85"/><circle cx="521.7" cy="354.3" r="1.85"/><circle cx="544.1" cy="387.9" r="1.85"/><circle cx="530.6" cy="387.9" r="1.85"/><circle cx="553.9" cy="397.7" r="1.85"/><circle cx="524.5" cy="405.2" r="1.85"/><circle cx="528.9" cy="381.2" r="1.85"/><circle cx="533.4" cy="388.4" r="1.85"/><circle cx="558.8" cy="385.9" r="1.85"/><circle cx="509.4" cy="408.1" r="1.85"/><circle cx="542.0" cy="396.1" r="1.85"/><circle cx="558.2" cy="383.0" r="1.85"/><circle cx="518.9" cy="354.6" r="1.85"/><circle cx="525.1" cy="360.3" r="1.85"/><circle cx="538.0" cy="387.9" r="1.85"/><circle cx="568.2" cy="399.8" r="1.85"/><circle cx="526.8" cy="363.9" r="1.85"/><circle cx="566.3" cy="397.1" r="1.85"/><circle cx="516.4" cy="369.2" r="1.85"/><circle cx="532.6" cy="382.9" r="1.85"/><circle cx="515.6" cy="411.8" r="1.85"/><circle cx="536.4" cy="400.7" r="1.85"/><circle cx="517.1" cy="400.9" r="1.85"/><circle cx="536.1" cy="368.4" r="1.85"/><circle cx="542.4" cy="376.6" r="1.85"/><circle cx="522.6" cy="407.9" r="1.85"/><circle cx="534.3" cy="409.8" r="1.85"/><circle cx="531.3" cy="356.7" r="1.85"/><circle cx="552.8" cy="365.5" r="1.85"/><circle cx="541.5" cy="355.1" r="1.85"/><circle cx="558.2" cy="390.1" r="1.85"/><circle cx="550.9" cy="397.1" r="1.85"/><circle cx="529.1" cy="397.2" r="1.85"/><circle cx="527.1" cy="358.2" r="1.85"/><circle cx="516.9" cy="373.8" r="1.85"/><circle cx="533.4" cy="359.4" r="1.85"/><circle cx="513.4" cy="372.9" r="1.85"/><circle cx="513.8" cy="371.5" r="1.85"/><circle cx="541.2" cy="393.9" r="1.85"/><circle cx="534.9" cy="376.0" r="1.85"/><circle cx="543.5" cy="373.5" r="1.85"/><circle cx="527.6" cy="377.7" r="1.85"/><circle cx="536.8" cy="361.9" r="1.85"/><circle cx="563.1" cy="387.4" r="1.85"/><circle cx="524.8" cy="389.9" r="1.85"/><circle cx="526.4" cy="388.1" r="1.85"/><circle cx="549.1" cy="378.8" r="1.85"/><circle cx="526.0" cy="369.4" r="1.85"/><circle cx="553.4" cy="357.6" r="1.85"/><circle cx="532.7" cy="410.0" r="1.85"/><circle cx="543.1" cy="347.3" r="1.85"/><circle cx="542.7" cy="361.9" r="1.85"/><circle cx="510.1" cy="386.9" r="1.85"/><circle cx="548.4" cy="387.6" r="1.85"/><circle cx="550.7" cy="357.1" r="1.85"/><circle cx="549.1" cy="367.2" r="1.85"/><circle cx="530.6" cy="394.2" r="1.85"/><circle cx="511.2" cy="368.5" r="1.85"/><circle cx="516.7" cy="395.3" r="1.85"/><circle cx="562.2" cy="386.1" r="1.85"/><circle cx="543.1" cy="386.0" r="1.85"/><circle cx="517.4" cy="380.6" r="1.85"/><circle cx="517.2" cy="376.4" r="1.85"/><circle cx="531.6" cy="366.9" r="1.85"/><circle cx="517.8" cy="410.2" r="1.85"/><circle cx="566.7" cy="394.9" r="1.85"/><circle cx="517.9" cy="390.2" r="1.85"/><circle cx="560.3" cy="377.7" r="1.85"/><circle cx="542.8" cy="381.4" r="1.85"/><circle cx="532.1" cy="380.7" r="1.85"/><circle cx="534.1" cy="385.4" r="1.85"/><circle cx="523.3" cy="375.7" r="1.85"/><circle cx="515.9" cy="394.6" r="1.85"/><circle cx="536.2" cy="363.7" r="1.85"/><circle cx="544.0" cy="377.9" r="1.85"/><circle cx="520.6" cy="375.8" r="1.85"/><circle cx="532.4" cy="378.6" r="1.85"/><circle cx="514.8" cy="365.6" r="1.85"/><circle cx="545.6" cy="394.9" r="1.85"/><circle cx="525.8" cy="405.5" r="1.85"/><circle cx="540.2" cy="366.3" r="1.85"/><circle cx="530.1" cy="374.1" r="1.85"/><circle cx="520.1" cy="352.2" r="1.85"/><circle cx="525.1" cy="375.3" r="1.85"/><circle cx="546.0" cy="383.8" r="1.85"/><circle cx="552.6" cy="377.2" r="1.85"/><circle cx="546.9" cy="399.8" r="1.85"/><circle cx="505.8" cy="396.8" r="1.85"/><circle cx="531.4" cy="370.7" r="1.85"/><circle cx="556.5" cy="366.2" r="1.85"/><circle cx="521.1" cy="361.9" r="1.85"/><circle cx="548.8" cy="372.0" r="1.85"/><circle cx="533.9" cy="366.5" r="1.85"/><circle cx="548.1" cy="376.1" r="1.85"/><circle cx="541.7" cy="369.0" r="1.85"/><circle cx="517.8" cy="398.8" r="1.85"/><circle cx="535.6" cy="372.5" r="1.85"/><circle cx="551.6" cy="369.3" r="1.85"/><circle cx="518.9" cy="369.1" r="1.85"/><circle cx="551.8" cy="359.3" r="1.85"/><circle cx="548.7" cy="398.5" r="1.85"/><circle cx="529.7" cy="385.9" r="1.85"/><circle cx="528.2" cy="376.9" r="1.85"/><circle cx="550.9" cy="375.5" r="1.85"/><circle cx="556.6" cy="385.6" r="1.85"/><circle cx="542.5" cy="365.6" r="1.85"/><circle cx="543.5" cy="393.0" r="1.85"/><circle cx="545.9" cy="378.5" r="1.85"/><circle cx="552.9" cy="389.6" r="1.85"/><circle cx="545.8" cy="359.4" r="1.85"/><circle cx="540.1" cy="371.6" r="1.85"/><circle cx="554.8" cy="361.6" r="1.85"/><circle cx="538.8" cy="347.1" r="1.85"/><circle cx="546.9" cy="355.2" r="1.85"/><circle cx="530.1" cy="364.7" r="1.85"/><circle cx="532.4" cy="363.6" r="1.85"/><circle cx="533.6" cy="410.6" r="1.85"/><circle cx="560.9" cy="380.8" r="1.85"/><circle cx="515.3" cy="365.0" r="1.85"/><circle cx="509.8" cy="393.1" r="1.85"/><circle cx="523.0" cy="411.6" r="1.85"/><circle cx="545.8" cy="376.3" r="1.85"/><circle cx="538.8" cy="349.6" r="1.85"/><circle cx="551.3" cy="396.3" r="1.85"/><circle cx="549.3" cy="368.2" r="1.85"/><circle cx="551.6" cy="380.6" r="1.85"/><circle cx="547.6" cy="371.7" r="1.85"/><circle cx="537.2" cy="380.7" r="1.85"/><circle cx="553.1" cy="386.3" r="1.85"/><circle cx="539.7" cy="353.4" r="1.85"/><circle cx="543.3" cy="396.5" r="1.85"/><circle cx="545.0" cy="357.6" r="1.85"/><circle cx="556.5" cy="380.2" r="1.85"/><circle cx="526.1" cy="367.0" r="1.85"/><circle cx="543.9" cy="354.8" r="1.85"/><circle cx="520.5" cy="389.2" r="1.85"/><circle cx="520.1" cy="400.1" r="1.85"/><circle cx="528.2" cy="355.0" r="1.85"/><circle cx="533.4" cy="349.5" r="1.85"/><circle cx="542.4" cy="357.0" r="1.85"/><circle cx="528.0" cy="407.9" r="1.85"/><circle cx="519.4" cy="363.6" r="1.85"/><circle cx="560.0" cy="394.5" r="1.85"/><circle cx="555.4" cy="393.4" r="1.85"/><circle cx="547.2" cy="353.5" r="1.85"/><circle cx="549.9" cy="390.0" r="1.85"/><circle cx="543.3" cy="370.6" r="1.85"/><circle cx="555.1" cy="383.5" r="1.85"/><circle cx="558.4" cy="375.6" r="1.85"/><circle cx="547.7" cy="357.0" r="1.85"/><circle cx="524.8" cy="354.7" r="1.85"/><circle cx="553.1" cy="366.5" r="1.85"/><circle cx="516.9" cy="385.6" r="1.85"/><circle cx="516.3" cy="377.8" r="1.85"/><circle cx="516.5" cy="397.4" r="1.85"/><circle cx="521.4" cy="388.3" r="1.85"/><circle cx="536.9" cy="375.7" r="1.85"/><circle cx="509.5" cy="395.2" r="1.85"/><circle cx="539.9" cy="358.9" r="1.85"/><circle cx="537.0" cy="352.0" r="1.85"/><circle cx="532.3" cy="399.7" r="1.85"/><circle cx="528.4" cy="362.6" r="1.85"/><circle cx="556.4" cy="398.8" r="1.85"/><circle cx="555.7" cy="377.3" r="1.85"/><circle cx="547.4" cy="362.4" r="1.85"/><circle cx="510.2" cy="383.7" r="1.85"/><circle cx="512.9" cy="363.9" r="1.85"/><circle cx="508.7" cy="391.1" r="1.85"/><circle cx="525.7" cy="357.9" r="1.85"/><circle cx="536.1" cy="378.6" r="1.85"/><circle cx="535.1" cy="355.2" r="1.85"/><circle cx="552.3" cy="385.5" r="1.85"/><circle cx="551.3" cy="396.6" r="1.85"/><circle cx="544.8" cy="385.6" r="1.85"/><circle cx="513.1" cy="367.1" r="1.85"/><circle cx="552.2" cy="383.2" r="1.85"/><circle cx="520.1" cy="371.2" r="1.85"/><circle cx="524.2" cy="377.6" r="1.85"/><circle cx="541.1" cy="388.3" r="1.85"/><circle cx="533.7" cy="405.2" r="1.85"/><circle cx="544.8" cy="359.2" r="1.85"/><circle cx="543.8" cy="382.5" r="1.85"/><circle cx="555.0" cy="364.3" r="1.85"/><circle cx="514.8" cy="394.9" r="1.85"/><circle cx="539.7" cy="380.6" r="1.85"/><circle cx="543.8" cy="368.7" r="1.85"/><circle cx="512.6" cy="396.3" r="1.85"/><circle cx="548.4" cy="385.4" r="1.85"/><circle cx="530.9" cy="359.3" r="1.85"/><circle cx="559.6" cy="402.0" r="1.85"/><circle cx="531.6" cy="362.2" r="1.85"/><circle cx="513.9" cy="381.6" r="1.85"/><circle cx="535.8" cy="387.9" r="1.85"/><circle cx="550.5" cy="353.4" r="1.85"/><circle cx="514.4" cy="375.2" r="1.85"/><circle cx="519.5" cy="378.3" r="1.85"/><circle cx="546.6" cy="388.2" r="1.85"/><circle cx="520.8" cy="385.3" r="1.85"/><circle cx="525.7" cy="386.4" r="1.85"/><circle cx="547.3" cy="389.8" r="1.85"/><circle cx="515.7" cy="382.9" r="1.85"/><circle cx="530.1" cy="349.5" r="1.85"/><circle cx="534.2" cy="352.4" r="1.85"/><circle cx="551.8" cy="393.1" r="1.85"/><circle cx="548.4" cy="383.8" r="1.85"/><circle cx="540.9" cy="373.7" r="1.85"/><circle cx="513.8" cy="382.6" r="1.85"/><circle cx="529.0" cy="371.7" r="1.85"/><circle cx="547.7" cy="350.6" r="1.85"/><circle cx="506.6" cy="399.8" r="1.85"/><circle cx="530.7" cy="403.6" r="1.85"/><circle cx="525.8" cy="361.1" r="1.85"/><circle cx="522.9" cy="381.0" r="1.85"/><circle cx="520.9" cy="372.6" r="1.85"/><circle cx="538.9" cy="364.3" r="1.85"/><circle cx="540.7" cy="383.2" r="1.85"/><circle cx="515.7" cy="359.1" r="1.85"/><circle cx="564.1" cy="390.9" r="1.85"/><circle cx="516.1" cy="401.8" r="1.85"/><circle cx="512.7" cy="372.1" r="1.85"/><circle cx="537.0" cy="385.3" r="1.85"/><circle cx="539.7" cy="357.1" r="1.85"/><circle cx="526.7" cy="393.1" r="1.85"/><circle cx="545.6" cy="389.5" r="1.85"/><circle cx="513.6" cy="392.5" r="1.85"/><circle cx="526.8" cy="352.2" r="1.85"/><circle cx="504.1" cy="405.6" r="1.85"/><circle cx="560.2" cy="406.1" r="1.85"/><circle cx="520.9" cy="395.0" r="1.85"/><circle cx="523.9" cy="383.5" r="1.85"/><circle cx="535.8" cy="383.3" r="1.85"/><circle cx="557.8" cy="369.1" r="1.85"/><circle cx="512.2" cy="390.6" r="1.85"/><circle cx="513.8" cy="355.2" r="1.85"/><circle cx="560.0" cy="396.9" r="1.85"/><circle cx="525.0" cy="368.8" r="1.85"/><circle cx="556.3" cy="390.7" r="1.85"/><circle cx="563.3" cy="397.5" r="1.85"/><circle cx="515.9" cy="387.8" r="1.85"/><circle cx="531.0" cy="352.6" r="1.85"/><circle cx="524.8" cy="381.5" r="1.85"/><circle cx="514.9" cy="383.7" r="1.85"/><circle cx="553.6" cy="376.2" r="1.85"/><circle cx="515.2" cy="356.8" r="1.85"/><circle cx="510.4" cy="401.4" r="1.85"/><circle cx="529.4" cy="378.3" r="1.85"/><circle cx="511.2" cy="374.0" r="1.85"/><circle cx="524.0" cy="361.8" r="1.85"/><circle cx="519.8" cy="381.3" r="1.85"/><circle cx="537.1" cy="347.4" r="1.85"/><circle cx="508.2" cy="392.7" r="1.85"/><circle cx="528.2" cy="390.7" r="1.85"/><circle cx="538.1" cy="366.7" r="1.85"/><circle cx="540.3" cy="386.1" r="1.85"/><circle cx="563.2" cy="393.3" r="1.85"/><circle cx="530.7" cy="376.8" r="1.85"/></g><path d="M523.35,330.24 L525.90,332.79 L523.49,335.19 L525.90,337.60 L523.35,340.14 L520.95,337.74 L518.54,340.14 L516.00,337.60 L518.40,335.19 L516.00,332.79 L518.54,330.24 L520.95,332.65Z" fill="#000"/><path d="M578.33,349.57 L580.88,352.12 L578.47,354.52 L580.88,356.92 L578.33,359.47 L575.93,357.07 L573.52,359.47 L570.98,356.92 L573.38,354.52 L570.98,352.12 L573.52,349.57 L575.93,351.98Z" fill="#000"/><path d="M493.95,354.28 L496.50,356.83 L494.09,359.23 L496.50,361.64 L493.95,364.18 L491.55,361.78 L489.14,364.18 L486.60,361.64 L489.00,359.23 L486.60,356.83 L489.14,354.28 L491.55,356.69Z" fill="#000"/><path d="M535.55,359.72 L538.10,362.26 L535.70,364.67 L538.10,367.07 L535.55,369.62 L533.15,367.21 L530.75,369.62 L528.20,367.07 L530.60,364.67 L528.20,362.26 L530.75,359.72 L533.15,362.12Z" fill="#000"/>
<rect x="416.5" y="242.4" width="260.0" height="190.2" fill="none" stroke="#333" stroke-width="1"/>
<line x1="437.6" y1="432.6" x2="437.6" y2="436.1" stroke="#333" stroke-width="0.8"/>
<g font-size="9.4" text-anchor="middle" fill="#2a2a2a" stroke="#2a2a2a" stroke-width="0.08" font-family="Liberation Sans"><text transform="scale(0.80,1)" x="544.06" y="444.20">−</text><text transform="scale(0.84,1)" x="523.75" y="444.20">6</text></g>
<line x1="467.0" y1="432.6" x2="467.0" y2="436.1" stroke="#333" stroke-width="0.8"/>
<g font-size="9.4" text-anchor="middle" fill="#2a2a2a" stroke="#2a2a2a" stroke-width="0.08" font-family="Liberation Sans"><text transform="scale(0.80,1)" x="580.81" y="444.20">−</text><text transform="scale(0.84,1)" x="558.75" y="444.20">4</text></g>
<line x1="496.4" y1="432.6" x2="496.4" y2="436.1" stroke="#333" stroke-width="0.8"/>
<g font-size="9.4" text-anchor="middle" fill="#2a2a2a" stroke="#2a2a2a" stroke-width="0.08" font-family="Liberation Sans"><text transform="scale(0.80,1)" x="617.56" y="444.20">−</text><text transform="scale(0.84,1)" x="593.75" y="444.20">2</text></g>
<line x1="525.8" y1="432.6" x2="525.8" y2="436.1" stroke="#333" stroke-width="0.8"/>
<g font-size="9.4" text-anchor="middle" fill="#2a2a2a" stroke="#2a2a2a" stroke-width="0.08" font-family="Liberation Sans"><text transform="scale(0.84,1)" x="625.95" y="444.20">0</text></g>
<line x1="555.2" y1="432.6" x2="555.2" y2="436.1" stroke="#333" stroke-width="0.8"/>
<g font-size="9.4" text-anchor="middle" fill="#2a2a2a" stroke="#2a2a2a" stroke-width="0.08" font-family="Liberation Sans"><text transform="scale(0.84,1)" x="660.95" y="444.20">2</text></g>
<line x1="584.6" y1="432.6" x2="584.6" y2="436.1" stroke="#333" stroke-width="0.8"/>
<g font-size="9.4" text-anchor="middle" fill="#2a2a2a" stroke="#2a2a2a" stroke-width="0.08" font-family="Liberation Sans"><text transform="scale(0.84,1)" x="695.95" y="444.20">4</text></g>
<line x1="614.0" y1="432.6" x2="614.0" y2="436.1" stroke="#333" stroke-width="0.8"/>
<g font-size="9.4" text-anchor="middle" fill="#2a2a2a" stroke="#2a2a2a" stroke-width="0.08" font-family="Liberation Sans"><text transform="scale(0.84,1)" x="730.95" y="444.20">6</text></g>
<line x1="643.4" y1="432.6" x2="643.4" y2="436.1" stroke="#333" stroke-width="0.8"/>
<g font-size="9.4" text-anchor="middle" fill="#2a2a2a" stroke="#2a2a2a" stroke-width="0.08" font-family="Liberation Sans"><text transform="scale(0.84,1)" x="765.95" y="444.20">8</text></g>
<line x1="672.8" y1="432.6" x2="672.8" y2="436.1" stroke="#333" stroke-width="0.8"/>
<g font-size="9.4" text-anchor="middle" fill="#2a2a2a" stroke="#2a2a2a" stroke-width="0.08" font-family="Liberation Sans"><text transform="scale(0.84,1)" x="798.15 803.75" y="444.20">10</text></g>
<line x1="413.0" y1="426.9" x2="416.5" y2="426.9" stroke="#333" stroke-width="0.8"/>
<g font-size="9.4" text-anchor="middle" fill="#2a2a2a" stroke="#2a2a2a" stroke-width="0.08" font-family="Liberation Sans"><text transform="scale(0.80,1)" x="504.94" y="430.18">−</text><text transform="scale(0.84,1)" x="486.49" y="430.18">6</text></g>
<line x1="413.0" y1="402.7" x2="416.5" y2="402.7" stroke="#333" stroke-width="0.8"/>
<g font-size="9.4" text-anchor="middle" fill="#2a2a2a" stroke="#2a2a2a" stroke-width="0.08" font-family="Liberation Sans"><text transform="scale(0.80,1)" x="504.94" y="406.02">−</text><text transform="scale(0.84,1)" x="486.49" y="406.02">4</text></g>
<line x1="413.0" y1="378.6" x2="416.5" y2="378.6" stroke="#333" stroke-width="0.8"/>
<g font-size="9.4" text-anchor="middle" fill="#2a2a2a" stroke="#2a2a2a" stroke-width="0.08" font-family="Liberation Sans"><text transform="scale(0.80,1)" x="504.94" y="381.86">−</text><text transform="scale(0.84,1)" x="486.49" y="381.86">2</text></g>
<line x1="413.0" y1="354.4" x2="416.5" y2="354.4" stroke="#333" stroke-width="0.8"/>
<g font-size="9.4" text-anchor="middle" fill="#2a2a2a" stroke="#2a2a2a" stroke-width="0.08" font-family="Liberation Sans"><text transform="scale(0.84,1)" x="486.49" y="357.70">0</text></g>
<line x1="413.0" y1="330.2" x2="416.5" y2="330.2" stroke="#333" stroke-width="0.8"/>
<g font-size="9.4" text-anchor="middle" fill="#2a2a2a" stroke="#2a2a2a" stroke-width="0.08" font-family="Liberation Sans"><text transform="scale(0.84,1)" x="486.49" y="333.54">2</text></g>
<line x1="413.0" y1="306.1" x2="416.5" y2="306.1" stroke="#333" stroke-width="0.8"/>
<g font-size="9.4" text-anchor="middle" fill="#2a2a2a" stroke="#2a2a2a" stroke-width="0.08" font-family="Liberation Sans"><text transform="scale(0.84,1)" x="486.49" y="309.38">4</text></g>
<line x1="413.0" y1="281.9" x2="416.5" y2="281.9" stroke="#333" stroke-width="0.8"/>
<g font-size="9.4" text-anchor="middle" fill="#2a2a2a" stroke="#2a2a2a" stroke-width="0.08" font-family="Liberation Sans"><text transform="scale(0.84,1)" x="486.49" y="285.22">6</text></g>
<line x1="413.0" y1="257.8" x2="416.5" y2="257.8" stroke="#333" stroke-width="0.8"/>
<g font-size="9.4" text-anchor="middle" fill="#2a2a2a" stroke="#2a2a2a" stroke-width="0.08" font-family="Liberation Sans"><text transform="scale(0.84,1)" x="486.49" y="261.06">8</text></g>
<g font-size="9.6" text-anchor="middle" fill="#2a2a2a" stroke="#2a2a2a" stroke-width="0.08" font-family="Liberation Sans"><text transform="scale(0.72,1)" x="721.11" y="454.80">P</text><text transform="scale(0.64,1)" x="818.75 886.25" y="454.80">C%</text><text transform="scale(0.84,1)" x="629.52 646.67 652.38 663.81 669.52" y="454.80">14454</text><text transform="scale(0.88,1)" x="612.47 626.98 649.35" y="454.80">(.)</text></g>
<g font-size="9.6" text-anchor="middle" fill="#2a2a2a" stroke="#2a2a2a" stroke-width="0.08" font-family="Liberation Sans" transform="translate(397.90,338.90) rotate(-90)"><text transform="scale(0.72,1)" x="-36.28" y="0.00">P</text><text transform="scale(0.64,1)" x="-33.40 33.40" y="0.00">C%</text><text transform="scale(0.84,1)" x="-19.79 -2.83 2.83 14.14 19.79" y="0.00">21663</text><text transform="scale(0.88,1)" x="-7.45 6.91 29.04" y="0.00">(.)</text></g>
<g font-size="9.6" text-anchor="middle" fill="#222" stroke="#222" stroke-width="0.08" font-family="Liberation Sans"><text transform="scale(0.72,1)" x="680.85" y="239.30">K</text><text transform="scale(0.84,1)" x="589.33 600.82 606.56 612.31 641.03 658.26 675.49 681.24 709.96" y="239.30">–eanueng4</text><text transform="scale(0.68,1)" x="735.09 777.67" y="239.30">mC</text><text transform="scale(0.88,1)" x="589.96 606.41 617.37 622.86 633.82 639.30 661.89 666.72 682.51" y="239.30">slstri(k)</text><text transform="scale(0.80,1)" x="739.42" y="239.30">=</text></g>
<rect x="599.6" y="247.6" width="72.6" height="61" rx="2" fill="#fff" fill-opacity="0.8" stroke="#d5d5d5" stroke-width="0.8"/>
<circle cx="611.9" cy="254.5" r="2.1" fill="#2f8e3f" fill-opacity="0.9" stroke="#1a1a1a" stroke-width="0.5"/>
<g font-size="9.2" text-anchor="middle" fill="#222" stroke="#222" stroke-width="0.08" font-family="Liberation Sans"><text transform="scale(0.64,1)" x="984.11" y="257.40">C</text><text transform="scale(0.88,1)" x="720.80 730.95 736.02 746.17" y="257.40">lstr</text><text transform="scale(0.84,1)" x="760.44 776.39 792.34" y="257.40">ue1</text></g>
<circle cx="611.9" cy="266.4" r="2.1" fill="#e42929" fill-opacity="0.9" stroke="#1a1a1a" stroke-width="0.5"/>
<g font-size="9.2" text-anchor="middle" fill="#222" stroke="#222" stroke-width="0.08" font-family="Liberation Sans"><text transform="scale(0.64,1)" x="984.11" y="269.30">C</text><text transform="scale(0.88,1)" x="720.80 730.95 736.02 746.17" y="269.30">lstr</text><text transform="scale(0.84,1)" x="760.44 776.39 792.34" y="269.30">ue2</text></g>
<circle cx="611.9" cy="278.1" r="2.1" fill="#3a50b8" fill-opacity="0.9" stroke="#1a1a1a" stroke-width="0.5"/>
<g font-size="9.2" text-anchor="middle" fill="#222" stroke="#222" stroke-width="0.08" font-family="Liberation Sans"><text transform="scale(0.64,1)" x="984.11" y="281.00">C</text><text transform="scale(0.88,1)" x="720.80 730.95 736.02 746.17" y="281.00">lstr</text><text transform="scale(0.84,1)" x="760.44 776.39 792.34" y="281.00">ue3</text></g>
<circle cx="611.9" cy="290.0" r="2.1" fill="#f0a832" fill-opacity="0.9" stroke="#1a1a1a" stroke-width="0.5"/>
<g font-size="9.2" text-anchor="middle" fill="#222" stroke="#222" stroke-width="0.08" font-family="Liberation Sans"><text transform="scale(0.64,1)" x="984.11" y="292.90">C</text><text transform="scale(0.88,1)" x="720.80 730.95 736.02 746.17" y="292.90">lstr</text><text transform="scale(0.84,1)" x="760.44 776.39 792.34" y="292.90">ue4</text></g>
<path d="M614.45,296.33 L617.27,299.15 L614.73,301.70 L617.27,304.25 L614.45,307.07 L611.90,304.53 L609.35,307.07 L606.53,304.25 L609.07,301.70 L606.53,299.15 L609.35,296.33 L611.90,298.87Z" fill="#000"/>
<g font-size="9.2" text-anchor="middle" fill="#222" stroke="#222" stroke-width="0.08" font-family="Liberation Sans"><text transform="scale(0.64,1)" x="984.11" y="304.60">C</text><text transform="scale(0.84,1)" x="755.12 760.44 776.39 787.02" y="304.60">enod</text><text transform="scale(0.88,1)" x="730.95 736.02 746.17 756.33" y="304.60">tris</text></g></svg></body></html>
